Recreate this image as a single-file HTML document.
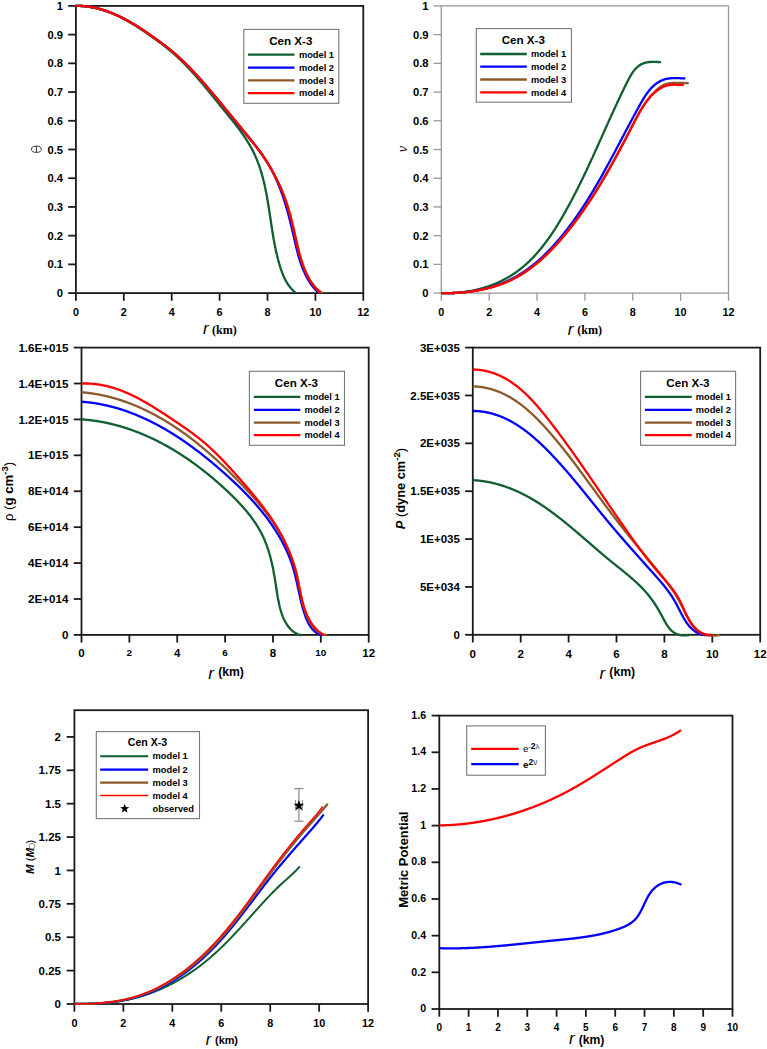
<!DOCTYPE html>
<html><head><meta charset="utf-8"><style>
html,body{margin:0;padding:0;background:#fff;overflow:hidden;font-family:"Liberation Sans", sans-serif;}
svg{display:block;}
</style></head><body>
<svg width="767" height="1049" viewBox="0 0 767 1049">
<rect x="0" y="0" width="767" height="1049" fill="#fff"/>
<rect x="75.90" y="5.90" width="287.40" height="287.20" fill="none" stroke="#1a1a1a" stroke-width="1.8"/>
<line x1="68.20" y1="293.10" x2="75.90" y2="293.10" stroke="#1a1a1a" stroke-width="1.8"/>
<text x="63.00" y="297.11" font-family="'Liberation Sans', sans-serif" font-size="11.2" font-weight="bold" font-style="normal" text-anchor="end" fill="#000" >0</text>
<line x1="68.20" y1="264.38" x2="75.90" y2="264.38" stroke="#1a1a1a" stroke-width="1.8"/>
<text x="63.00" y="268.39" font-family="'Liberation Sans', sans-serif" font-size="11.2" font-weight="bold" font-style="normal" text-anchor="end" fill="#000" >0.1</text>
<line x1="68.20" y1="235.66" x2="75.90" y2="235.66" stroke="#1a1a1a" stroke-width="1.8"/>
<text x="63.00" y="239.67" font-family="'Liberation Sans', sans-serif" font-size="11.2" font-weight="bold" font-style="normal" text-anchor="end" fill="#000" >0.2</text>
<line x1="68.20" y1="206.94" x2="75.90" y2="206.94" stroke="#1a1a1a" stroke-width="1.8"/>
<text x="63.00" y="210.95" font-family="'Liberation Sans', sans-serif" font-size="11.2" font-weight="bold" font-style="normal" text-anchor="end" fill="#000" >0.3</text>
<line x1="68.20" y1="178.22" x2="75.90" y2="178.22" stroke="#1a1a1a" stroke-width="1.8"/>
<text x="63.00" y="182.23" font-family="'Liberation Sans', sans-serif" font-size="11.2" font-weight="bold" font-style="normal" text-anchor="end" fill="#000" >0.4</text>
<line x1="68.20" y1="149.50" x2="75.90" y2="149.50" stroke="#1a1a1a" stroke-width="1.8"/>
<text x="63.00" y="153.51" font-family="'Liberation Sans', sans-serif" font-size="11.2" font-weight="bold" font-style="normal" text-anchor="end" fill="#000" >0.5</text>
<line x1="68.20" y1="120.78" x2="75.90" y2="120.78" stroke="#1a1a1a" stroke-width="1.8"/>
<text x="63.00" y="124.79" font-family="'Liberation Sans', sans-serif" font-size="11.2" font-weight="bold" font-style="normal" text-anchor="end" fill="#000" >0.6</text>
<line x1="68.20" y1="92.06" x2="75.90" y2="92.06" stroke="#1a1a1a" stroke-width="1.8"/>
<text x="63.00" y="96.07" font-family="'Liberation Sans', sans-serif" font-size="11.2" font-weight="bold" font-style="normal" text-anchor="end" fill="#000" >0.7</text>
<line x1="68.20" y1="63.34" x2="75.90" y2="63.34" stroke="#1a1a1a" stroke-width="1.8"/>
<text x="63.00" y="67.35" font-family="'Liberation Sans', sans-serif" font-size="11.2" font-weight="bold" font-style="normal" text-anchor="end" fill="#000" >0.8</text>
<line x1="68.20" y1="34.62" x2="75.90" y2="34.62" stroke="#1a1a1a" stroke-width="1.8"/>
<text x="63.00" y="38.63" font-family="'Liberation Sans', sans-serif" font-size="11.2" font-weight="bold" font-style="normal" text-anchor="end" fill="#000" >0.9</text>
<line x1="68.20" y1="5.90" x2="75.90" y2="5.90" stroke="#1a1a1a" stroke-width="1.8"/>
<text x="63.00" y="9.91" font-family="'Liberation Sans', sans-serif" font-size="11.2" font-weight="bold" font-style="normal" text-anchor="end" fill="#000" >1</text>
<line x1="75.90" y1="293.10" x2="75.90" y2="300.80" stroke="#1a1a1a" stroke-width="1.8"/>
<text x="75.90" y="315.60" font-family="'Liberation Sans', sans-serif" font-size="10.8" font-weight="bold" font-style="normal" text-anchor="middle" fill="#000" >0</text>
<line x1="123.80" y1="293.10" x2="123.80" y2="300.80" stroke="#1a1a1a" stroke-width="1.8"/>
<text x="123.80" y="315.60" font-family="'Liberation Sans', sans-serif" font-size="10.8" font-weight="bold" font-style="normal" text-anchor="middle" fill="#000" >2</text>
<line x1="171.70" y1="293.10" x2="171.70" y2="300.80" stroke="#1a1a1a" stroke-width="1.8"/>
<text x="171.70" y="315.60" font-family="'Liberation Sans', sans-serif" font-size="10.8" font-weight="bold" font-style="normal" text-anchor="middle" fill="#000" >4</text>
<line x1="219.60" y1="293.10" x2="219.60" y2="300.80" stroke="#1a1a1a" stroke-width="1.8"/>
<text x="219.60" y="315.60" font-family="'Liberation Sans', sans-serif" font-size="10.8" font-weight="bold" font-style="normal" text-anchor="middle" fill="#000" >6</text>
<line x1="267.50" y1="293.10" x2="267.50" y2="300.80" stroke="#1a1a1a" stroke-width="1.8"/>
<text x="267.50" y="315.60" font-family="'Liberation Sans', sans-serif" font-size="10.8" font-weight="bold" font-style="normal" text-anchor="middle" fill="#000" >8</text>
<line x1="315.40" y1="293.10" x2="315.40" y2="300.80" stroke="#1a1a1a" stroke-width="1.8"/>
<text x="315.40" y="315.60" font-family="'Liberation Sans', sans-serif" font-size="10.8" font-weight="bold" font-style="normal" text-anchor="middle" fill="#000" >10</text>
<line x1="363.30" y1="293.10" x2="363.30" y2="300.80" stroke="#1a1a1a" stroke-width="1.8"/>
<text x="363.30" y="315.60" font-family="'Liberation Sans', sans-serif" font-size="10.8" font-weight="bold" font-style="normal" text-anchor="middle" fill="#000" >12</text>
<ellipse cx="36.4" cy="149.25" rx="4.9" ry="3.15" fill="none" stroke="#333" stroke-width="1.0"/><line x1="36.4" y1="146.1" x2="36.4" y2="152.4" stroke="#333" stroke-width="1.0"/>
<text x="205.80" y="334.40" font-family="'Liberation Sans', sans-serif" font-size="17" font-weight="normal" font-style="italic" text-anchor="middle" fill="#000" >r</text>
<text x="224.40" y="333.70" font-family="'Liberation Serif', serif" font-size="12.1" font-weight="bold" font-style="normal" text-anchor="middle" fill="#000" >(km)</text>
<rect x="441.30" y="5.90" width="287.20" height="287.20" fill="none" stroke="#999" stroke-width="1.3"/>
<line x1="433.60" y1="293.10" x2="441.30" y2="293.10" stroke="#999" stroke-width="1.3"/>
<text x="428.50" y="297.11" font-family="'Liberation Sans', sans-serif" font-size="11.2" font-weight="bold" font-style="normal" text-anchor="end" fill="#000" >0</text>
<line x1="433.60" y1="264.38" x2="441.30" y2="264.38" stroke="#999" stroke-width="1.3"/>
<text x="428.50" y="268.39" font-family="'Liberation Sans', sans-serif" font-size="11.2" font-weight="bold" font-style="normal" text-anchor="end" fill="#000" >0.1</text>
<line x1="433.60" y1="235.66" x2="441.30" y2="235.66" stroke="#999" stroke-width="1.3"/>
<text x="428.50" y="239.67" font-family="'Liberation Sans', sans-serif" font-size="11.2" font-weight="bold" font-style="normal" text-anchor="end" fill="#000" >0.2</text>
<line x1="433.60" y1="206.94" x2="441.30" y2="206.94" stroke="#999" stroke-width="1.3"/>
<text x="428.50" y="210.95" font-family="'Liberation Sans', sans-serif" font-size="11.2" font-weight="bold" font-style="normal" text-anchor="end" fill="#000" >0.3</text>
<line x1="433.60" y1="178.22" x2="441.30" y2="178.22" stroke="#999" stroke-width="1.3"/>
<text x="428.50" y="182.23" font-family="'Liberation Sans', sans-serif" font-size="11.2" font-weight="bold" font-style="normal" text-anchor="end" fill="#000" >0.4</text>
<line x1="433.60" y1="149.50" x2="441.30" y2="149.50" stroke="#999" stroke-width="1.3"/>
<text x="428.50" y="153.51" font-family="'Liberation Sans', sans-serif" font-size="11.2" font-weight="bold" font-style="normal" text-anchor="end" fill="#000" >0.5</text>
<line x1="433.60" y1="120.78" x2="441.30" y2="120.78" stroke="#999" stroke-width="1.3"/>
<text x="428.50" y="124.79" font-family="'Liberation Sans', sans-serif" font-size="11.2" font-weight="bold" font-style="normal" text-anchor="end" fill="#000" >0.6</text>
<line x1="433.60" y1="92.06" x2="441.30" y2="92.06" stroke="#999" stroke-width="1.3"/>
<text x="428.50" y="96.07" font-family="'Liberation Sans', sans-serif" font-size="11.2" font-weight="bold" font-style="normal" text-anchor="end" fill="#000" >0.7</text>
<line x1="433.60" y1="63.34" x2="441.30" y2="63.34" stroke="#999" stroke-width="1.3"/>
<text x="428.50" y="67.35" font-family="'Liberation Sans', sans-serif" font-size="11.2" font-weight="bold" font-style="normal" text-anchor="end" fill="#000" >0.8</text>
<line x1="433.60" y1="34.62" x2="441.30" y2="34.62" stroke="#999" stroke-width="1.3"/>
<text x="428.50" y="38.63" font-family="'Liberation Sans', sans-serif" font-size="11.2" font-weight="bold" font-style="normal" text-anchor="end" fill="#000" >0.9</text>
<line x1="433.60" y1="5.90" x2="441.30" y2="5.90" stroke="#999" stroke-width="1.3"/>
<text x="428.50" y="9.91" font-family="'Liberation Sans', sans-serif" font-size="11.2" font-weight="bold" font-style="normal" text-anchor="end" fill="#000" >1</text>
<line x1="441.30" y1="293.10" x2="441.30" y2="300.80" stroke="#999" stroke-width="1.3"/>
<text x="441.30" y="315.60" font-family="'Liberation Sans', sans-serif" font-size="10.8" font-weight="bold" font-style="normal" text-anchor="middle" fill="#000" >0</text>
<line x1="489.17" y1="293.10" x2="489.17" y2="300.80" stroke="#999" stroke-width="1.3"/>
<text x="489.17" y="315.60" font-family="'Liberation Sans', sans-serif" font-size="10.8" font-weight="bold" font-style="normal" text-anchor="middle" fill="#000" >2</text>
<line x1="537.03" y1="293.10" x2="537.03" y2="300.80" stroke="#999" stroke-width="1.3"/>
<text x="537.03" y="315.60" font-family="'Liberation Sans', sans-serif" font-size="10.8" font-weight="bold" font-style="normal" text-anchor="middle" fill="#000" >4</text>
<line x1="584.90" y1="293.10" x2="584.90" y2="300.80" stroke="#999" stroke-width="1.3"/>
<text x="584.90" y="315.60" font-family="'Liberation Sans', sans-serif" font-size="10.8" font-weight="bold" font-style="normal" text-anchor="middle" fill="#000" >6</text>
<line x1="632.77" y1="293.10" x2="632.77" y2="300.80" stroke="#999" stroke-width="1.3"/>
<text x="632.77" y="315.60" font-family="'Liberation Sans', sans-serif" font-size="10.8" font-weight="bold" font-style="normal" text-anchor="middle" fill="#000" >8</text>
<line x1="680.63" y1="293.10" x2="680.63" y2="300.80" stroke="#999" stroke-width="1.3"/>
<text x="680.63" y="315.60" font-family="'Liberation Sans', sans-serif" font-size="10.8" font-weight="bold" font-style="normal" text-anchor="middle" fill="#000" >10</text>
<line x1="728.50" y1="293.10" x2="728.50" y2="300.80" stroke="#999" stroke-width="1.3"/>
<text x="728.50" y="315.60" font-family="'Liberation Sans', sans-serif" font-size="10.8" font-weight="bold" font-style="normal" text-anchor="middle" fill="#000" >12</text>
<text transform="translate(406.6,148.9) rotate(-90)" font-family="'Liberation Sans', sans-serif" font-size="12" font-style="italic" fill="#111" text-anchor="middle">&#957;</text>
<text x="570.60" y="335.20" font-family="'Liberation Sans', sans-serif" font-size="17" font-weight="normal" font-style="italic" text-anchor="middle" fill="#000" >r</text>
<text x="589.60" y="334.00" font-family="'Liberation Serif', serif" font-size="12.1" font-weight="bold" font-style="normal" text-anchor="middle" fill="#000" >(km)</text>
<rect x="81.50" y="347.60" width="287.20" height="287.30" fill="none" stroke="#1a1a1a" stroke-width="1.8"/>
<line x1="73.80" y1="634.90" x2="81.50" y2="634.90" stroke="#1a1a1a" stroke-width="1.8"/>
<text x="68.40" y="639.05" font-family="'Liberation Sans', sans-serif" font-size="11.6" font-weight="bold" font-style="normal" text-anchor="end" fill="#000" >0</text>
<line x1="73.80" y1="598.99" x2="81.50" y2="598.99" stroke="#1a1a1a" stroke-width="1.8"/>
<text x="68.40" y="603.14" font-family="'Liberation Sans', sans-serif" font-size="11.6" font-weight="bold" font-style="normal" text-anchor="end" fill="#000" >2E+014</text>
<line x1="73.80" y1="563.08" x2="81.50" y2="563.08" stroke="#1a1a1a" stroke-width="1.8"/>
<text x="68.40" y="567.23" font-family="'Liberation Sans', sans-serif" font-size="11.6" font-weight="bold" font-style="normal" text-anchor="end" fill="#000" >4E+014</text>
<line x1="73.80" y1="527.16" x2="81.50" y2="527.16" stroke="#1a1a1a" stroke-width="1.8"/>
<text x="68.40" y="531.32" font-family="'Liberation Sans', sans-serif" font-size="11.6" font-weight="bold" font-style="normal" text-anchor="end" fill="#000" >6E+014</text>
<line x1="73.80" y1="491.25" x2="81.50" y2="491.25" stroke="#1a1a1a" stroke-width="1.8"/>
<text x="68.40" y="495.40" font-family="'Liberation Sans', sans-serif" font-size="11.6" font-weight="bold" font-style="normal" text-anchor="end" fill="#000" >8E+014</text>
<line x1="73.80" y1="455.34" x2="81.50" y2="455.34" stroke="#1a1a1a" stroke-width="1.8"/>
<text x="68.40" y="459.49" font-family="'Liberation Sans', sans-serif" font-size="11.6" font-weight="bold" font-style="normal" text-anchor="end" fill="#000" >1E+015</text>
<line x1="73.80" y1="419.43" x2="81.50" y2="419.43" stroke="#1a1a1a" stroke-width="1.8"/>
<text x="68.40" y="423.58" font-family="'Liberation Sans', sans-serif" font-size="11.6" font-weight="bold" font-style="normal" text-anchor="end" fill="#000" >1.2E+015</text>
<line x1="73.80" y1="383.51" x2="81.50" y2="383.51" stroke="#1a1a1a" stroke-width="1.8"/>
<text x="68.40" y="387.67" font-family="'Liberation Sans', sans-serif" font-size="11.6" font-weight="bold" font-style="normal" text-anchor="end" fill="#000" >1.4E+015</text>
<line x1="73.80" y1="347.60" x2="81.50" y2="347.60" stroke="#1a1a1a" stroke-width="1.8"/>
<text x="68.40" y="351.75" font-family="'Liberation Sans', sans-serif" font-size="11.6" font-weight="bold" font-style="normal" text-anchor="end" fill="#000" >1.6E+015</text>
<line x1="81.50" y1="634.90" x2="81.50" y2="642.60" stroke="#1a1a1a" stroke-width="1.8"/>
<text x="81.50" y="657.30" font-family="'Liberation Sans', sans-serif" font-size="11.5" font-weight="bold" font-style="normal" text-anchor="middle" fill="#000" >0</text>
<line x1="129.37" y1="634.90" x2="129.37" y2="642.60" stroke="#1a1a1a" stroke-width="1.8"/>
<text x="129.37" y="655.70" font-family="'Liberation Sans', sans-serif" font-size="9.9" font-weight="bold" font-style="normal" text-anchor="middle" fill="#000" >2</text>
<line x1="177.23" y1="634.90" x2="177.23" y2="642.60" stroke="#1a1a1a" stroke-width="1.8"/>
<text x="177.23" y="657.30" font-family="'Liberation Sans', sans-serif" font-size="11.5" font-weight="bold" font-style="normal" text-anchor="middle" fill="#000" >4</text>
<line x1="225.10" y1="634.90" x2="225.10" y2="642.60" stroke="#1a1a1a" stroke-width="1.8"/>
<text x="225.10" y="655.70" font-family="'Liberation Sans', sans-serif" font-size="9.9" font-weight="bold" font-style="normal" text-anchor="middle" fill="#000" >6</text>
<line x1="272.97" y1="634.90" x2="272.97" y2="642.60" stroke="#1a1a1a" stroke-width="1.8"/>
<text x="272.97" y="657.30" font-family="'Liberation Sans', sans-serif" font-size="11.5" font-weight="bold" font-style="normal" text-anchor="middle" fill="#000" >8</text>
<line x1="320.83" y1="634.90" x2="320.83" y2="642.60" stroke="#1a1a1a" stroke-width="1.8"/>
<text x="320.83" y="655.70" font-family="'Liberation Sans', sans-serif" font-size="9.9" font-weight="bold" font-style="normal" text-anchor="middle" fill="#000" >10</text>
<line x1="368.70" y1="634.90" x2="368.70" y2="642.60" stroke="#1a1a1a" stroke-width="1.8"/>
<text x="368.70" y="657.30" font-family="'Liberation Sans', sans-serif" font-size="11.5" font-weight="bold" font-style="normal" text-anchor="middle" fill="#000" >12</text>
<g transform="translate(13,491.5) rotate(-90)"><text font-family="'Liberation Sans', sans-serif" font-size="13.2" text-anchor="middle" fill="#000"><tspan font-weight="normal">&#961;</tspan><tspan font-weight="normal"> (</tspan><tspan font-weight="bold">g cm</tspan><tspan font-weight="bold" font-size="9.5" dy="-5.5">-3</tspan><tspan font-weight="normal" dy="5.5">)</tspan></text></g>
<text x="211.00" y="678.80" font-family="'Liberation Sans', sans-serif" font-size="17" font-weight="normal" font-style="italic" text-anchor="middle" fill="#000" >r</text>
<text x="231.00" y="676.40" font-family="'Liberation Sans', sans-serif" font-size="12.2" font-weight="bold" font-style="normal" text-anchor="middle" fill="#000" >(km)</text>
<rect x="472.80" y="347.60" width="287.40" height="287.20" fill="none" stroke="#1a1a1a" stroke-width="1.8"/>
<line x1="465.10" y1="634.80" x2="472.80" y2="634.80" stroke="#1a1a1a" stroke-width="1.8"/>
<text x="459.90" y="638.92" font-family="'Liberation Sans', sans-serif" font-size="11.5" font-weight="bold" font-style="normal" text-anchor="end" fill="#000" >0</text>
<line x1="465.10" y1="586.93" x2="472.80" y2="586.93" stroke="#1a1a1a" stroke-width="1.8"/>
<text x="459.90" y="591.05" font-family="'Liberation Sans', sans-serif" font-size="11.5" font-weight="bold" font-style="normal" text-anchor="end" fill="#000" >5E+034</text>
<line x1="465.10" y1="539.07" x2="472.80" y2="539.07" stroke="#1a1a1a" stroke-width="1.8"/>
<text x="459.90" y="543.18" font-family="'Liberation Sans', sans-serif" font-size="11.5" font-weight="bold" font-style="normal" text-anchor="end" fill="#000" >1E+035</text>
<line x1="465.10" y1="491.20" x2="472.80" y2="491.20" stroke="#1a1a1a" stroke-width="1.8"/>
<text x="459.90" y="495.32" font-family="'Liberation Sans', sans-serif" font-size="11.5" font-weight="bold" font-style="normal" text-anchor="end" fill="#000" >1.5E+035</text>
<line x1="465.10" y1="443.33" x2="472.80" y2="443.33" stroke="#1a1a1a" stroke-width="1.8"/>
<text x="459.90" y="447.45" font-family="'Liberation Sans', sans-serif" font-size="11.5" font-weight="bold" font-style="normal" text-anchor="end" fill="#000" >2E+035</text>
<line x1="465.10" y1="395.47" x2="472.80" y2="395.47" stroke="#1a1a1a" stroke-width="1.8"/>
<text x="459.90" y="399.58" font-family="'Liberation Sans', sans-serif" font-size="11.5" font-weight="bold" font-style="normal" text-anchor="end" fill="#000" >2.5E+035</text>
<line x1="465.10" y1="347.60" x2="472.80" y2="347.60" stroke="#1a1a1a" stroke-width="1.8"/>
<text x="459.90" y="351.72" font-family="'Liberation Sans', sans-serif" font-size="11.5" font-weight="bold" font-style="normal" text-anchor="end" fill="#000" >3E+035</text>
<line x1="472.80" y1="634.80" x2="472.80" y2="642.50" stroke="#1a1a1a" stroke-width="1.8"/>
<text x="472.80" y="657.60" font-family="'Liberation Sans', sans-serif" font-size="11.5" font-weight="bold" font-style="normal" text-anchor="middle" fill="#000" >0</text>
<line x1="520.70" y1="634.80" x2="520.70" y2="642.50" stroke="#1a1a1a" stroke-width="1.8"/>
<text x="520.70" y="657.60" font-family="'Liberation Sans', sans-serif" font-size="11.5" font-weight="bold" font-style="normal" text-anchor="middle" fill="#000" >2</text>
<line x1="568.60" y1="634.80" x2="568.60" y2="642.50" stroke="#1a1a1a" stroke-width="1.8"/>
<text x="568.60" y="657.60" font-family="'Liberation Sans', sans-serif" font-size="11.5" font-weight="bold" font-style="normal" text-anchor="middle" fill="#000" >4</text>
<line x1="616.50" y1="634.80" x2="616.50" y2="642.50" stroke="#1a1a1a" stroke-width="1.8"/>
<text x="616.50" y="657.60" font-family="'Liberation Sans', sans-serif" font-size="11.5" font-weight="bold" font-style="normal" text-anchor="middle" fill="#000" >6</text>
<line x1="664.40" y1="634.80" x2="664.40" y2="642.50" stroke="#1a1a1a" stroke-width="1.8"/>
<text x="664.40" y="657.60" font-family="'Liberation Sans', sans-serif" font-size="11.5" font-weight="bold" font-style="normal" text-anchor="middle" fill="#000" >8</text>
<line x1="712.30" y1="634.80" x2="712.30" y2="642.50" stroke="#1a1a1a" stroke-width="1.8"/>
<text x="712.30" y="657.60" font-family="'Liberation Sans', sans-serif" font-size="11.5" font-weight="bold" font-style="normal" text-anchor="middle" fill="#000" >10</text>
<line x1="760.20" y1="634.80" x2="760.20" y2="642.50" stroke="#1a1a1a" stroke-width="1.8"/>
<text x="760.20" y="657.60" font-family="'Liberation Sans', sans-serif" font-size="11.5" font-weight="bold" font-style="normal" text-anchor="middle" fill="#000" >12</text>
<g transform="translate(405,488.5) rotate(-90)"><text font-family="'Liberation Sans', sans-serif" font-size="12.8" text-anchor="middle" fill="#000"><tspan font-weight="bold" font-style="italic">P</tspan><tspan font-weight="normal"> (</tspan><tspan font-weight="bold">dyne cm</tspan><tspan font-weight="bold" font-size="9.8" dy="-5.5">-2</tspan><tspan font-weight="normal" dy="5.5">)</tspan></text></g>
<text x="602.30" y="678.50" font-family="'Liberation Sans', sans-serif" font-size="17" font-weight="normal" font-style="italic" text-anchor="middle" fill="#000" >r</text>
<text x="622.20" y="676.20" font-family="'Liberation Sans', sans-serif" font-size="12.2" font-weight="bold" font-style="normal" text-anchor="middle" fill="#000" >(km)</text>
<rect x="74.40" y="710.20" width="293.70" height="293.80" fill="none" stroke="#1a1a1a" stroke-width="1.8"/>
<line x1="66.70" y1="1004.00" x2="74.40" y2="1004.00" stroke="#1a1a1a" stroke-width="1.8"/>
<text x="61.00" y="1008.12" font-family="'Liberation Sans', sans-serif" font-size="11.5" font-weight="bold" font-style="normal" text-anchor="end" fill="#000" >0</text>
<line x1="66.70" y1="970.61" x2="74.40" y2="970.61" stroke="#1a1a1a" stroke-width="1.8"/>
<text x="61.00" y="974.73" font-family="'Liberation Sans', sans-serif" font-size="11.5" font-weight="bold" font-style="normal" text-anchor="end" fill="#000" >0.25</text>
<line x1="66.70" y1="937.23" x2="74.40" y2="937.23" stroke="#1a1a1a" stroke-width="1.8"/>
<text x="61.00" y="941.34" font-family="'Liberation Sans', sans-serif" font-size="11.5" font-weight="bold" font-style="normal" text-anchor="end" fill="#000" >0.5</text>
<line x1="66.70" y1="903.84" x2="74.40" y2="903.84" stroke="#1a1a1a" stroke-width="1.8"/>
<text x="61.00" y="907.96" font-family="'Liberation Sans', sans-serif" font-size="11.5" font-weight="bold" font-style="normal" text-anchor="end" fill="#000" >0.75</text>
<line x1="66.70" y1="870.45" x2="74.40" y2="870.45" stroke="#1a1a1a" stroke-width="1.8"/>
<text x="61.00" y="874.57" font-family="'Liberation Sans', sans-serif" font-size="11.5" font-weight="bold" font-style="normal" text-anchor="end" fill="#000" >1</text>
<line x1="66.70" y1="837.07" x2="74.40" y2="837.07" stroke="#1a1a1a" stroke-width="1.8"/>
<text x="61.00" y="841.19" font-family="'Liberation Sans', sans-serif" font-size="11.5" font-weight="bold" font-style="normal" text-anchor="end" fill="#000" >1.25</text>
<line x1="66.70" y1="803.68" x2="74.40" y2="803.68" stroke="#1a1a1a" stroke-width="1.8"/>
<text x="61.00" y="807.80" font-family="'Liberation Sans', sans-serif" font-size="11.5" font-weight="bold" font-style="normal" text-anchor="end" fill="#000" >1.5</text>
<line x1="66.70" y1="770.30" x2="74.40" y2="770.30" stroke="#1a1a1a" stroke-width="1.8"/>
<text x="61.00" y="774.41" font-family="'Liberation Sans', sans-serif" font-size="11.5" font-weight="bold" font-style="normal" text-anchor="end" fill="#000" >1.75</text>
<line x1="66.70" y1="736.91" x2="74.40" y2="736.91" stroke="#1a1a1a" stroke-width="1.8"/>
<text x="61.00" y="741.03" font-family="'Liberation Sans', sans-serif" font-size="11.5" font-weight="bold" font-style="normal" text-anchor="end" fill="#000" >2</text>
<line x1="74.40" y1="1004.00" x2="74.40" y2="1011.70" stroke="#1a1a1a" stroke-width="1.8"/>
<text x="74.40" y="1026.90" font-family="'Liberation Sans', sans-serif" font-size="10.8" font-weight="bold" font-style="normal" text-anchor="middle" fill="#000" >0</text>
<line x1="123.35" y1="1004.00" x2="123.35" y2="1011.70" stroke="#1a1a1a" stroke-width="1.8"/>
<text x="123.35" y="1026.90" font-family="'Liberation Sans', sans-serif" font-size="10.8" font-weight="bold" font-style="normal" text-anchor="middle" fill="#000" >2</text>
<line x1="172.30" y1="1004.00" x2="172.30" y2="1011.70" stroke="#1a1a1a" stroke-width="1.8"/>
<text x="172.30" y="1026.90" font-family="'Liberation Sans', sans-serif" font-size="10.8" font-weight="bold" font-style="normal" text-anchor="middle" fill="#000" >4</text>
<line x1="221.25" y1="1004.00" x2="221.25" y2="1011.70" stroke="#1a1a1a" stroke-width="1.8"/>
<text x="221.25" y="1026.90" font-family="'Liberation Sans', sans-serif" font-size="10.8" font-weight="bold" font-style="normal" text-anchor="middle" fill="#000" >6</text>
<line x1="270.20" y1="1004.00" x2="270.20" y2="1011.70" stroke="#1a1a1a" stroke-width="1.8"/>
<text x="270.20" y="1026.90" font-family="'Liberation Sans', sans-serif" font-size="10.8" font-weight="bold" font-style="normal" text-anchor="middle" fill="#000" >8</text>
<line x1="319.15" y1="1004.00" x2="319.15" y2="1011.70" stroke="#1a1a1a" stroke-width="1.8"/>
<text x="319.15" y="1026.90" font-family="'Liberation Sans', sans-serif" font-size="10.8" font-weight="bold" font-style="normal" text-anchor="middle" fill="#000" >10</text>
<line x1="368.10" y1="1004.00" x2="368.10" y2="1011.70" stroke="#1a1a1a" stroke-width="1.8"/>
<text x="368.10" y="1026.90" font-family="'Liberation Sans', sans-serif" font-size="10.8" font-weight="bold" font-style="normal" text-anchor="middle" fill="#000" >12</text>
<g transform="translate(33.5,856.8) rotate(-90)"><text font-family="'Liberation Sans', sans-serif" font-size="11.5" text-anchor="middle" fill="#000"><tspan font-weight="bold" font-style="italic">M</tspan><tspan font-weight="normal"> (</tspan><tspan font-weight="bold" font-style="italic">M</tspan><tspan font-size="8">&#160;&#160;</tspan><tspan font-weight="normal">)</tspan></text><circle cx="10.6" cy="-1.5" r="2.9" fill="none" stroke="#777" stroke-width="0.8"/></g>
<text x="208.30" y="1044.60" font-family="'Liberation Sans', sans-serif" font-size="16" font-weight="normal" font-style="italic" text-anchor="middle" fill="#000" >r</text>
<text x="226.50" y="1043.90" font-family="'Liberation Sans', sans-serif" font-size="10.9" font-weight="bold" font-style="normal" text-anchor="middle" fill="#000" >(km)</text>
<rect x="439.30" y="715.60" width="293.20" height="293.40" fill="none" stroke="#1a1a1a" stroke-width="1.8"/>
<line x1="431.60" y1="1009.00" x2="439.30" y2="1009.00" stroke="#1a1a1a" stroke-width="1.8"/>
<text x="426.10" y="1012.19" font-family="'Liberation Sans', sans-serif" font-size="10.6" font-weight="bold" font-style="normal" text-anchor="end" fill="#000" >0</text>
<line x1="431.60" y1="972.33" x2="439.30" y2="972.33" stroke="#1a1a1a" stroke-width="1.8"/>
<text x="426.10" y="975.52" font-family="'Liberation Sans', sans-serif" font-size="10.6" font-weight="bold" font-style="normal" text-anchor="end" fill="#000" >0.2</text>
<line x1="431.60" y1="935.65" x2="439.30" y2="935.65" stroke="#1a1a1a" stroke-width="1.8"/>
<text x="426.10" y="938.84" font-family="'Liberation Sans', sans-serif" font-size="10.6" font-weight="bold" font-style="normal" text-anchor="end" fill="#000" >0.4</text>
<line x1="431.60" y1="898.98" x2="439.30" y2="898.98" stroke="#1a1a1a" stroke-width="1.8"/>
<text x="426.10" y="902.17" font-family="'Liberation Sans', sans-serif" font-size="10.6" font-weight="bold" font-style="normal" text-anchor="end" fill="#000" >0.6</text>
<line x1="431.60" y1="862.30" x2="439.30" y2="862.30" stroke="#1a1a1a" stroke-width="1.8"/>
<text x="426.10" y="865.49" font-family="'Liberation Sans', sans-serif" font-size="10.6" font-weight="bold" font-style="normal" text-anchor="end" fill="#000" >0.8</text>
<line x1="431.60" y1="825.62" x2="439.30" y2="825.62" stroke="#1a1a1a" stroke-width="1.8"/>
<text x="426.10" y="828.82" font-family="'Liberation Sans', sans-serif" font-size="10.6" font-weight="bold" font-style="normal" text-anchor="end" fill="#000" >1</text>
<line x1="431.60" y1="788.95" x2="439.30" y2="788.95" stroke="#1a1a1a" stroke-width="1.8"/>
<text x="426.10" y="792.14" font-family="'Liberation Sans', sans-serif" font-size="10.6" font-weight="bold" font-style="normal" text-anchor="end" fill="#000" >1.2</text>
<line x1="431.60" y1="752.28" x2="439.30" y2="752.28" stroke="#1a1a1a" stroke-width="1.8"/>
<text x="426.10" y="755.47" font-family="'Liberation Sans', sans-serif" font-size="10.6" font-weight="bold" font-style="normal" text-anchor="end" fill="#000" >1.4</text>
<line x1="431.60" y1="715.60" x2="439.30" y2="715.60" stroke="#1a1a1a" stroke-width="1.8"/>
<text x="426.10" y="718.79" font-family="'Liberation Sans', sans-serif" font-size="10.6" font-weight="bold" font-style="normal" text-anchor="end" fill="#000" >1.6</text>
<line x1="439.30" y1="1009.00" x2="439.30" y2="1016.70" stroke="#1a1a1a" stroke-width="1.8"/>
<text x="439.30" y="1030.60" font-family="'Liberation Sans', sans-serif" font-size="10.0" font-weight="bold" font-style="normal" text-anchor="middle" fill="#000" >0</text>
<line x1="468.62" y1="1009.00" x2="468.62" y2="1016.70" stroke="#1a1a1a" stroke-width="1.8"/>
<text x="468.62" y="1030.60" font-family="'Liberation Sans', sans-serif" font-size="10.0" font-weight="bold" font-style="normal" text-anchor="middle" fill="#000" >1</text>
<line x1="497.94" y1="1009.00" x2="497.94" y2="1016.70" stroke="#1a1a1a" stroke-width="1.8"/>
<text x="497.94" y="1030.60" font-family="'Liberation Sans', sans-serif" font-size="10.0" font-weight="bold" font-style="normal" text-anchor="middle" fill="#000" >2</text>
<line x1="527.26" y1="1009.00" x2="527.26" y2="1016.70" stroke="#1a1a1a" stroke-width="1.8"/>
<text x="527.26" y="1030.60" font-family="'Liberation Sans', sans-serif" font-size="10.0" font-weight="bold" font-style="normal" text-anchor="middle" fill="#000" >3</text>
<line x1="556.58" y1="1009.00" x2="556.58" y2="1016.70" stroke="#1a1a1a" stroke-width="1.8"/>
<text x="556.58" y="1030.60" font-family="'Liberation Sans', sans-serif" font-size="10.0" font-weight="bold" font-style="normal" text-anchor="middle" fill="#000" >4</text>
<line x1="585.90" y1="1009.00" x2="585.90" y2="1016.70" stroke="#1a1a1a" stroke-width="1.8"/>
<text x="585.90" y="1030.60" font-family="'Liberation Sans', sans-serif" font-size="10.0" font-weight="bold" font-style="normal" text-anchor="middle" fill="#000" >5</text>
<line x1="615.22" y1="1009.00" x2="615.22" y2="1016.70" stroke="#1a1a1a" stroke-width="1.8"/>
<text x="615.22" y="1030.60" font-family="'Liberation Sans', sans-serif" font-size="10.0" font-weight="bold" font-style="normal" text-anchor="middle" fill="#000" >6</text>
<line x1="644.54" y1="1009.00" x2="644.54" y2="1016.70" stroke="#1a1a1a" stroke-width="1.8"/>
<text x="644.54" y="1030.60" font-family="'Liberation Sans', sans-serif" font-size="10.0" font-weight="bold" font-style="normal" text-anchor="middle" fill="#000" >7</text>
<line x1="673.86" y1="1009.00" x2="673.86" y2="1016.70" stroke="#1a1a1a" stroke-width="1.8"/>
<text x="673.86" y="1030.60" font-family="'Liberation Sans', sans-serif" font-size="10.0" font-weight="bold" font-style="normal" text-anchor="middle" fill="#000" >8</text>
<line x1="703.18" y1="1009.00" x2="703.18" y2="1016.70" stroke="#1a1a1a" stroke-width="1.8"/>
<text x="703.18" y="1030.60" font-family="'Liberation Sans', sans-serif" font-size="10.0" font-weight="bold" font-style="normal" text-anchor="middle" fill="#000" >9</text>
<line x1="732.50" y1="1009.00" x2="732.50" y2="1016.70" stroke="#1a1a1a" stroke-width="1.8"/>
<text x="732.50" y="1030.60" font-family="'Liberation Sans', sans-serif" font-size="10.0" font-weight="bold" font-style="normal" text-anchor="middle" fill="#000" >10</text>
<text transform="translate(407.5,859.7) rotate(-90)" font-family="'Liberation Sans', sans-serif" font-size="12.95" font-weight="bold" text-anchor="middle">Metric Potential</text>
<text x="571.90" y="1044.40" font-family="'Liberation Sans', sans-serif" font-size="17" font-weight="normal" font-style="italic" text-anchor="middle" fill="#000" >r</text>
<text x="591.50" y="1043.60" font-family="'Liberation Sans', sans-serif" font-size="12.2" font-weight="bold" font-style="normal" text-anchor="middle" fill="#000" >(km)</text>
<path d="M75.5,5.9 L76.0,5.9 L76.5,5.9 L77.0,5.9 L77.5,5.9 L78.0,5.9 L78.5,5.9 L79.0,5.9 L79.5,5.9 L80.0,5.9 L80.5,6.0 L81.0,6.0 L81.6,6.0 L82.1,6.1 L82.6,6.1 L83.1,6.1 L83.6,6.2 L84.1,6.2 L84.6,6.3 L85.1,6.3 L85.6,6.4 L86.1,6.4 L86.6,6.5 L87.1,6.6 L87.6,6.6 L88.1,6.7 L88.5,6.8 L89.0,6.8 L89.5,6.9 L90.0,7.0 L90.5,7.1 L91.0,7.2 L91.5,7.3 L92.0,7.3 L92.5,7.4 L93.0,7.5 L93.5,7.6 L94.0,7.7 L94.4,7.8 L94.9,7.9 L95.4,8.1 L95.9,8.2 L96.4,8.3 L96.9,8.4 L97.4,8.5 L97.8,8.6 L98.3,8.8 L98.8,8.9 L99.3,9.0 L99.8,9.2 L100.3,9.3 L100.7,9.4 L101.2,9.6 L101.7,9.7 L102.2,9.9 L102.6,10.0 L103.1,10.2 L103.6,10.3 L104.1,10.5 L104.6,10.6 L105.0,10.8 L105.5,10.9 L106.0,11.1 L106.4,11.3 L106.9,11.4 L107.4,11.6 L107.9,11.8 L108.3,12.0 L108.8,12.1 L109.3,12.3 L109.7,12.5 L110.2,12.7 L110.7,12.8 L111.1,13.0 L111.6,13.2 L112.0,13.4 L112.5,13.6 L113.0,13.8 L113.4,14.0 L113.9,14.2 L114.4,14.4 L114.8,14.6 L115.3,14.8 L115.7,15.0 L116.2,15.2 L116.6,15.4 L117.1,15.6 L117.6,15.8 L118.0,16.0 L118.5,16.3 L118.9,16.5 L119.4,16.7 L119.8,16.9 L120.3,17.1 L120.7,17.4 L121.2,17.6 L121.6,17.8 L122.1,18.0 L122.5,18.3 L122.9,18.5 L123.4,18.7 L123.8,19.0 L124.3,19.2 L124.7,19.4 L125.2,19.7 L125.6,19.9 L126.0,20.1 L126.5,20.4 L126.9,20.6 L127.4,20.9 L127.8,21.1 L128.2,21.4 L128.7,21.6 L129.1,21.9 L129.5,22.1 L130.0,22.4 L130.4,22.6 L130.8,22.9 L131.3,23.1 L131.7,23.4 L132.1,23.6 L132.5,23.9 L133.0,24.2 L133.4,24.4 L133.8,24.7 L134.3,24.9 L134.7,25.2 L135.1,25.5 L135.5,25.7 L136.0,26.0 L136.4,26.3 L136.8,26.5 L137.2,26.8 L137.6,27.1 L138.1,27.3 L138.5,27.6 L138.9,27.9 L139.3,28.2 L139.7,28.4 L140.2,28.7 L140.6,29.0 L141.0,29.3 L141.4,29.5 L141.8,29.8 L142.2,30.1 L142.7,30.4 L143.1,30.7 L143.5,30.9 L143.9,31.2 L144.3,31.5 L144.7,31.8 L145.1,32.1 L145.6,32.3 L146.0,32.6 L146.4,32.9 L146.8,33.2 L147.2,33.5 L147.6,33.8 L148.0,34.1 L148.4,34.3 L148.8,34.6 L149.2,34.9 L149.7,35.2 L150.1,35.5 L150.5,35.8 L150.9,36.1 L151.3,36.4 L151.7,36.7 L152.1,37.0 L152.5,37.2 L152.9,37.5 L153.3,37.8 L153.7,38.1 L154.1,38.4 L154.6,38.7 L155.0,39.0 L155.4,39.3 L155.8,39.6 L156.2,39.9 L156.6,40.2 L157.0,40.5 L157.4,40.8 L157.8,41.1 L158.2,41.4 L158.6,41.6 L159.0,41.9 L159.4,42.2 L159.8,42.5 L160.2,42.8 L160.6,43.1 L161.0,43.4 L161.4,43.7 L161.8,44.0 L162.2,44.3 L162.6,44.6 L163.0,44.9 L163.4,45.2 L163.8,45.6 L164.2,45.9 L164.6,46.2 L165.0,46.5 L165.4,46.8 L165.8,47.1 L166.2,47.4 L166.6,47.7 L166.9,48.0 L167.3,48.3 L167.7,48.6 L168.1,48.9 L168.5,49.3 L168.9,49.6 L169.3,49.9 L169.6,50.2 L170.0,50.5 L170.4,50.8 L170.8,51.2 L171.2,51.5 L171.6,51.8 L171.9,52.1 L172.3,52.4 L172.7,52.8 L173.1,53.1 L173.4,53.4 L173.8,53.7 L174.2,54.1 L174.5,54.4 L174.9,54.7 L175.3,55.1 L175.7,55.4 L176.0,55.7 L176.4,56.1 L176.8,56.4 L177.1,56.7 L177.5,57.1 L177.8,57.4 L178.2,57.7 L178.6,58.1 L178.9,58.4 L179.3,58.8 L179.6,59.1 L180.0,59.4 L180.4,59.8 L180.7,60.1 L181.1,60.5 L181.4,60.8 L181.8,61.2 L182.1,61.5 L182.5,61.9 L182.8,62.2 L183.2,62.6 L183.5,62.9 L183.9,63.3 L184.2,63.6 L184.6,64.0 L184.9,64.3 L185.3,64.7 L185.6,65.0 L186.0,65.4 L186.3,65.7 L186.7,66.1 L187.0,66.4 L187.3,66.8 L187.7,67.2 L188.0,67.5 L188.4,67.9 L188.7,68.2 L189.0,68.6 L189.4,69.0 L189.7,69.3 L190.1,69.7 L190.4,70.0 L190.7,70.4 L191.1,70.8 L191.4,71.1 L191.7,71.5 L192.1,71.9 L192.4,72.2 L192.7,72.6 L193.1,73.0 L193.4,73.3 L193.7,73.7 L194.1,74.1 L194.4,74.5 L194.7,74.8 L195.1,75.2 L195.4,75.6 L195.7,75.9 L196.0,76.3 L196.4,76.7 L196.7,77.1 L197.0,77.4 L197.4,77.8 L197.7,78.2 L198.0,78.6 L198.3,78.9 L198.7,79.3 L199.0,79.7 L199.3,80.1 L199.6,80.4 L200.0,80.8 L200.3,81.2 L200.6,81.6 L200.9,82.0 L201.3,82.3 L201.6,82.7 L201.9,83.1 L202.2,83.5 L202.5,83.9 L202.9,84.2 L203.2,84.6 L203.5,85.0 L203.8,85.4 L204.1,85.8 L204.5,86.2 L204.8,86.5 L205.1,86.9 L205.4,87.3 L205.7,87.7 L206.1,88.1 L206.4,88.5 L206.7,88.9 L207.0,89.2 L207.3,89.6 L207.7,90.0 L208.0,90.4 L208.3,90.8 L208.6,91.2 L208.9,91.6 L209.2,92.0 L209.6,92.3 L209.9,92.7 L210.2,93.1 L210.5,93.5 L210.8,93.9 L211.1,94.3 L211.5,94.7 L211.8,95.1 L212.1,95.5 L212.4,95.9 L212.7,96.2 L213.0,96.6 L213.4,97.0 L213.7,97.4 L214.0,97.8 L214.3,98.2 L214.6,98.6 L214.9,99.0 L215.3,99.4 L215.6,99.8 L215.9,100.2 L216.2,100.6 L216.5,100.9 L216.9,101.3 L217.2,101.7 L217.5,102.1 L217.8,102.5 L218.1,102.9 L218.4,103.3 L218.8,103.7 L219.1,104.1 L219.4,104.5 L219.7,104.9 L220.0,105.3 L220.3,105.7 L220.7,106.1 L221.0,106.4 L221.3,106.8 L221.6,107.2 L221.9,107.6 L222.3,108.0 L222.6,108.4 L222.9,108.8 L223.2,109.2 L223.5,109.6 L223.9,110.0 L224.2,110.4 L224.5,110.8 L224.8,111.2 L225.1,111.6 L225.5,111.9 L225.8,112.3 L226.1,112.7 L226.4,113.1 L226.7,113.5 L227.1,113.9 L227.4,114.3 L227.7,114.7 L228.0,115.1 L228.3,115.5 L228.7,115.9 L229.0,116.3 L229.3,116.7 L229.6,117.1 L229.9,117.5 L230.3,117.9 L230.6,118.3 L230.9,118.6 L231.2,119.0 L231.5,119.4 L231.9,119.8 L232.2,120.2 L232.5,120.6 L232.8,121.0 L233.1,121.4 L233.4,121.8 L233.7,122.2 L234.1,122.6 L234.4,123.0 L234.7,123.4 L235.0,123.8 L235.3,124.2 L235.6,124.6 L235.9,125.0 L236.2,125.4 L236.5,125.8 L236.8,126.2 L237.1,126.6 L237.5,127.0 L237.8,127.4 L238.1,127.8 L238.4,128.2 L238.7,128.6 L239.0,129.0 L239.3,129.4 L239.6,129.8 L239.9,130.3 L240.2,130.7 L240.5,131.1 L240.8,131.5 L241.1,131.9 L241.3,132.3 L241.6,132.7 L241.9,133.1 L242.2,133.5 L242.5,133.9 L242.8,134.3 L243.1,134.7 L243.4,135.2 L243.7,135.6 L243.9,136.0 L244.2,136.4 L244.5,136.8 L244.8,137.2 L245.1,137.6 L245.3,138.1 L245.6,138.5 L245.9,138.9 L246.1,139.3 L246.4,139.7 L246.7,140.1 L247.0,140.6 L247.2,141.0 L247.5,141.4 L247.7,141.8 L248.0,142.3 L248.3,142.7 L248.5,143.1 L248.8,143.5 L249.0,144.0 L249.3,144.4 L249.5,144.8 L249.8,145.2 L250.0,145.7 L250.3,146.1 L250.5,146.5 L250.8,147.0 L251.0,147.4 L251.3,147.8 L251.5,148.2 L251.7,148.7 L252.0,149.1 L252.2,149.6 L252.4,150.0 L252.6,150.4 L252.9,150.9 L253.1,151.3 L253.3,151.7 L253.5,152.2 L253.8,152.6 L254.0,153.1 L254.2,153.5 L254.4,154.0 L254.6,154.4 L254.8,154.9 L255.0,155.3 L255.2,155.8 L255.4,156.2 L255.6,156.7 L255.8,157.1 L256.0,157.6 L256.2,158.0 L256.4,158.5 L256.6,158.9 L256.8,159.4 L257.0,159.8 L257.1,160.3 L257.3,160.7 L257.5,161.2 L257.7,161.7 L257.9,162.1 L258.0,162.6 L258.2,163.0 L258.4,163.5 L258.6,164.0 L258.7,164.4 L258.9,164.9 L259.1,165.4 L259.2,165.8 L259.4,166.3 L259.5,166.8 L259.7,167.2 L259.9,167.7 L260.0,168.2 L260.2,168.6 L260.3,169.1 L260.5,169.6 L260.6,170.1 L260.8,170.5 L260.9,171.0 L261.1,171.5 L261.2,171.9 L261.3,172.4 L261.5,172.9 L261.6,173.4 L261.8,173.9 L261.9,174.3 L262.0,174.8 L262.2,175.3 L262.3,175.8 L262.4,176.2 L262.6,176.7 L262.7,177.2 L262.8,177.7 L262.9,178.2 L263.1,178.7 L263.2,179.1 L263.3,179.6 L263.4,180.1 L263.6,180.6 L263.7,181.1 L263.8,181.6 L263.9,182.0 L264.0,182.5 L264.1,183.0 L264.3,183.5 L264.4,184.0 L264.5,184.5 L264.6,185.0 L264.7,185.5 L264.8,185.9 L264.9,186.4 L265.0,186.9 L265.1,187.4 L265.2,187.9 L265.3,188.4 L265.4,188.9 L265.5,189.4 L265.6,189.9 L265.7,190.4 L265.8,190.9 L265.9,191.4 L266.0,191.8 L266.1,192.3 L266.2,192.8 L266.3,193.3 L266.4,193.8 L266.5,194.3 L266.6,194.8 L266.7,195.3 L266.8,195.8 L266.9,196.3 L267.0,196.8 L267.1,197.3 L267.1,197.8 L267.2,198.3 L267.3,198.8 L267.4,199.3 L267.5,199.8 L267.6,200.3 L267.7,200.8 L267.7,201.3 L267.8,201.8 L267.9,202.3 L268.0,202.8 L268.1,203.3 L268.2,203.8 L268.2,204.3 L268.3,204.8 L268.4,205.3 L268.5,205.8 L268.6,206.3 L268.6,206.8 L268.7,207.3 L268.8,207.8 L268.9,208.3 L269.0,208.8 L269.0,209.3 L269.1,209.8 L269.2,210.3 L269.3,210.8 L269.3,211.3 L269.4,211.8 L269.5,212.3 L269.6,212.8 L269.6,213.3 L269.7,213.8 L269.8,214.3 L269.9,214.8 L269.9,215.3 L270.0,215.8 L270.1,216.3 L270.2,216.8 L270.2,217.3 L270.3,217.8 L270.4,218.3 L270.5,218.8 L270.5,219.3 L270.6,219.8 L270.7,220.3 L270.8,220.8 L270.8,221.3 L270.9,221.8 L271.0,222.3 L271.1,222.8 L271.1,223.3 L271.2,223.8 L271.3,224.3 L271.4,224.8 L271.4,225.3 L271.5,225.8 L271.6,226.3 L271.7,226.8 L271.7,227.3 L271.8,227.8 L271.9,228.3 L272.0,228.8 L272.0,229.2 L272.1,229.7 L272.2,230.2 L272.3,230.7 L272.4,231.2 L272.4,231.7 L272.5,232.2 L272.6,232.7 L272.7,233.2 L272.8,233.7 L272.8,234.2 L272.9,234.7 L273.0,235.2 L273.1,235.7 L273.2,236.2 L273.3,236.7 L273.3,237.2 L273.4,237.7 L273.5,238.2 L273.6,238.7 L273.7,239.2 L273.8,239.6 L273.9,240.1 L274.0,240.6 L274.0,241.1 L274.1,241.6 L274.2,242.1 L274.3,242.6 L274.4,243.1 L274.5,243.6 L274.6,244.1 L274.7,244.6 L274.8,245.0 L274.9,245.5 L275.0,246.0 L275.1,246.5 L275.2,247.0 L275.3,247.5 L275.4,248.0 L275.5,248.5 L275.6,249.0 L275.7,249.4 L275.8,249.9 L275.9,250.4 L276.0,250.9 L276.1,251.4 L276.2,251.9 L276.3,252.4 L276.4,252.9 L276.5,253.3 L276.7,253.8 L276.8,254.3 L276.9,254.8 L277.0,255.3 L277.1,255.8 L277.2,256.2 L277.4,256.7 L277.5,257.2 L277.6,257.7 L277.7,258.2 L277.9,258.7 L278.0,259.1 L278.1,259.6 L278.2,260.1 L278.4,260.6 L278.5,261.1 L278.6,261.5 L278.8,262.0 L278.9,262.5 L279.0,263.0 L279.2,263.5 L279.3,263.9 L279.5,264.4 L279.6,264.9 L279.7,265.4 L279.9,265.8 L280.0,266.3 L280.2,266.8 L280.3,267.3 L280.5,267.7 L280.6,268.2 L280.8,268.7 L281.0,269.2 L281.1,269.6 L281.3,270.1 L281.4,270.6 L281.6,271.1 L281.8,271.5 L281.9,272.0 L282.1,272.5 L282.3,272.9 L282.5,273.4 L282.7,273.9 L282.8,274.3 L283.0,274.8 L283.2,275.2 L283.4,275.7 L283.6,276.2 L283.8,276.6 L284.0,277.1 L284.2,277.5 L284.4,278.0 L284.6,278.4 L284.8,278.9 L285.1,279.3 L285.3,279.7 L285.5,280.2 L285.8,280.6 L286.0,281.0 L286.2,281.5 L286.5,281.9 L286.7,282.3 L287.0,282.8 L287.2,283.2 L287.5,283.6 L287.8,284.0 L288.0,284.4 L288.3,284.8 L288.6,285.2 L288.9,285.6 L289.2,286.0 L289.5,286.4 L289.8,286.8 L290.1,287.2 L290.4,287.6 L290.7,288.0 L291.0,288.4 L291.4,288.7 L291.7,289.1 L292.0,289.5 L292.4,289.8 L292.8,290.2 L293.1,290.6 L293.5,290.9 L293.9,291.3 L294.2,291.6 L294.6,291.9 L295.0,292.3 L295.4,292.6" fill="none" stroke="#0f5f30" stroke-width="2.3" stroke-linecap="butt" stroke-linejoin="round"/>
<path d="M75.5,5.9 L76.0,5.9 L76.5,5.9 L77.0,5.9 L77.5,5.9 L78.0,5.9 L78.5,5.9 L79.0,5.9 L79.5,5.9 L80.0,5.9 L80.5,5.9 L81.0,5.9 L81.5,6.0 L82.1,6.0 L82.6,6.0 L83.1,6.1 L83.6,6.1 L84.1,6.1 L84.6,6.2 L85.1,6.2 L85.6,6.3 L86.1,6.3 L86.6,6.4 L87.1,6.5 L87.5,6.5 L88.0,6.6 L88.5,6.7 L89.0,6.7 L89.5,6.8 L90.0,6.9 L90.5,7.0 L91.0,7.0 L91.5,7.1 L92.0,7.2 L92.5,7.3 L93.0,7.4 L93.5,7.5 L94.0,7.6 L94.4,7.7 L94.9,7.8 L95.4,7.9 L95.9,8.0 L96.4,8.1 L96.9,8.2 L97.4,8.4 L97.9,8.5 L98.3,8.6 L98.8,8.7 L99.3,8.8 L99.8,9.0 L100.3,9.1 L100.7,9.2 L101.2,9.4 L101.7,9.5 L102.2,9.7 L102.7,9.8 L103.1,10.0 L103.6,10.1 L104.1,10.3 L104.6,10.4 L105.0,10.6 L105.5,10.7 L106.0,10.9 L106.5,11.0 L106.9,11.2 L107.4,11.4 L107.9,11.5 L108.4,11.7 L108.8,11.9 L109.3,12.1 L109.8,12.2 L110.2,12.4 L110.7,12.6 L111.2,12.8 L111.6,13.0 L112.1,13.1 L112.6,13.3 L113.0,13.5 L113.5,13.7 L113.9,13.9 L114.4,14.1 L114.9,14.3 L115.3,14.5 L115.8,14.7 L116.2,14.9 L116.7,15.1 L117.2,15.3 L117.6,15.5 L118.1,15.7 L118.5,16.0 L119.0,16.2 L119.4,16.4 L119.9,16.6 L120.3,16.8 L120.8,17.0 L121.2,17.3 L121.7,17.5 L122.1,17.7 L122.6,17.9 L123.0,18.2 L123.5,18.4 L123.9,18.6 L124.4,18.9 L124.8,19.1 L125.3,19.3 L125.7,19.6 L126.1,19.8 L126.6,20.0 L127.0,20.3 L127.5,20.5 L127.9,20.8 L128.3,21.0 L128.8,21.2 L129.2,21.5 L129.7,21.7 L130.1,22.0 L130.5,22.2 L131.0,22.5 L131.4,22.7 L131.8,23.0 L132.3,23.3 L132.7,23.5 L133.1,23.8 L133.5,24.0 L134.0,24.3 L134.4,24.5 L134.8,24.8 L135.3,25.1 L135.7,25.3 L136.1,25.6 L136.5,25.9 L137.0,26.1 L137.4,26.4 L137.8,26.7 L138.2,26.9 L138.7,27.2 L139.1,27.5 L139.5,27.7 L139.9,28.0 L140.3,28.3 L140.8,28.6 L141.2,28.8 L141.6,29.1 L142.0,29.4 L142.4,29.7 L142.8,29.9 L143.3,30.2 L143.7,30.5 L144.1,30.8 L144.5,31.0 L144.9,31.3 L145.3,31.6 L145.7,31.9 L146.2,32.2 L146.6,32.5 L147.0,32.7 L147.4,33.0 L147.8,33.3 L148.2,33.6 L148.6,33.9 L149.0,34.2 L149.4,34.4 L149.9,34.7 L150.3,35.0 L150.7,35.3 L151.1,35.6 L151.5,35.9 L151.9,36.2 L152.3,36.4 L152.7,36.7 L153.1,37.0 L153.5,37.3 L153.9,37.6 L154.3,37.9 L154.7,38.2 L155.2,38.5 L155.6,38.8 L156.0,39.0 L156.4,39.3 L156.8,39.6 L157.2,39.9 L157.6,40.2 L158.0,40.5 L158.4,40.8 L158.8,41.1 L159.2,41.4 L159.6,41.7 L160.0,42.0 L160.4,42.3 L160.8,42.6 L161.2,42.9 L161.6,43.1 L162.0,43.4 L162.4,43.7 L162.8,44.0 L163.2,44.3 L163.6,44.6 L164.0,44.9 L164.4,45.2 L164.8,45.5 L165.2,45.8 L165.6,46.1 L165.9,46.4 L166.3,46.7 L166.7,47.1 L167.1,47.4 L167.5,47.7 L167.9,48.0 L168.3,48.3 L168.7,48.6 L169.1,48.9 L169.4,49.2 L169.8,49.5 L170.2,49.8 L170.6,50.1 L171.0,50.5 L171.4,50.8 L171.8,51.1 L172.1,51.4 L172.5,51.7 L172.9,52.1 L173.3,52.4 L173.6,52.7 L174.0,53.0 L174.4,53.3 L174.8,53.7 L175.2,54.0 L175.5,54.3 L175.9,54.6 L176.3,55.0 L176.6,55.3 L177.0,55.6 L177.4,56.0 L177.8,56.3 L178.1,56.6 L178.5,56.9 L178.9,57.3 L179.2,57.6 L179.6,58.0 L180.0,58.3 L180.3,58.6 L180.7,59.0 L181.1,59.3 L181.4,59.6 L181.8,60.0 L182.2,60.3 L182.5,60.7 L182.9,61.0 L183.2,61.3 L183.6,61.7 L184.0,62.0 L184.3,62.4 L184.7,62.7 L185.0,63.1 L185.4,63.4 L185.7,63.8 L186.1,64.1 L186.5,64.5 L186.8,64.8 L187.2,65.2 L187.5,65.5 L187.9,65.9 L188.2,66.2 L188.6,66.6 L188.9,66.9 L189.3,67.3 L189.6,67.6 L190.0,68.0 L190.3,68.3 L190.7,68.7 L191.0,69.1 L191.4,69.4 L191.7,69.8 L192.1,70.1 L192.4,70.5 L192.7,70.9 L193.1,71.2 L193.4,71.6 L193.8,71.9 L194.1,72.3 L194.5,72.7 L194.8,73.0 L195.1,73.4 L195.5,73.8 L195.8,74.1 L196.2,74.5 L196.5,74.9 L196.8,75.2 L197.2,75.6 L197.5,76.0 L197.9,76.3 L198.2,76.7 L198.5,77.1 L198.9,77.4 L199.2,77.8 L199.5,78.2 L199.9,78.6 L200.2,78.9 L200.5,79.3 L200.9,79.7 L201.2,80.0 L201.5,80.4 L201.9,80.8 L202.2,81.2 L202.5,81.5 L202.9,81.9 L203.2,82.3 L203.5,82.7 L203.9,83.0 L204.2,83.4 L204.5,83.8 L204.9,84.2 L205.2,84.6 L205.5,84.9 L205.8,85.3 L206.2,85.7 L206.5,86.1 L206.8,86.5 L207.2,86.8 L207.5,87.2 L207.8,87.6 L208.1,88.0 L208.5,88.4 L208.8,88.7 L209.1,89.1 L209.4,89.5 L209.8,89.9 L210.1,90.3 L210.4,90.7 L210.7,91.0 L211.1,91.4 L211.4,91.8 L211.7,92.2 L212.0,92.6 L212.3,93.0 L212.7,93.3 L213.0,93.7 L213.3,94.1 L213.6,94.5 L214.0,94.9 L214.3,95.3 L214.6,95.7 L214.9,96.0 L215.2,96.4 L215.6,96.8 L215.9,97.2 L216.2,97.6 L216.5,98.0 L216.8,98.4 L217.1,98.8 L217.5,99.1 L217.8,99.5 L218.1,99.9 L218.4,100.3 L218.7,100.7 L219.1,101.1 L219.4,101.5 L219.7,101.9 L220.0,102.3 L220.3,102.6 L220.6,103.0 L221.0,103.4 L221.3,103.8 L221.6,104.2 L221.9,104.6 L222.2,105.0 L222.5,105.4 L222.9,105.8 L223.2,106.1 L223.5,106.5 L223.8,106.9 L224.1,107.3 L224.4,107.7 L224.7,108.1 L225.1,108.5 L225.4,108.9 L225.7,109.3 L226.0,109.6 L226.3,110.0 L226.6,110.4 L226.9,110.8 L227.3,111.2 L227.6,111.6 L227.9,112.0 L228.2,112.4 L228.5,112.8 L228.8,113.2 L229.1,113.5 L229.5,113.9 L229.8,114.3 L230.1,114.7 L230.4,115.1 L230.7,115.5 L231.0,115.9 L231.3,116.3 L231.7,116.7 L232.0,117.0 L232.3,117.4 L232.6,117.8 L232.9,118.2 L233.2,118.6 L233.5,119.0 L233.9,119.4 L234.2,119.8 L234.5,120.2 L234.8,120.6 L235.1,120.9 L235.4,121.3 L235.7,121.7 L236.1,122.1 L236.4,122.5 L236.7,122.9 L237.0,123.3 L237.3,123.7 L237.6,124.1 L238.0,124.4 L238.3,124.8 L238.6,125.2 L238.9,125.6 L239.2,126.0 L239.5,126.4 L239.9,126.8 L240.2,127.2 L240.5,127.6 L240.8,127.9 L241.1,128.3 L241.4,128.7 L241.8,129.1 L242.1,129.5 L242.4,129.9 L242.7,130.3 L243.0,130.7 L243.3,131.0 L243.7,131.4 L244.0,131.8 L244.3,132.2 L244.6,132.6 L244.9,133.0 L245.3,133.4 L245.6,133.8 L245.9,134.1 L246.2,134.5 L246.5,134.9 L246.9,135.3 L247.2,135.7 L247.5,136.1 L247.8,136.5 L248.1,136.9 L248.5,137.2 L248.8,137.6 L249.1,138.0 L249.4,138.4 L249.8,138.8 L250.1,139.2 L250.4,139.6 L250.7,139.9 L251.1,140.3 L251.4,140.7 L251.7,141.1 L252.0,141.5 L252.3,141.9 L252.7,142.3 L253.0,142.6 L253.3,143.0 L253.6,143.4 L254.0,143.8 L254.3,144.2 L254.6,144.6 L254.9,145.0 L255.2,145.4 L255.5,145.7 L255.9,146.1 L256.2,146.5 L256.5,146.9 L256.8,147.3 L257.1,147.7 L257.4,148.1 L257.7,148.5 L258.0,148.9 L258.4,149.3 L258.7,149.7 L259.0,150.1 L259.3,150.5 L259.6,150.9 L259.9,151.3 L260.2,151.7 L260.5,152.1 L260.8,152.5 L261.1,152.9 L261.3,153.3 L261.6,153.7 L261.9,154.1 L262.2,154.5 L262.5,154.9 L262.8,155.3 L263.1,155.8 L263.4,156.2 L263.6,156.6 L263.9,157.0 L264.2,157.4 L264.5,157.8 L264.7,158.2 L265.0,158.7 L265.3,159.1 L265.5,159.5 L265.8,159.9 L266.1,160.3 L266.3,160.8 L266.6,161.2 L266.9,161.6 L267.1,162.0 L267.4,162.5 L267.6,162.9 L267.9,163.3 L268.2,163.8 L268.4,164.2 L268.7,164.6 L268.9,165.0 L269.2,165.5 L269.4,165.9 L269.6,166.3 L269.9,166.8 L270.1,167.2 L270.4,167.7 L270.6,168.1 L270.8,168.5 L271.1,169.0 L271.3,169.4 L271.6,169.8 L271.8,170.3 L272.0,170.7 L272.2,171.2 L272.5,171.6 L272.7,172.1 L272.9,172.5 L273.2,172.9 L273.4,173.4 L273.6,173.8 L273.8,174.3 L274.0,174.7 L274.3,175.2 L274.5,175.6 L274.7,176.1 L274.9,176.5 L275.1,177.0 L275.3,177.4 L275.5,177.9 L275.7,178.3 L275.9,178.8 L276.2,179.2 L276.4,179.7 L276.6,180.2 L276.8,180.6 L277.0,181.1 L277.2,181.5 L277.4,182.0 L277.6,182.4 L277.8,182.9 L277.9,183.4 L278.1,183.8 L278.3,184.3 L278.5,184.7 L278.7,185.2 L278.9,185.7 L279.1,186.1 L279.3,186.6 L279.5,187.1 L279.6,187.5 L279.8,188.0 L280.0,188.5 L280.2,188.9 L280.4,189.4 L280.5,189.9 L280.7,190.3 L280.9,190.8 L281.1,191.3 L281.2,191.7 L281.4,192.2 L281.6,192.7 L281.8,193.1 L281.9,193.6 L282.1,194.1 L282.3,194.5 L282.4,195.0 L282.6,195.5 L282.8,196.0 L282.9,196.4 L283.1,196.9 L283.2,197.4 L283.4,197.8 L283.6,198.3 L283.7,198.8 L283.9,199.3 L284.0,199.7 L284.2,200.2 L284.3,200.7 L284.5,201.2 L284.6,201.6 L284.8,202.1 L284.9,202.6 L285.1,203.1 L285.2,203.6 L285.4,204.0 L285.5,204.5 L285.7,205.0 L285.8,205.5 L286.0,205.9 L286.1,206.4 L286.2,206.9 L286.4,207.4 L286.5,207.9 L286.7,208.3 L286.8,208.8 L286.9,209.3 L287.1,209.8 L287.2,210.3 L287.4,210.7 L287.5,211.2 L287.6,211.7 L287.8,212.2 L287.9,212.7 L288.0,213.2 L288.1,213.6 L288.3,214.1 L288.4,214.6 L288.5,215.1 L288.7,215.6 L288.8,216.1 L288.9,216.5 L289.0,217.0 L289.2,217.5 L289.3,218.0 L289.4,218.5 L289.5,219.0 L289.7,219.4 L289.8,219.9 L289.9,220.4 L290.0,220.9 L290.2,221.4 L290.3,221.9 L290.4,222.4 L290.5,222.9 L290.6,223.3 L290.8,223.8 L290.9,224.3 L291.0,224.8 L291.1,225.3 L291.2,225.8 L291.4,226.3 L291.5,226.8 L291.6,227.3 L291.7,227.7 L291.8,228.2 L291.9,228.7 L292.1,229.2 L292.2,229.7 L292.3,230.2 L292.4,230.7 L292.5,231.2 L292.6,231.7 L292.7,232.2 L292.9,232.6 L293.0,233.1 L293.1,233.6 L293.2,234.1 L293.3,234.6 L293.4,235.1 L293.5,235.6 L293.7,236.1 L293.8,236.6 L293.9,237.1 L294.0,237.6 L294.1,238.1 L294.2,238.6 L294.3,239.0 L294.4,239.5 L294.6,240.0 L294.7,240.5 L294.8,241.0 L294.9,241.5 L295.0,242.0 L295.1,242.5 L295.2,243.0 L295.4,243.5 L295.5,244.0 L295.6,244.5 L295.7,245.0 L295.8,245.5 L295.9,245.9 L296.1,246.4 L296.2,246.9 L296.3,247.4 L296.4,247.9 L296.5,248.4 L296.7,248.9 L296.8,249.4 L296.9,249.9 L297.0,250.4 L297.2,250.8 L297.3,251.3 L297.4,251.8 L297.5,252.3 L297.7,252.8 L297.8,253.3 L297.9,253.8 L298.1,254.3 L298.2,254.7 L298.3,255.2 L298.5,255.7 L298.6,256.2 L298.7,256.7 L298.9,257.1 L299.0,257.6 L299.2,258.1 L299.3,258.6 L299.4,259.1 L299.6,259.5 L299.7,260.0 L299.9,260.5 L300.0,261.0 L300.2,261.4 L300.4,261.9 L300.5,262.4 L300.7,262.9 L300.8,263.3 L301.0,263.8 L301.2,264.3 L301.3,264.7 L301.5,265.2 L301.7,265.7 L301.8,266.1 L302.0,266.6 L302.2,267.1 L302.4,267.5 L302.5,268.0 L302.7,268.5 L302.9,268.9 L303.1,269.4 L303.3,269.8 L303.5,270.3 L303.7,270.7 L303.9,271.2 L304.1,271.6 L304.3,272.1 L304.5,272.5 L304.7,273.0 L304.9,273.4 L305.1,273.9 L305.3,274.3 L305.5,274.8 L305.7,275.2 L306.0,275.6 L306.2,276.1 L306.4,276.5 L306.6,277.0 L306.9,277.4 L307.1,277.8 L307.3,278.3 L307.6,278.7 L307.8,279.1 L308.1,279.5 L308.3,280.0 L308.6,280.4 L308.8,280.8 L309.1,281.2 L309.4,281.6 L309.6,282.0 L309.9,282.5 L310.2,282.9 L310.4,283.3 L310.7,283.7 L311.0,284.1 L311.3,284.5 L311.6,284.9 L311.9,285.3 L312.2,285.7 L312.5,286.1 L312.8,286.5 L313.1,286.9 L313.4,287.2 L313.8,287.6 L314.1,288.0 L314.4,288.4 L314.7,288.8 L315.1,289.1 L315.4,289.5 L315.8,289.9 L316.1,290.2 L316.5,290.6 L316.8,291.0 L317.2,291.3 L317.6,291.7 L317.9,292.0 L318.3,292.4 L318.7,292.7" fill="none" stroke="#0000ff" stroke-width="2.3" stroke-linecap="butt" stroke-linejoin="round"/>
<path d="M75.5,5.9 L76.0,5.8 L76.5,5.8 L77.0,5.8 L77.5,5.9 L78.0,5.9 L78.5,5.9 L79.0,5.9 L79.5,5.9 L80.0,5.9 L80.5,5.9 L81.0,6.0 L81.5,6.0 L82.0,6.0 L82.5,6.1 L83.0,6.1 L83.5,6.1 L84.0,6.2 L84.5,6.2 L85.0,6.3 L85.5,6.3 L86.0,6.4 L86.5,6.4 L87.0,6.5 L87.5,6.6 L88.0,6.6 L88.5,6.7 L89.0,6.8 L89.5,6.8 L90.0,6.9 L90.5,7.0 L91.0,7.1 L91.5,7.2 L92.0,7.3 L92.4,7.3 L92.9,7.4 L93.4,7.5 L93.9,7.6 L94.4,7.7 L94.9,7.8 L95.4,7.9 L95.9,8.0 L96.4,8.2 L96.9,8.3 L97.3,8.4 L97.8,8.5 L98.3,8.6 L98.8,8.7 L99.3,8.9 L99.8,9.0 L100.3,9.1 L100.7,9.3 L101.2,9.4 L101.7,9.5 L102.2,9.7 L102.7,9.8 L103.1,10.0 L103.6,10.1 L104.1,10.2 L104.6,10.4 L105.1,10.5 L105.5,10.7 L106.0,10.9 L106.5,11.0 L107.0,11.2 L107.4,11.3 L107.9,11.5 L108.4,11.7 L108.9,11.9 L109.3,12.0 L109.8,12.2 L110.3,12.4 L110.7,12.6 L111.2,12.7 L111.7,12.9 L112.1,13.1 L112.6,13.3 L113.1,13.5 L113.5,13.7 L114.0,13.9 L114.5,14.1 L114.9,14.2 L115.4,14.4 L115.8,14.6 L116.3,14.8 L116.8,15.1 L117.2,15.3 L117.7,15.5 L118.1,15.7 L118.6,15.9 L119.0,16.1 L119.5,16.3 L120.0,16.5 L120.4,16.7 L120.9,17.0 L121.3,17.2 L121.8,17.4 L122.2,17.6 L122.7,17.9 L123.1,18.1 L123.5,18.3 L124.0,18.6 L124.4,18.8 L124.9,19.0 L125.3,19.3 L125.8,19.5 L126.2,19.7 L126.6,20.0 L127.1,20.2 L127.5,20.5 L128.0,20.7 L128.4,21.0 L128.8,21.2 L129.3,21.5 L129.7,21.7 L130.1,22.0 L130.6,22.2 L131.0,22.5 L131.4,22.7 L131.8,23.0 L132.3,23.2 L132.7,23.5 L133.1,23.8 L133.5,24.0 L134.0,24.3 L134.4,24.6 L134.8,24.8 L135.2,25.1 L135.7,25.4 L136.1,25.6 L136.5,25.9 L136.9,26.2 L137.3,26.4 L137.8,26.7 L138.2,27.0 L138.6,27.2 L139.0,27.5 L139.4,27.8 L139.8,28.1 L140.3,28.4 L140.7,28.6 L141.1,28.9 L141.5,29.2 L141.9,29.5 L142.3,29.7 L142.7,30.0 L143.2,30.3 L143.6,30.6 L144.0,30.9 L144.4,31.2 L144.8,31.4 L145.2,31.7 L145.6,32.0 L146.0,32.3 L146.4,32.6 L146.9,32.9 L147.3,33.1 L147.7,33.4 L148.1,33.7 L148.5,34.0 L148.9,34.3 L149.3,34.6 L149.7,34.9 L150.1,35.2 L150.5,35.4 L151.0,35.7 L151.4,36.0 L151.8,36.3 L152.2,36.6 L152.6,36.9 L153.0,37.2 L153.4,37.4 L153.8,37.7 L154.2,38.0 L154.6,38.3 L155.0,38.6 L155.5,38.9 L155.9,39.2 L156.3,39.4 L156.7,39.7 L157.1,40.0 L157.5,40.3 L157.9,40.6 L158.3,40.9 L158.7,41.2 L159.1,41.5 L159.5,41.7 L160.0,42.0 L160.4,42.3 L160.8,42.6 L161.2,42.9 L161.6,43.2 L162.0,43.5 L162.4,43.8 L162.8,44.1 L163.2,44.4 L163.6,44.6 L164.0,44.9 L164.4,45.2 L164.8,45.5 L165.2,45.8 L165.6,46.1 L166.0,46.4 L166.4,46.7 L166.8,47.0 L167.2,47.3 L167.6,47.6 L168.0,47.9 L168.4,48.2 L168.8,48.5 L169.2,48.8 L169.6,49.1 L169.9,49.4 L170.3,49.8 L170.7,50.1 L171.1,50.4 L171.5,50.7 L171.9,51.0 L172.3,51.3 L172.6,51.6 L173.0,52.0 L173.4,52.3 L173.8,52.6 L174.2,52.9 L174.5,53.2 L174.9,53.6 L175.3,53.9 L175.7,54.2 L176.0,54.5 L176.4,54.9 L176.8,55.2 L177.2,55.5 L177.5,55.8 L177.9,56.2 L178.3,56.5 L178.6,56.8 L179.0,57.2 L179.4,57.5 L179.7,57.8 L180.1,58.2 L180.5,58.5 L180.8,58.8 L181.2,59.2 L181.6,59.5 L181.9,59.9 L182.3,60.2 L182.6,60.6 L183.0,60.9 L183.4,61.2 L183.7,61.6 L184.1,61.9 L184.4,62.3 L184.8,62.6 L185.1,63.0 L185.5,63.3 L185.8,63.7 L186.2,64.0 L186.5,64.4 L186.9,64.7 L187.2,65.1 L187.6,65.4 L187.9,65.8 L188.3,66.1 L188.6,66.5 L189.0,66.9 L189.3,67.2 L189.7,67.6 L190.0,67.9 L190.4,68.3 L190.7,68.7 L191.0,69.0 L191.4,69.4 L191.7,69.7 L192.1,70.1 L192.4,70.5 L192.7,70.8 L193.1,71.2 L193.4,71.6 L193.8,71.9 L194.1,72.3 L194.4,72.7 L194.8,73.0 L195.1,73.4 L195.4,73.8 L195.8,74.1 L196.1,74.5 L196.4,74.9 L196.8,75.3 L197.1,75.6 L197.4,76.0 L197.8,76.4 L198.1,76.7 L198.4,77.1 L198.8,77.5 L199.1,77.9 L199.4,78.2 L199.8,78.6 L200.1,79.0 L200.4,79.4 L200.8,79.7 L201.1,80.1 L201.4,80.5 L201.7,80.9 L202.1,81.3 L202.4,81.6 L202.7,82.0 L203.1,82.4 L203.4,82.8 L203.7,83.2 L204.0,83.5 L204.4,83.9 L204.7,84.3 L205.0,84.7 L205.3,85.1 L205.7,85.4 L206.0,85.8 L206.3,86.2 L206.6,86.6 L207.0,87.0 L207.3,87.4 L207.6,87.7 L207.9,88.1 L208.2,88.5 L208.6,88.9 L208.9,89.3 L209.2,89.7 L209.5,90.0 L209.9,90.4 L210.2,90.8 L210.5,91.2 L210.8,91.6 L211.1,92.0 L211.5,92.4 L211.8,92.7 L212.1,93.1 L212.4,93.5 L212.8,93.9 L213.1,94.3 L213.4,94.7 L213.7,95.1 L214.0,95.4 L214.4,95.8 L214.7,96.2 L215.0,96.6 L215.3,97.0 L215.7,97.4 L216.0,97.8 L216.3,98.2 L216.6,98.5 L216.9,98.9 L217.3,99.3 L217.6,99.7 L217.9,100.1 L218.2,100.5 L218.5,100.9 L218.9,101.2 L219.2,101.6 L219.5,102.0 L219.8,102.4 L220.2,102.8 L220.5,103.2 L220.8,103.6 L221.1,103.9 L221.4,104.3 L221.8,104.7 L222.1,105.1 L222.4,105.5 L222.7,105.9 L223.1,106.2 L223.4,106.6 L223.7,107.0 L224.0,107.4 L224.4,107.8 L224.7,108.2 L225.0,108.6 L225.3,108.9 L225.7,109.3 L226.0,109.7 L226.3,110.1 L226.6,110.5 L227.0,110.9 L227.3,111.2 L227.6,111.6 L227.9,112.0 L228.3,112.4 L228.6,112.8 L228.9,113.1 L229.2,113.5 L229.6,113.9 L229.9,114.3 L230.2,114.7 L230.5,115.1 L230.9,115.4 L231.2,115.8 L231.5,116.2 L231.8,116.6 L232.2,117.0 L232.5,117.4 L232.8,117.7 L233.1,118.1 L233.5,118.5 L233.8,118.9 L234.1,119.3 L234.4,119.6 L234.7,120.0 L235.1,120.4 L235.4,120.8 L235.7,121.2 L236.0,121.6 L236.4,121.9 L236.7,122.3 L237.0,122.7 L237.3,123.1 L237.7,123.5 L238.0,123.9 L238.3,124.2 L238.6,124.6 L238.9,125.0 L239.3,125.4 L239.6,125.8 L239.9,126.2 L240.2,126.6 L240.6,126.9 L240.9,127.3 L241.2,127.7 L241.5,128.1 L241.8,128.5 L242.2,128.9 L242.5,129.3 L242.8,129.6 L243.1,130.0 L243.4,130.4 L243.7,130.8 L244.1,131.2 L244.4,131.6 L244.7,132.0 L245.0,132.3 L245.3,132.7 L245.6,133.1 L246.0,133.5 L246.3,133.9 L246.6,134.3 L246.9,134.7 L247.2,135.1 L247.5,135.5 L247.8,135.9 L248.2,136.2 L248.5,136.6 L248.8,137.0 L249.1,137.4 L249.4,137.8 L249.7,138.2 L250.0,138.6 L250.3,139.0 L250.6,139.4 L250.9,139.8 L251.3,140.2 L251.6,140.6 L251.9,141.0 L252.2,141.4 L252.5,141.8 L252.8,142.1 L253.1,142.5 L253.4,142.9 L253.7,143.3 L254.0,143.7 L254.3,144.1 L254.6,144.5 L254.9,144.9 L255.2,145.3 L255.5,145.7 L255.8,146.1 L256.1,146.5 L256.4,146.9 L256.7,147.3 L257.0,147.7 L257.3,148.1 L257.6,148.5 L257.9,149.0 L258.2,149.4 L258.5,149.8 L258.8,150.2 L259.1,150.6 L259.3,151.0 L259.6,151.4 L259.9,151.8 L260.2,152.2 L260.5,152.6 L260.8,153.0 L261.1,153.4 L261.4,153.8 L261.7,154.3 L261.9,154.7 L262.2,155.1 L262.5,155.5 L262.8,155.9 L263.1,156.3 L263.3,156.7 L263.6,157.1 L263.9,157.6 L264.2,158.0 L264.5,158.4 L264.7,158.8 L265.0,159.2 L265.3,159.7 L265.6,160.1 L265.8,160.5 L266.1,160.9 L266.4,161.3 L266.7,161.8 L266.9,162.2 L267.2,162.6 L267.5,163.0 L267.7,163.4 L268.0,163.9 L268.3,164.3 L268.5,164.7 L268.8,165.1 L269.0,165.6 L269.3,166.0 L269.6,166.4 L269.8,166.9 L270.1,167.3 L270.3,167.7 L270.6,168.1 L270.9,168.6 L271.1,169.0 L271.4,169.4 L271.6,169.9 L271.9,170.3 L272.1,170.7 L272.4,171.2 L272.6,171.6 L272.9,172.0 L273.1,172.5 L273.3,172.9 L273.6,173.3 L273.8,173.8 L274.1,174.2 L274.3,174.7 L274.6,175.1 L274.8,175.5 L275.0,176.0 L275.3,176.4 L275.5,176.9 L275.7,177.3 L276.0,177.7 L276.2,178.2 L276.4,178.6 L276.7,179.1 L276.9,179.5 L277.1,180.0 L277.3,180.4 L277.6,180.8 L277.8,181.3 L278.0,181.7 L278.2,182.2 L278.4,182.6 L278.7,183.1 L278.9,183.5 L279.1,184.0 L279.3,184.4 L279.5,184.9 L279.7,185.3 L279.9,185.8 L280.2,186.2 L280.4,186.7 L280.6,187.1 L280.8,187.6 L281.0,188.1 L281.2,188.5 L281.4,189.0 L281.6,189.4 L281.8,189.9 L282.0,190.3 L282.2,190.8 L282.4,191.3 L282.6,191.7 L282.8,192.2 L282.9,192.6 L283.1,193.1 L283.3,193.6 L283.5,194.0 L283.7,194.5 L283.9,194.9 L284.1,195.4 L284.2,195.9 L284.4,196.3 L284.6,196.8 L284.8,197.3 L284.9,197.7 L285.1,198.2 L285.3,198.7 L285.5,199.1 L285.6,199.6 L285.8,200.1 L286.0,200.5 L286.1,201.0 L286.3,201.5 L286.4,202.0 L286.6,202.4 L286.8,202.9 L286.9,203.4 L287.1,203.8 L287.2,204.3 L287.4,204.8 L287.5,205.3 L287.7,205.7 L287.8,206.2 L288.0,206.7 L288.1,207.2 L288.3,207.7 L288.4,208.1 L288.6,208.6 L288.7,209.1 L288.9,209.6 L289.0,210.0 L289.1,210.5 L289.3,211.0 L289.4,211.5 L289.5,212.0 L289.7,212.4 L289.8,212.9 L290.0,213.4 L290.1,213.9 L290.2,214.4 L290.4,214.9 L290.5,215.3 L290.6,215.8 L290.7,216.3 L290.9,216.8 L291.0,217.3 L291.1,217.8 L291.2,218.3 L291.4,218.7 L291.5,219.2 L291.6,219.7 L291.7,220.2 L291.9,220.7 L292.0,221.2 L292.1,221.7 L292.2,222.2 L292.3,222.6 L292.5,223.1 L292.6,223.6 L292.7,224.1 L292.8,224.6 L292.9,225.1 L293.1,225.6 L293.2,226.1 L293.3,226.6 L293.4,227.0 L293.5,227.5 L293.6,228.0 L293.7,228.5 L293.9,229.0 L294.0,229.5 L294.1,230.0 L294.2,230.5 L294.3,231.0 L294.4,231.5 L294.5,232.0 L294.7,232.5 L294.8,233.0 L294.9,233.4 L295.0,233.9 L295.1,234.4 L295.2,234.9 L295.3,235.4 L295.4,235.9 L295.5,236.4 L295.7,236.9 L295.8,237.4 L295.9,237.9 L296.0,238.4 L296.1,238.9 L296.2,239.4 L296.3,239.9 L296.4,240.4 L296.5,240.9 L296.7,241.3 L296.8,241.8 L296.9,242.3 L297.0,242.8 L297.1,243.3 L297.2,243.8 L297.3,244.3 L297.5,244.8 L297.6,245.3 L297.7,245.8 L297.8,246.3 L297.9,246.8 L298.0,247.3 L298.2,247.8 L298.3,248.2 L298.4,248.7 L298.5,249.2 L298.6,249.7 L298.8,250.2 L298.9,250.7 L299.0,251.2 L299.1,251.7 L299.3,252.2 L299.4,252.6 L299.5,253.1 L299.7,253.6 L299.8,254.1 L299.9,254.6 L300.1,255.1 L300.2,255.6 L300.3,256.0 L300.5,256.5 L300.6,257.0 L300.7,257.5 L300.9,258.0 L301.0,258.5 L301.2,258.9 L301.3,259.4 L301.5,259.9 L301.6,260.4 L301.8,260.8 L301.9,261.3 L302.1,261.8 L302.2,262.3 L302.4,262.7 L302.5,263.2 L302.7,263.7 L302.9,264.2 L303.0,264.6 L303.2,265.1 L303.4,265.6 L303.5,266.0 L303.7,266.5 L303.9,267.0 L304.0,267.4 L304.2,267.9 L304.4,268.4 L304.6,268.8 L304.8,269.3 L305.0,269.7 L305.1,270.2 L305.3,270.6 L305.5,271.1 L305.7,271.6 L305.9,272.0 L306.1,272.5 L306.3,272.9 L306.5,273.4 L306.7,273.8 L307.0,274.3 L307.2,274.7 L307.4,275.1 L307.6,275.6 L307.8,276.0 L308.0,276.5 L308.3,276.9 L308.5,277.3 L308.7,277.8 L309.0,278.2 L309.2,278.7 L309.4,279.1 L309.7,279.5 L309.9,279.9 L310.2,280.4 L310.5,280.8 L310.7,281.2 L311.0,281.6 L311.2,282.0 L311.5,282.4 L311.8,282.8 L312.1,283.2 L312.4,283.6 L312.6,284.0 L312.9,284.4 L313.2,284.8 L313.5,285.2 L313.9,285.6 L314.2,286.0 L314.5,286.4 L314.8,286.7 L315.1,287.1 L315.5,287.5 L315.8,287.8 L316.2,288.2 L316.5,288.5 L316.9,288.9 L317.3,289.2 L317.6,289.5 L318.0,289.9 L318.4,290.2 L318.8,290.5 L319.2,290.8 L319.6,291.1 L320.0,291.4 L320.4,291.7 L320.8,292.0 L321.3,292.3 L321.7,292.6 L322.2,292.8 L322.6,293.1" fill="none" stroke="#8c5a2a" stroke-width="2.3" stroke-linecap="butt" stroke-linejoin="round"/>
<path d="M75.5,5.9 L76.0,5.9 L76.5,5.8 L77.0,5.8 L77.5,5.8 L78.0,5.8 L78.5,5.8 L79.0,5.9 L79.5,5.9 L80.1,5.9 L80.6,5.9 L81.1,5.9 L81.6,5.9 L82.1,6.0 L82.6,6.0 L83.1,6.0 L83.6,6.1 L84.1,6.1 L84.6,6.2 L85.1,6.2 L85.6,6.3 L86.1,6.3 L86.6,6.4 L87.1,6.4 L87.6,6.5 L88.1,6.6 L88.6,6.6 L89.1,6.7 L89.6,6.8 L90.1,6.9 L90.6,6.9 L91.0,7.0 L91.5,7.1 L92.0,7.2 L92.5,7.3 L93.0,7.4 L93.5,7.5 L94.0,7.6 L94.5,7.7 L95.0,7.8 L95.4,7.9 L95.9,8.0 L96.4,8.1 L96.9,8.2 L97.4,8.4 L97.9,8.5 L98.3,8.6 L98.8,8.7 L99.3,8.9 L99.8,9.0 L100.3,9.1 L100.8,9.3 L101.2,9.4 L101.7,9.5 L102.2,9.7 L102.7,9.8 L103.1,10.0 L103.6,10.1 L104.1,10.3 L104.6,10.4 L105.0,10.6 L105.5,10.7 L106.0,10.9 L106.4,11.1 L106.9,11.2 L107.4,11.4 L107.9,11.6 L108.3,11.7 L108.8,11.9 L109.3,12.1 L109.7,12.3 L110.2,12.4 L110.7,12.6 L111.1,12.8 L111.6,13.0 L112.0,13.2 L112.5,13.4 L113.0,13.6 L113.4,13.8 L113.9,14.0 L114.3,14.2 L114.8,14.4 L115.3,14.6 L115.7,14.8 L116.2,15.0 L116.6,15.2 L117.1,15.4 L117.5,15.6 L118.0,15.8 L118.5,16.0 L118.9,16.2 L119.4,16.4 L119.8,16.6 L120.3,16.9 L120.7,17.1 L121.2,17.3 L121.6,17.5 L122.1,17.8 L122.5,18.0 L123.0,18.2 L123.4,18.4 L123.8,18.7 L124.3,18.9 L124.7,19.1 L125.2,19.4 L125.6,19.6 L126.1,19.8 L126.5,20.1 L126.9,20.3 L127.4,20.5 L127.8,20.8 L128.3,21.0 L128.7,21.3 L129.1,21.5 L129.6,21.8 L130.0,22.0 L130.5,22.3 L130.9,22.5 L131.3,22.8 L131.8,23.0 L132.2,23.3 L132.6,23.5 L133.1,23.8 L133.5,24.0 L133.9,24.3 L134.3,24.5 L134.8,24.8 L135.2,25.0 L135.6,25.3 L136.1,25.6 L136.5,25.8 L136.9,26.1 L137.3,26.3 L137.8,26.6 L138.2,26.9 L138.6,27.1 L139.0,27.4 L139.5,27.7 L139.9,27.9 L140.3,28.2 L140.7,28.5 L141.2,28.8 L141.6,29.0 L142.0,29.3 L142.4,29.6 L142.8,29.8 L143.3,30.1 L143.7,30.4 L144.1,30.7 L144.5,30.9 L144.9,31.2 L145.3,31.5 L145.8,31.8 L146.2,32.1 L146.6,32.3 L147.0,32.6 L147.4,32.9 L147.8,33.2 L148.2,33.5 L148.7,33.7 L149.1,34.0 L149.5,34.3 L149.9,34.6 L150.3,34.9 L150.7,35.2 L151.1,35.4 L151.5,35.7 L151.9,36.0 L152.4,36.3 L152.8,36.6 L153.2,36.9 L153.6,37.2 L154.0,37.5 L154.4,37.8 L154.8,38.0 L155.2,38.3 L155.6,38.6 L156.0,38.9 L156.4,39.2 L156.8,39.5 L157.2,39.8 L157.6,40.1 L158.0,40.4 L158.4,40.7 L158.8,41.0 L159.2,41.3 L159.6,41.6 L160.0,41.9 L160.4,42.1 L160.8,42.4 L161.2,42.7 L161.6,43.0 L162.0,43.3 L162.4,43.6 L162.8,43.9 L163.2,44.2 L163.6,44.5 L164.0,44.9 L164.4,45.2 L164.8,45.5 L165.2,45.8 L165.6,46.1 L166.0,46.4 L166.3,46.7 L166.7,47.0 L167.1,47.3 L167.5,47.6 L167.9,47.9 L168.3,48.2 L168.7,48.5 L169.1,48.9 L169.4,49.2 L169.8,49.5 L170.2,49.8 L170.6,50.1 L171.0,50.4 L171.3,50.8 L171.7,51.1 L172.1,51.4 L172.5,51.7 L172.9,52.0 L173.2,52.4 L173.6,52.7 L174.0,53.0 L174.4,53.3 L174.7,53.7 L175.1,54.0 L175.5,54.3 L175.8,54.6 L176.2,55.0 L176.6,55.3 L177.0,55.6 L177.3,56.0 L177.7,56.3 L178.1,56.6 L178.4,57.0 L178.8,57.3 L179.2,57.6 L179.5,58.0 L179.9,58.3 L180.3,58.7 L180.6,59.0 L181.0,59.3 L181.3,59.7 L181.7,60.0 L182.1,60.4 L182.4,60.7 L182.8,61.0 L183.1,61.4 L183.5,61.7 L183.9,62.1 L184.2,62.4 L184.6,62.8 L184.9,63.1 L185.3,63.5 L185.6,63.8 L186.0,64.2 L186.3,64.5 L186.7,64.9 L187.1,65.2 L187.4,65.6 L187.8,65.9 L188.1,66.3 L188.5,66.6 L188.8,67.0 L189.2,67.3 L189.5,67.7 L189.8,68.0 L190.2,68.4 L190.5,68.7 L190.9,69.1 L191.2,69.5 L191.6,69.8 L191.9,70.2 L192.3,70.5 L192.6,70.9 L193.0,71.3 L193.3,71.6 L193.6,72.0 L194.0,72.3 L194.3,72.7 L194.7,73.1 L195.0,73.4 L195.4,73.8 L195.7,74.2 L196.0,74.5 L196.4,74.9 L196.7,75.3 L197.0,75.6 L197.4,76.0 L197.7,76.4 L198.1,76.7 L198.4,77.1 L198.7,77.5 L199.1,77.8 L199.4,78.2 L199.7,78.6 L200.1,78.9 L200.4,79.3 L200.7,79.7 L201.1,80.1 L201.4,80.4 L201.7,80.8 L202.1,81.2 L202.4,81.6 L202.7,81.9 L203.1,82.3 L203.4,82.7 L203.7,83.1 L204.1,83.4 L204.4,83.8 L204.7,84.2 L205.1,84.6 L205.4,84.9 L205.7,85.3 L206.0,85.7 L206.4,86.1 L206.7,86.4 L207.0,86.8 L207.3,87.2 L207.7,87.6 L208.0,88.0 L208.3,88.3 L208.7,88.7 L209.0,89.1 L209.3,89.5 L209.6,89.9 L210.0,90.2 L210.3,90.6 L210.6,91.0 L210.9,91.4 L211.3,91.8 L211.6,92.2 L211.9,92.5 L212.2,92.9 L212.6,93.3 L212.9,93.7 L213.2,94.1 L213.5,94.4 L213.8,94.8 L214.2,95.2 L214.5,95.6 L214.8,96.0 L215.1,96.4 L215.5,96.8 L215.8,97.1 L216.1,97.5 L216.4,97.9 L216.7,98.3 L217.1,98.7 L217.4,99.1 L217.7,99.4 L218.0,99.8 L218.3,100.2 L218.7,100.6 L219.0,101.0 L219.3,101.4 L219.6,101.8 L219.9,102.1 L220.3,102.5 L220.6,102.9 L220.9,103.3 L221.2,103.7 L221.5,104.1 L221.9,104.5 L222.2,104.9 L222.5,105.2 L222.8,105.6 L223.1,106.0 L223.5,106.4 L223.8,106.8 L224.1,107.2 L224.4,107.6 L224.7,107.9 L225.0,108.3 L225.4,108.7 L225.7,109.1 L226.0,109.5 L226.3,109.9 L226.6,110.3 L227.0,110.7 L227.3,111.0 L227.6,111.4 L227.9,111.8 L228.2,112.2 L228.5,112.6 L228.9,113.0 L229.2,113.4 L229.5,113.8 L229.8,114.1 L230.1,114.5 L230.5,114.9 L230.8,115.3 L231.1,115.7 L231.4,116.1 L231.7,116.5 L232.0,116.9 L232.4,117.3 L232.7,117.6 L233.0,118.0 L233.3,118.4 L233.6,118.8 L233.9,119.2 L234.3,119.6 L234.6,120.0 L234.9,120.4 L235.2,120.7 L235.5,121.1 L235.8,121.5 L236.2,121.9 L236.5,122.3 L236.8,122.7 L237.1,123.1 L237.4,123.5 L237.7,123.9 L238.1,124.2 L238.4,124.6 L238.7,125.0 L239.0,125.4 L239.3,125.8 L239.6,126.2 L240.0,126.6 L240.3,127.0 L240.6,127.4 L240.9,127.7 L241.2,128.1 L241.5,128.5 L241.9,128.9 L242.2,129.3 L242.5,129.7 L242.8,130.1 L243.1,130.5 L243.4,130.9 L243.7,131.2 L244.1,131.6 L244.4,132.0 L244.7,132.4 L245.0,132.8 L245.3,133.2 L245.6,133.6 L246.0,134.0 L246.3,134.4 L246.6,134.8 L246.9,135.1 L247.2,135.5 L247.5,135.9 L247.9,136.3 L248.2,136.7 L248.5,137.1 L248.8,137.5 L249.1,137.9 L249.4,138.3 L249.7,138.7 L250.1,139.0 L250.4,139.4 L250.7,139.8 L251.0,140.2 L251.3,140.6 L251.6,141.0 L251.9,141.4 L252.3,141.8 L252.6,142.2 L252.9,142.6 L253.2,143.0 L253.5,143.3 L253.8,143.7 L254.1,144.1 L254.4,144.5 L254.8,144.9 L255.1,145.3 L255.4,145.7 L255.7,146.1 L256.0,146.5 L256.3,146.9 L256.6,147.3 L256.9,147.7 L257.2,148.1 L257.5,148.5 L257.8,148.9 L258.1,149.3 L258.4,149.7 L258.7,150.1 L259.0,150.5 L259.3,150.9 L259.6,151.3 L259.9,151.7 L260.2,152.1 L260.5,152.5 L260.8,152.9 L261.1,153.3 L261.4,153.7 L261.7,154.1 L262.0,154.5 L262.2,154.9 L262.5,155.4 L262.8,155.8 L263.1,156.2 L263.4,156.6 L263.7,157.0 L263.9,157.4 L264.2,157.8 L264.5,158.2 L264.8,158.7 L265.1,159.1 L265.3,159.5 L265.6,159.9 L265.9,160.3 L266.1,160.8 L266.4,161.2 L266.7,161.6 L267.0,162.0 L267.2,162.4 L267.5,162.9 L267.8,163.3 L268.0,163.7 L268.3,164.1 L268.5,164.6 L268.8,165.0 L269.1,165.4 L269.3,165.8 L269.6,166.3 L269.8,166.7 L270.1,167.1 L270.3,167.6 L270.6,168.0 L270.8,168.4 L271.1,168.8 L271.3,169.3 L271.6,169.7 L271.8,170.1 L272.1,170.6 L272.3,171.0 L272.6,171.5 L272.8,171.9 L273.0,172.3 L273.3,172.8 L273.5,173.2 L273.7,173.6 L274.0,174.1 L274.2,174.5 L274.4,175.0 L274.7,175.4 L274.9,175.8 L275.1,176.3 L275.4,176.7 L275.6,177.2 L275.8,177.6 L276.0,178.1 L276.3,178.5 L276.5,179.0 L276.7,179.4 L276.9,179.8 L277.1,180.3 L277.4,180.7 L277.6,181.2 L277.8,181.6 L278.0,182.1 L278.2,182.5 L278.4,183.0 L278.6,183.4 L278.8,183.9 L279.1,184.4 L279.3,184.8 L279.5,185.3 L279.7,185.7 L279.9,186.2 L280.1,186.6 L280.3,187.1 L280.5,187.5 L280.7,188.0 L280.9,188.5 L281.0,188.9 L281.2,189.4 L281.4,189.8 L281.6,190.3 L281.8,190.8 L282.0,191.2 L282.2,191.7 L282.4,192.1 L282.6,192.6 L282.7,193.1 L282.9,193.5 L283.1,194.0 L283.3,194.5 L283.5,194.9 L283.6,195.4 L283.8,195.9 L284.0,196.3 L284.2,196.8 L284.3,197.3 L284.5,197.7 L284.7,198.2 L284.8,198.7 L285.0,199.1 L285.2,199.6 L285.3,200.1 L285.5,200.6 L285.6,201.0 L285.8,201.5 L286.0,202.0 L286.1,202.4 L286.3,202.9 L286.4,203.4 L286.6,203.9 L286.7,204.3 L286.9,204.8 L287.0,205.3 L287.2,205.8 L287.3,206.2 L287.5,206.7 L287.6,207.2 L287.8,207.7 L287.9,208.2 L288.1,208.6 L288.2,209.1 L288.3,209.6 L288.5,210.1 L288.6,210.6 L288.8,211.0 L288.9,211.5 L289.0,212.0 L289.2,212.5 L289.3,213.0 L289.4,213.4 L289.6,213.9 L289.7,214.4 L289.8,214.9 L290.0,215.4 L290.1,215.9 L290.2,216.4 L290.3,216.8 L290.5,217.3 L290.6,217.8 L290.7,218.3 L290.9,218.8 L291.0,219.3 L291.1,219.8 L291.2,220.2 L291.4,220.7 L291.5,221.2 L291.6,221.7 L291.7,222.2 L291.8,222.7 L292.0,223.2 L292.1,223.7 L292.2,224.1 L292.3,224.6 L292.4,225.1 L292.5,225.6 L292.7,226.1 L292.8,226.6 L292.9,227.1 L293.0,227.6 L293.1,228.1 L293.2,228.6 L293.4,229.1 L293.5,229.5 L293.6,230.0 L293.7,230.5 L293.8,231.0 L293.9,231.5 L294.0,232.0 L294.2,232.5 L294.3,233.0 L294.4,233.5 L294.5,234.0 L294.6,234.5 L294.7,235.0 L294.8,235.5 L294.9,235.9 L295.0,236.4 L295.2,236.9 L295.3,237.4 L295.4,237.9 L295.5,238.4 L295.6,238.9 L295.7,239.4 L295.8,239.9 L295.9,240.4 L296.0,240.9 L296.2,241.4 L296.3,241.9 L296.4,242.4 L296.5,242.9 L296.6,243.4 L296.7,243.9 L296.8,244.3 L297.0,244.8 L297.1,245.3 L297.2,245.8 L297.3,246.3 L297.4,246.8 L297.5,247.3 L297.6,247.8 L297.8,248.3 L297.9,248.8 L298.0,249.3 L298.1,249.8 L298.3,250.2 L298.4,250.7 L298.5,251.2 L298.6,251.7 L298.8,252.2 L298.9,252.7 L299.0,253.2 L299.1,253.7 L299.3,254.1 L299.4,254.6 L299.5,255.1 L299.7,255.6 L299.8,256.1 L299.9,256.6 L300.1,257.0 L300.2,257.5 L300.4,258.0 L300.5,258.5 L300.6,259.0 L300.8,259.4 L300.9,259.9 L301.1,260.4 L301.2,260.9 L301.4,261.3 L301.5,261.8 L301.7,262.3 L301.9,262.8 L302.0,263.2 L302.2,263.7 L302.3,264.2 L302.5,264.6 L302.7,265.1 L302.8,265.6 L303.0,266.0 L303.2,266.5 L303.4,266.9 L303.5,267.4 L303.7,267.9 L303.9,268.3 L304.1,268.8 L304.3,269.2 L304.5,269.7 L304.7,270.2 L304.8,270.6 L305.0,271.1 L305.2,271.5 L305.4,272.0 L305.7,272.4 L305.9,272.8 L306.1,273.3 L306.3,273.7 L306.5,274.2 L306.7,274.6 L306.9,275.1 L307.2,275.5 L307.4,275.9 L307.6,276.4 L307.8,276.8 L308.1,277.2 L308.3,277.7 L308.6,278.1 L308.8,278.5 L309.0,278.9 L309.3,279.4 L309.6,279.8 L309.8,280.2 L310.1,280.6 L310.3,281.0 L310.6,281.4 L310.9,281.9 L311.1,282.3 L311.4,282.7 L311.7,283.1 L312.0,283.5 L312.3,283.9 L312.6,284.3 L312.9,284.7 L313.2,285.1 L313.5,285.5 L313.8,285.9 L314.1,286.3 L314.4,286.7 L314.7,287.0 L315.0,287.4 L315.3,287.8 L315.7,288.2 L316.0,288.6 L316.3,288.9 L316.7,289.3 L317.0,289.7 L317.4,290.1 L317.7,290.4 L318.1,290.8 L318.4,291.2 L318.8,291.5 L319.2,291.9 L319.6,292.2 L319.9,292.6 L320.3,292.9" fill="none" stroke="#ff0000" stroke-width="2.3" stroke-linecap="butt" stroke-linejoin="round"/>
<path d="M441.4,293.0 L441.8,293.1 L442.3,293.1 L442.8,293.1 L443.3,293.1 L443.8,293.1 L444.3,293.1 L444.8,293.1 L445.3,293.2 L445.8,293.2 L446.3,293.2 L446.8,293.2 L447.3,293.2 L447.8,293.2 L448.3,293.2 L448.8,293.2 L449.3,293.2 L449.8,293.1 L450.3,293.1 L450.8,293.1 L451.3,293.1 L451.8,293.1 L452.3,293.1 L452.8,293.0 L453.3,293.0 L453.8,293.0 L454.2,293.0 L454.7,292.9 L455.2,292.9 L455.7,292.9 L456.2,292.8 L456.7,292.8 L457.2,292.8 L457.7,292.7 L458.2,292.7 L458.7,292.6 L459.2,292.6 L459.7,292.5 L460.2,292.5 L460.7,292.4 L461.2,292.4 L461.7,292.3 L462.2,292.3 L462.7,292.2 L463.2,292.1 L463.7,292.1 L464.2,292.0 L464.7,291.9 L465.2,291.9 L465.7,291.8 L466.2,291.7 L466.7,291.7 L467.2,291.6 L467.7,291.5 L468.2,291.4 L468.7,291.3 L469.2,291.2 L469.7,291.2 L470.2,291.1 L470.7,291.0 L471.2,290.9 L471.7,290.8 L472.2,290.7 L472.7,290.6 L473.2,290.5 L473.7,290.4 L474.2,290.3 L474.6,290.2 L475.1,290.1 L475.6,289.9 L476.1,289.8 L476.6,289.7 L477.1,289.6 L477.6,289.5 L478.1,289.4 L478.6,289.2 L479.1,289.1 L479.5,289.0 L480.0,288.8 L480.5,288.7 L481.0,288.6 L481.5,288.4 L482.0,288.3 L482.5,288.2 L483.0,288.0 L483.4,287.9 L483.9,287.7 L484.4,287.6 L484.9,287.4 L485.4,287.3 L485.8,287.1 L486.3,287.0 L486.8,286.8 L487.3,286.7 L487.8,286.5 L488.2,286.3 L488.7,286.2 L489.2,286.0 L489.7,285.8 L490.1,285.7 L490.6,285.5 L491.1,285.3 L491.5,285.1 L492.0,285.0 L492.5,284.8 L493.0,284.6 L493.4,284.4 L493.9,284.2 L494.4,284.0 L494.8,283.9 L495.3,283.7 L495.7,283.5 L496.2,283.3 L496.7,283.1 L497.1,282.9 L497.6,282.7 L498.0,282.5 L498.5,282.3 L499.0,282.1 L499.4,281.8 L499.9,281.6 L500.3,281.4 L500.8,281.2 L501.2,281.0 L501.7,280.8 L502.1,280.5 L502.6,280.3 L503.0,280.1 L503.5,279.9 L503.9,279.6 L504.3,279.4 L504.8,279.2 L505.2,278.9 L505.7,278.7 L506.1,278.5 L506.5,278.2 L507.0,278.0 L507.4,277.7 L507.8,277.5 L508.3,277.2 L508.7,277.0 L509.1,276.7 L509.5,276.5 L510.0,276.2 L510.4,276.0 L510.8,275.7 L511.2,275.4 L511.7,275.2 L512.1,274.9 L512.5,274.6 L512.9,274.4 L513.3,274.1 L513.7,273.8 L514.1,273.6 L514.6,273.3 L515.0,273.0 L515.4,272.7 L515.8,272.4 L516.2,272.1 L516.6,271.9 L517.0,271.6 L517.4,271.3 L517.8,271.0 L518.2,270.7 L518.6,270.4 L519.0,270.1 L519.4,269.8 L519.8,269.5 L520.1,269.2 L520.5,268.9 L520.9,268.6 L521.3,268.3 L521.7,268.0 L522.1,267.6 L522.5,267.3 L522.8,267.0 L523.2,266.7 L523.6,266.4 L524.0,266.1 L524.3,265.7 L524.7,265.4 L525.1,265.1 L525.5,264.8 L525.8,264.4 L526.2,264.1 L526.6,263.8 L526.9,263.4 L527.3,263.1 L527.7,262.8 L528.0,262.4 L528.4,262.1 L528.7,261.8 L529.1,261.4 L529.5,261.1 L529.8,260.7 L530.2,260.4 L530.5,260.0 L530.9,259.7 L531.2,259.3 L531.6,259.0 L531.9,258.6 L532.3,258.3 L532.6,257.9 L533.0,257.6 L533.3,257.2 L533.6,256.8 L534.0,256.5 L534.3,256.1 L534.7,255.7 L535.0,255.4 L535.3,255.0 L535.7,254.6 L536.0,254.3 L536.3,253.9 L536.7,253.5 L537.0,253.2 L537.3,252.8 L537.7,252.4 L538.0,252.0 L538.3,251.6 L538.6,251.3 L539.0,250.9 L539.3,250.5 L539.6,250.1 L539.9,249.7 L540.3,249.4 L540.6,249.0 L540.9,248.6 L541.2,248.2 L541.5,247.8 L541.8,247.4 L542.2,247.0 L542.5,246.6 L542.8,246.2 L543.1,245.8 L543.4,245.4 L543.7,245.0 L544.0,244.6 L544.3,244.2 L544.6,243.8 L544.9,243.4 L545.2,243.0 L545.5,242.6 L545.9,242.2 L546.2,241.8 L546.5,241.4 L546.8,241.0 L547.1,240.6 L547.3,240.2 L547.6,239.8 L547.9,239.4 L548.2,239.0 L548.5,238.6 L548.8,238.2 L549.1,237.7 L549.4,237.3 L549.7,236.9 L550.0,236.5 L550.3,236.1 L550.6,235.7 L550.8,235.2 L551.1,234.8 L551.4,234.4 L551.7,234.0 L552.0,233.6 L552.3,233.1 L552.6,232.7 L552.8,232.3 L553.1,231.9 L553.4,231.5 L553.7,231.0 L553.9,230.6 L554.2,230.2 L554.5,229.8 L554.8,229.3 L555.1,228.9 L555.3,228.5 L555.6,228.0 L555.9,227.6 L556.1,227.2 L556.4,226.8 L556.7,226.3 L557.0,225.9 L557.2,225.5 L557.5,225.0 L557.8,224.6 L558.0,224.2 L558.3,223.7 L558.6,223.3 L558.8,222.9 L559.1,222.4 L559.3,222.0 L559.6,221.6 L559.9,221.1 L560.1,220.7 L560.4,220.2 L560.6,219.8 L560.9,219.4 L561.2,218.9 L561.4,218.5 L561.7,218.1 L561.9,217.6 L562.2,217.2 L562.4,216.7 L562.7,216.3 L563.0,215.9 L563.2,215.4 L563.5,215.0 L563.7,214.5 L564.0,214.1 L564.2,213.7 L564.5,213.2 L564.7,212.8 L565.0,212.3 L565.2,211.9 L565.5,211.5 L565.7,211.0 L566.0,210.6 L566.2,210.1 L566.4,209.7 L566.7,209.2 L566.9,208.8 L567.2,208.4 L567.4,207.9 L567.7,207.5 L567.9,207.0 L568.2,206.6 L568.4,206.1 L568.6,205.7 L568.9,205.3 L569.1,204.8 L569.4,204.4 L569.6,203.9 L569.8,203.5 L570.1,203.0 L570.3,202.6 L570.6,202.2 L570.8,201.7 L571.0,201.3 L571.3,200.8 L571.5,200.4 L571.7,199.9 L572.0,199.5 L572.2,199.0 L572.4,198.6 L572.7,198.2 L572.9,197.7 L573.1,197.3 L573.4,196.8 L573.6,196.4 L573.8,195.9 L574.1,195.5 L574.3,195.0 L574.5,194.6 L574.7,194.2 L575.0,193.7 L575.2,193.3 L575.4,192.8 L575.7,192.4 L575.9,191.9 L576.1,191.5 L576.3,191.0 L576.6,190.6 L576.8,190.1 L577.0,189.7 L577.2,189.3 L577.5,188.8 L577.7,188.4 L577.9,187.9 L578.1,187.5 L578.4,187.0 L578.6,186.6 L578.8,186.1 L579.0,185.7 L579.3,185.2 L579.5,184.8 L579.7,184.3 L579.9,183.9 L580.1,183.4 L580.4,183.0 L580.6,182.6 L580.8,182.1 L581.0,181.7 L581.2,181.2 L581.4,180.8 L581.7,180.3 L581.9,179.9 L582.1,179.4 L582.3,179.0 L582.5,178.5 L582.8,178.1 L583.0,177.6 L583.2,177.2 L583.4,176.7 L583.6,176.3 L583.8,175.8 L584.0,175.4 L584.3,174.9 L584.5,174.5 L584.7,174.0 L584.9,173.6 L585.1,173.1 L585.3,172.7 L585.5,172.2 L585.8,171.8 L586.0,171.3 L586.2,170.9 L586.4,170.4 L586.6,170.0 L586.8,169.5 L587.0,169.1 L587.2,168.6 L587.5,168.2 L587.7,167.7 L587.9,167.3 L588.1,166.8 L588.3,166.4 L588.5,165.9 L588.7,165.5 L588.9,165.0 L589.1,164.6 L589.3,164.1 L589.6,163.7 L589.8,163.2 L590.0,162.8 L590.2,162.3 L590.4,161.9 L590.6,161.4 L590.8,161.0 L591.0,160.5 L591.2,160.1 L591.4,159.6 L591.6,159.2 L591.8,158.7 L592.0,158.3 L592.3,157.8 L592.5,157.4 L592.7,156.9 L592.9,156.5 L593.1,156.0 L593.3,155.6 L593.5,155.1 L593.7,154.7 L593.9,154.2 L594.1,153.8 L594.3,153.3 L594.5,152.9 L594.7,152.4 L594.9,152.0 L595.1,151.5 L595.3,151.1 L595.5,150.6 L595.7,150.1 L596.0,149.7 L596.2,149.2 L596.4,148.8 L596.6,148.3 L596.8,147.9 L597.0,147.4 L597.2,147.0 L597.4,146.5 L597.6,146.1 L597.8,145.6 L598.0,145.2 L598.2,144.7 L598.4,144.3 L598.6,143.8 L598.8,143.3 L599.0,142.9 L599.2,142.4 L599.4,142.0 L599.6,141.5 L599.8,141.1 L600.0,140.6 L600.2,140.2 L600.4,139.7 L600.6,139.3 L600.9,138.8 L601.1,138.4 L601.3,137.9 L601.5,137.4 L601.7,137.0 L601.9,136.5 L602.1,136.1 L602.3,135.6 L602.5,135.2 L602.7,134.7 L602.9,134.3 L603.1,133.8 L603.3,133.4 L603.5,132.9 L603.7,132.4 L603.9,132.0 L604.1,131.5 L604.3,131.1 L604.5,130.6 L604.7,130.2 L604.9,129.7 L605.1,129.3 L605.3,128.8 L605.5,128.3 L605.7,127.9 L606.0,127.4 L606.2,127.0 L606.4,126.5 L606.6,126.1 L606.8,125.6 L607.0,125.2 L607.2,124.7 L607.4,124.2 L607.6,123.8 L607.8,123.3 L608.0,122.9 L608.2,122.4 L608.4,122.0 L608.6,121.5 L608.8,121.0 L609.0,120.6 L609.2,120.1 L609.4,119.7 L609.7,119.2 L609.9,118.8 L610.1,118.3 L610.3,117.8 L610.5,117.4 L610.7,116.9 L610.9,116.5 L611.1,116.0 L611.3,115.6 L611.5,115.1 L611.7,114.6 L611.9,114.2 L612.1,113.7 L612.4,113.3 L612.6,112.8 L612.8,112.4 L613.0,111.9 L613.2,111.4 L613.4,111.0 L613.6,110.5 L613.8,110.1 L614.0,109.6 L614.2,109.2 L614.5,108.7 L614.7,108.2 L614.9,107.8 L615.1,107.3 L615.3,106.9 L615.5,106.4 L615.7,105.9 L615.9,105.5 L616.1,105.0 L616.4,104.6 L616.6,104.1 L616.8,103.7 L617.0,103.2 L617.2,102.7 L617.4,102.3 L617.6,101.8 L617.9,101.4 L618.1,100.9 L618.3,100.4 L618.5,100.0 L618.7,99.5 L618.9,99.1 L619.1,98.6 L619.4,98.2 L619.6,97.7 L619.8,97.2 L620.0,96.8 L620.2,96.3 L620.5,95.9 L620.7,95.4 L620.9,94.9 L621.1,94.5 L621.3,94.0 L621.5,93.6 L621.8,93.1 L622.0,92.6 L622.2,92.2 L622.4,91.7 L622.7,91.3 L622.9,90.8 L623.1,90.3 L623.3,89.9 L623.5,89.4 L623.8,89.0 L624.0,88.5 L624.2,88.0 L624.4,87.6 L624.7,87.1 L624.9,86.7 L625.1,86.2 L625.3,85.7 L625.6,85.3 L625.8,84.8 L626.0,84.4 L626.2,83.9 L626.5,83.4 L626.7,83.0 L626.9,82.5 L627.2,82.1 L627.4,81.6 L627.6,81.1 L627.9,80.7 L628.1,80.2 L628.3,79.8 L628.6,79.3 L628.8,78.9 L629.0,78.4 L629.3,78.0 L629.5,77.5 L629.8,77.1 L630.0,76.6 L630.3,76.2 L630.5,75.8 L630.8,75.3 L631.0,74.9 L631.3,74.5 L631.6,74.1 L631.8,73.7 L632.1,73.3 L632.4,72.8 L632.6,72.4 L632.9,72.0 L633.2,71.7 L633.5,71.3 L633.8,70.9 L634.1,70.5 L634.4,70.1 L634.7,69.8 L635.0,69.4 L635.3,69.1 L635.6,68.7 L636.0,68.4 L636.3,68.0 L636.6,67.7 L637.0,67.4 L637.3,67.1 L637.7,66.8 L638.0,66.5 L638.4,66.2 L638.8,65.9 L639.1,65.6 L639.5,65.4 L639.9,65.1 L640.3,64.9 L640.7,64.6 L641.1,64.4 L641.5,64.2 L641.9,64.0 L642.4,63.8 L642.8,63.6 L643.2,63.4 L643.7,63.2 L644.1,63.1 L644.6,62.9 L645.1,62.8 L645.6,62.7 L646.1,62.5 L646.6,62.4 L647.1,62.3 L647.6,62.3 L648.1,62.2 L648.6,62.1 L649.1,62.1 L649.6,62.0 L650.2,62.0 L650.7,61.9 L651.2,61.9 L651.8,61.9 L652.3,61.9 L652.8,61.9 L653.4,61.9 L653.9,61.9 L654.5,61.9 L655.0,61.9 L655.5,61.9 L656.1,61.9 L656.6,61.9 L657.1,62.0 L657.6,62.0 L658.1,62.0 L658.6,62.1 L659.1,62.1 L659.6,62.1 L660.1,62.2 L660.6,62.2 L661.1,62.2" fill="none" stroke="#0f5f30" stroke-width="2.3" stroke-linecap="butt" stroke-linejoin="round"/>
<path d="M441.3,293.1 L441.8,293.1 L442.3,293.1 L442.8,293.1 L443.3,293.1 L443.8,293.2 L444.3,293.2 L444.8,293.2 L445.3,293.2 L445.8,293.2 L446.3,293.2 L446.8,293.2 L447.3,293.2 L447.8,293.2 L448.3,293.1 L448.8,293.1 L449.3,293.1 L449.8,293.1 L450.3,293.1 L450.8,293.1 L451.3,293.1 L451.8,293.1 L452.3,293.1 L452.8,293.0 L453.3,293.0 L453.8,293.0 L454.3,293.0 L454.8,292.9 L455.3,292.9 L455.8,292.9 L456.3,292.9 L456.8,292.8 L457.3,292.8 L457.8,292.8 L458.3,292.7 L458.8,292.7 L459.3,292.7 L459.8,292.6 L460.3,292.6 L460.8,292.5 L461.3,292.5 L461.8,292.5 L462.3,292.4 L462.8,292.4 L463.3,292.3 L463.8,292.3 L464.3,292.2 L464.8,292.2 L465.3,292.1 L465.8,292.0 L466.3,292.0 L466.8,291.9 L467.3,291.9 L467.8,291.8 L468.3,291.7 L468.8,291.7 L469.3,291.6 L469.8,291.5 L470.3,291.5 L470.8,291.4 L471.3,291.3 L471.8,291.2 L472.3,291.2 L472.8,291.1 L473.3,291.0 L473.8,290.9 L474.3,290.8 L474.8,290.8 L475.3,290.7 L475.8,290.6 L476.3,290.5 L476.8,290.4 L477.2,290.3 L477.7,290.2 L478.2,290.1 L478.7,290.0 L479.2,289.9 L479.7,289.8 L480.2,289.7 L480.7,289.6 L481.2,289.5 L481.7,289.4 L482.2,289.3 L482.7,289.2 L483.2,289.1 L483.6,289.0 L484.1,288.8 L484.6,288.7 L485.1,288.6 L485.6,288.5 L486.1,288.4 L486.6,288.2 L487.1,288.1 L487.5,288.0 L488.0,287.8 L488.5,287.7 L489.0,287.6 L489.5,287.4 L490.0,287.3 L490.4,287.2 L490.9,287.0 L491.4,286.9 L491.9,286.7 L492.4,286.6 L492.8,286.5 L493.3,286.3 L493.8,286.2 L494.3,286.0 L494.8,285.8 L495.2,285.7 L495.7,285.5 L496.2,285.4 L496.7,285.2 L497.1,285.0 L497.6,284.9 L498.1,284.7 L498.5,284.5 L499.0,284.4 L499.5,284.2 L499.9,284.0 L500.4,283.8 L500.9,283.7 L501.3,283.5 L501.8,283.3 L502.3,283.1 L502.7,282.9 L503.2,282.7 L503.7,282.6 L504.1,282.4 L504.6,282.2 L505.0,282.0 L505.5,281.8 L506.0,281.6 L506.4,281.4 L506.9,281.2 L507.3,281.0 L507.8,280.8 L508.2,280.6 L508.7,280.3 L509.1,280.1 L509.6,279.9 L510.0,279.7 L510.5,279.5 L510.9,279.3 L511.4,279.0 L511.8,278.8 L512.2,278.6 L512.7,278.4 L513.1,278.1 L513.6,277.9 L514.0,277.7 L514.4,277.4 L514.9,277.2 L515.3,277.0 L515.8,276.7 L516.2,276.5 L516.6,276.2 L517.1,276.0 L517.5,275.7 L517.9,275.5 L518.3,275.2 L518.8,275.0 L519.2,274.7 L519.6,274.4 L520.0,274.2 L520.5,273.9 L520.9,273.7 L521.3,273.4 L521.7,273.1 L522.1,272.9 L522.6,272.6 L523.0,272.3 L523.4,272.0 L523.8,271.8 L524.2,271.5 L524.6,271.2 L525.0,270.9 L525.5,270.6 L525.9,270.4 L526.3,270.1 L526.7,269.8 L527.1,269.5 L527.5,269.2 L527.9,268.9 L528.3,268.6 L528.7,268.3 L529.1,268.0 L529.5,267.7 L529.9,267.4 L530.3,267.1 L530.7,266.8 L531.1,266.5 L531.5,266.2 L531.9,265.9 L532.3,265.6 L532.7,265.3 L533.1,265.0 L533.5,264.7 L533.9,264.3 L534.2,264.0 L534.6,263.7 L535.0,263.4 L535.4,263.1 L535.8,262.8 L536.2,262.4 L536.6,262.1 L536.9,261.8 L537.3,261.5 L537.7,261.1 L538.1,260.8 L538.5,260.5 L538.8,260.1 L539.2,259.8 L539.6,259.5 L540.0,259.1 L540.3,258.8 L540.7,258.5 L541.1,258.1 L541.5,257.8 L541.8,257.4 L542.2,257.1 L542.6,256.7 L542.9,256.4 L543.3,256.1 L543.7,255.7 L544.0,255.4 L544.4,255.0 L544.8,254.7 L545.1,254.3 L545.5,253.9 L545.8,253.6 L546.2,253.2 L546.6,252.9 L546.9,252.5 L547.3,252.2 L547.6,251.8 L548.0,251.4 L548.3,251.1 L548.7,250.7 L549.0,250.4 L549.4,250.0 L549.8,249.6 L550.1,249.3 L550.4,248.9 L550.8,248.5 L551.1,248.2 L551.5,247.8 L551.8,247.4 L552.2,247.1 L552.5,246.7 L552.9,246.3 L553.2,245.9 L553.6,245.6 L553.9,245.2 L554.2,244.8 L554.6,244.4 L554.9,244.1 L555.2,243.7 L555.6,243.3 L555.9,242.9 L556.3,242.5 L556.6,242.2 L556.9,241.8 L557.3,241.4 L557.6,241.0 L557.9,240.6 L558.2,240.2 L558.6,239.9 L558.9,239.5 L559.2,239.1 L559.6,238.7 L559.9,238.3 L560.2,237.9 L560.5,237.5 L560.9,237.2 L561.2,236.8 L561.5,236.4 L561.8,236.0 L562.1,235.6 L562.5,235.2 L562.8,234.8 L563.1,234.4 L563.4,234.0 L563.7,233.6 L564.0,233.2 L564.4,232.8 L564.7,232.4 L565.0,232.1 L565.3,231.7 L565.6,231.3 L565.9,230.9 L566.2,230.5 L566.5,230.1 L566.8,229.7 L567.2,229.3 L567.5,228.9 L567.8,228.5 L568.1,228.1 L568.4,227.7 L568.7,227.3 L569.0,226.9 L569.3,226.5 L569.6,226.1 L569.9,225.7 L570.2,225.3 L570.5,224.9 L570.8,224.5 L571.1,224.1 L571.4,223.7 L571.7,223.3 L572.0,222.9 L572.3,222.5 L572.6,222.1 L572.9,221.7 L573.2,221.3 L573.5,220.8 L573.7,220.4 L574.0,220.0 L574.3,219.6 L574.6,219.2 L574.9,218.8 L575.2,218.4 L575.5,218.0 L575.8,217.6 L576.1,217.2 L576.4,216.8 L576.6,216.4 L576.9,216.0 L577.2,215.6 L577.5,215.1 L577.8,214.7 L578.1,214.3 L578.3,213.9 L578.6,213.5 L578.9,213.1 L579.2,212.7 L579.5,212.3 L579.7,211.9 L580.0,211.4 L580.3,211.0 L580.6,210.6 L580.9,210.2 L581.1,209.8 L581.4,209.4 L581.7,209.0 L582.0,208.5 L582.2,208.1 L582.5,207.7 L582.8,207.3 L583.1,206.9 L583.3,206.5 L583.6,206.1 L583.9,205.6 L584.1,205.2 L584.4,204.8 L584.7,204.4 L584.9,204.0 L585.2,203.5 L585.5,203.1 L585.8,202.7 L586.0,202.3 L586.3,201.9 L586.6,201.5 L586.8,201.0 L587.1,200.6 L587.3,200.2 L587.6,199.8 L587.9,199.4 L588.1,198.9 L588.4,198.5 L588.7,198.1 L588.9,197.7 L589.2,197.2 L589.4,196.8 L589.7,196.4 L590.0,196.0 L590.2,195.6 L590.5,195.1 L590.7,194.7 L591.0,194.3 L591.3,193.9 L591.5,193.4 L591.8,193.0 L592.0,192.6 L592.3,192.2 L592.5,191.7 L592.8,191.3 L593.1,190.9 L593.3,190.5 L593.6,190.0 L593.8,189.6 L594.1,189.2 L594.3,188.7 L594.6,188.3 L594.8,187.9 L595.1,187.5 L595.3,187.0 L595.6,186.6 L595.8,186.2 L596.1,185.7 L596.3,185.3 L596.6,184.9 L596.8,184.5 L597.1,184.0 L597.3,183.6 L597.6,183.2 L597.8,182.7 L598.1,182.3 L598.3,181.9 L598.6,181.4 L598.8,181.0 L599.1,180.6 L599.3,180.2 L599.6,179.7 L599.8,179.3 L600.1,178.9 L600.3,178.4 L600.5,178.0 L600.8,177.6 L601.0,177.1 L601.3,176.7 L601.5,176.3 L601.8,175.8 L602.0,175.4 L602.3,175.0 L602.5,174.5 L602.7,174.1 L603.0,173.7 L603.2,173.2 L603.5,172.8 L603.7,172.3 L603.9,171.9 L604.2,171.5 L604.4,171.0 L604.7,170.6 L604.9,170.2 L605.2,169.7 L605.4,169.3 L605.6,168.9 L605.9,168.4 L606.1,168.0 L606.3,167.5 L606.6,167.1 L606.8,166.7 L607.1,166.2 L607.3,165.8 L607.5,165.4 L607.8,164.9 L608.0,164.5 L608.3,164.0 L608.5,163.6 L608.7,163.2 L609.0,162.7 L609.2,162.3 L609.4,161.8 L609.7,161.4 L609.9,161.0 L610.2,160.5 L610.4,160.1 L610.6,159.6 L610.9,159.2 L611.1,158.8 L611.3,158.3 L611.6,157.9 L611.8,157.4 L612.0,157.0 L612.3,156.6 L612.5,156.1 L612.8,155.7 L613.0,155.2 L613.2,154.8 L613.5,154.4 L613.7,153.9 L613.9,153.5 L614.2,153.0 L614.4,152.6 L614.6,152.1 L614.9,151.7 L615.1,151.3 L615.3,150.8 L615.6,150.4 L615.8,149.9 L616.0,149.5 L616.3,149.0 L616.5,148.6 L616.7,148.2 L617.0,147.7 L617.2,147.3 L617.4,146.8 L617.7,146.4 L617.9,145.9 L618.1,145.5 L618.4,145.0 L618.6,144.6 L618.9,144.2 L619.1,143.7 L619.3,143.3 L619.6,142.8 L619.8,142.4 L620.0,141.9 L620.3,141.5 L620.5,141.0 L620.7,140.6 L621.0,140.2 L621.2,139.7 L621.4,139.3 L621.7,138.8 L621.9,138.4 L622.1,137.9 L622.4,137.5 L622.6,137.0 L622.8,136.6 L623.1,136.1 L623.3,135.7 L623.5,135.3 L623.8,134.8 L624.0,134.4 L624.3,133.9 L624.5,133.5 L624.7,133.0 L625.0,132.6 L625.2,132.1 L625.4,131.7 L625.7,131.2 L625.9,130.8 L626.1,130.3 L626.4,129.9 L626.6,129.4 L626.9,129.0 L627.1,128.6 L627.3,128.1 L627.6,127.7 L627.8,127.2 L628.0,126.8 L628.3,126.3 L628.5,125.9 L628.8,125.4 L629.0,125.0 L629.2,124.5 L629.5,124.1 L629.7,123.6 L629.9,123.2 L630.2,122.7 L630.4,122.3 L630.7,121.8 L630.9,121.4 L631.1,120.9 L631.4,120.5 L631.6,120.1 L631.9,119.6 L632.1,119.2 L632.3,118.7 L632.6,118.3 L632.8,117.8 L633.1,117.4 L633.3,116.9 L633.5,116.5 L633.8,116.0 L634.0,115.6 L634.3,115.1 L634.5,114.7 L634.8,114.2 L635.0,113.8 L635.3,113.3 L635.5,112.9 L635.7,112.4 L636.0,112.0 L636.2,111.5 L636.5,111.1 L636.7,110.6 L637.0,110.2 L637.2,109.7 L637.5,109.3 L637.7,108.9 L637.9,108.4 L638.2,108.0 L638.4,107.5 L638.7,107.1 L638.9,106.6 L639.2,106.2 L639.4,105.7 L639.7,105.3 L639.9,104.8 L640.2,104.4 L640.4,103.9 L640.7,103.5 L640.9,103.0 L641.2,102.6 L641.4,102.1 L641.7,101.7 L642.0,101.3 L642.2,100.8 L642.5,100.4 L642.7,99.9 L643.0,99.5 L643.3,99.1 L643.5,98.6 L643.8,98.2 L644.1,97.8 L644.3,97.3 L644.6,96.9 L644.9,96.5 L645.1,96.1 L645.4,95.6 L645.7,95.2 L646.0,94.8 L646.3,94.4 L646.5,94.0 L646.8,93.6 L647.1,93.2 L647.4,92.8 L647.7,92.4 L648.0,92.0 L648.3,91.6 L648.6,91.2 L648.9,90.8 L649.2,90.4 L649.5,90.1 L649.9,89.7 L650.2,89.3 L650.5,88.9 L650.8,88.6 L651.2,88.2 L651.5,87.9 L651.8,87.5 L652.2,87.2 L652.5,86.8 L652.9,86.5 L653.2,86.2 L653.6,85.8 L653.9,85.5 L654.3,85.2 L654.7,84.9 L655.0,84.6 L655.4,84.3 L655.8,84.0 L656.2,83.7 L656.6,83.4 L657.0,83.1 L657.4,82.9 L657.8,82.6 L658.2,82.3 L658.6,82.1 L659.0,81.8 L659.4,81.6 L659.8,81.4 L660.3,81.1 L660.7,80.9 L661.2,80.7 L661.6,80.5 L662.1,80.3 L662.5,80.1 L663.0,79.9 L663.4,79.8 L663.9,79.6 L664.4,79.4 L664.8,79.3 L665.3,79.2 L665.8,79.0 L666.3,78.9 L666.8,78.8 L667.3,78.7 L667.8,78.6 L668.3,78.6 L668.8,78.5 L669.3,78.4 L669.8,78.4 L670.3,78.3 L670.8,78.3 L671.3,78.2 L671.8,78.2 L672.3,78.2 L672.8,78.2 L673.3,78.1 L673.8,78.1 L674.3,78.1 L674.9,78.1 L675.4,78.1 L675.9,78.1 L676.4,78.1 L676.9,78.1 L677.4,78.2 L677.9,78.2 L678.4,78.2 L679.0,78.2 L679.5,78.2 L680.0,78.2 L680.5,78.3 L681.0,78.3 L681.5,78.3 L682.0,78.3 L682.5,78.3 L683.0,78.3 L683.5,78.3 L683.9,78.3 L684.4,78.4 L684.9,78.4 L685.4,78.4" fill="none" stroke="#0000ff" stroke-width="2.3" stroke-linecap="butt" stroke-linejoin="round"/>
<path d="M441.3,293.1 L441.8,293.1 L442.3,293.1 L442.8,293.1 L443.3,293.1 L443.8,293.1 L444.3,293.2 L444.8,293.2 L445.3,293.2 L445.8,293.2 L446.3,293.2 L446.8,293.2 L447.3,293.2 L447.8,293.1 L448.3,293.1 L448.8,293.1 L449.3,293.1 L449.8,293.1 L450.3,293.1 L450.8,293.1 L451.3,293.1 L451.8,293.1 L452.3,293.1 L452.8,293.0 L453.3,293.0 L453.8,293.0 L454.3,293.0 L454.8,293.0 L455.3,292.9 L455.8,292.9 L456.3,292.9 L456.8,292.9 L457.3,292.8 L457.8,292.8 L458.3,292.8 L458.8,292.7 L459.3,292.7 L459.8,292.7 L460.3,292.6 L460.8,292.6 L461.3,292.5 L461.8,292.5 L462.3,292.5 L462.8,292.4 L463.3,292.4 L463.8,292.3 L464.3,292.3 L464.8,292.2 L465.3,292.2 L465.8,292.1 L466.3,292.1 L466.8,292.0 L467.3,291.9 L467.8,291.9 L468.3,291.8 L468.8,291.8 L469.3,291.7 L469.8,291.6 L470.3,291.6 L470.8,291.5 L471.3,291.4 L471.8,291.4 L472.3,291.3 L472.8,291.2 L473.3,291.1 L473.8,291.1 L474.3,291.0 L474.8,290.9 L475.3,290.8 L475.8,290.7 L476.3,290.7 L476.8,290.6 L477.3,290.5 L477.7,290.4 L478.2,290.3 L478.7,290.2 L479.2,290.1 L479.7,290.0 L480.2,289.9 L480.7,289.8 L481.2,289.7 L481.7,289.6 L482.2,289.5 L482.7,289.4 L483.2,289.3 L483.7,289.2 L484.2,289.1 L484.7,289.0 L485.1,288.9 L485.6,288.7 L486.1,288.6 L486.6,288.5 L487.1,288.4 L487.6,288.3 L488.1,288.1 L488.6,288.0 L489.1,287.9 L489.5,287.7 L490.0,287.6 L490.5,287.5 L491.0,287.4 L491.5,287.2 L492.0,287.1 L492.4,286.9 L492.9,286.8 L493.4,286.7 L493.9,286.5 L494.4,286.4 L494.8,286.2 L495.3,286.1 L495.8,285.9 L496.3,285.8 L496.7,285.6 L497.2,285.4 L497.7,285.3 L498.2,285.1 L498.6,285.0 L499.1,284.8 L499.6,284.6 L500.1,284.5 L500.5,284.3 L501.0,284.1 L501.5,283.9 L501.9,283.8 L502.4,283.6 L502.9,283.4 L503.3,283.2 L503.8,283.0 L504.3,282.9 L504.7,282.7 L505.2,282.5 L505.6,282.3 L506.1,282.1 L506.6,281.9 L507.0,281.7 L507.5,281.5 L507.9,281.3 L508.4,281.1 L508.8,280.9 L509.3,280.7 L509.7,280.5 L510.2,280.3 L510.7,280.1 L511.1,279.9 L511.5,279.6 L512.0,279.4 L512.4,279.2 L512.9,279.0 L513.3,278.8 L513.8,278.5 L514.2,278.3 L514.7,278.1 L515.1,277.8 L515.5,277.6 L516.0,277.4 L516.4,277.1 L516.8,276.9 L517.3,276.6 L517.7,276.4 L518.1,276.2 L518.6,275.9 L519.0,275.7 L519.4,275.4 L519.9,275.2 L520.3,274.9 L520.7,274.6 L521.1,274.4 L521.6,274.1 L522.0,273.9 L522.4,273.6 L522.8,273.3 L523.2,273.1 L523.7,272.8 L524.1,272.5 L524.5,272.3 L524.9,272.0 L525.3,271.7 L525.7,271.4 L526.1,271.2 L526.6,270.9 L527.0,270.6 L527.4,270.3 L527.8,270.0 L528.2,269.7 L528.6,269.5 L529.0,269.2 L529.4,268.9 L529.8,268.6 L530.2,268.3 L530.6,268.0 L531.0,267.7 L531.4,267.4 L531.8,267.1 L532.2,266.8 L532.6,266.5 L533.0,266.2 L533.4,265.9 L533.8,265.6 L534.2,265.3 L534.6,265.0 L535.0,264.6 L535.4,264.3 L535.8,264.0 L536.1,263.7 L536.5,263.4 L536.9,263.1 L537.3,262.7 L537.7,262.4 L538.1,262.1 L538.4,261.8 L538.8,261.5 L539.2,261.1 L539.6,260.8 L540.0,260.5 L540.3,260.1 L540.7,259.8 L541.1,259.5 L541.5,259.1 L541.9,258.8 L542.2,258.5 L542.6,258.1 L543.0,257.8 L543.3,257.5 L543.7,257.1 L544.1,256.8 L544.5,256.4 L544.8,256.1 L545.2,255.7 L545.6,255.4 L545.9,255.1 L546.3,254.7 L546.6,254.4 L547.0,254.0 L547.4,253.7 L547.7,253.3 L548.1,253.0 L548.4,252.6 L548.8,252.2 L549.2,251.9 L549.5,251.5 L549.9,251.2 L550.2,250.8 L550.6,250.5 L550.9,250.1 L551.3,249.7 L551.6,249.4 L552.0,249.0 L552.3,248.6 L552.7,248.3 L553.0,247.9 L553.4,247.5 L553.7,247.2 L554.1,246.8 L554.4,246.4 L554.8,246.1 L555.1,245.7 L555.5,245.3 L555.8,245.0 L556.1,244.6 L556.5,244.2 L556.8,243.8 L557.2,243.5 L557.5,243.1 L557.8,242.7 L558.2,242.3 L558.5,242.0 L558.8,241.6 L559.2,241.2 L559.5,240.8 L559.8,240.5 L560.2,240.1 L560.5,239.7 L560.8,239.3 L561.2,238.9 L561.5,238.6 L561.8,238.2 L562.2,237.8 L562.5,237.4 L562.8,237.0 L563.1,236.6 L563.5,236.3 L563.8,235.9 L564.1,235.5 L564.4,235.1 L564.8,234.7 L565.1,234.3 L565.4,233.9 L565.7,233.6 L566.0,233.2 L566.4,232.8 L566.7,232.4 L567.0,232.0 L567.3,231.6 L567.6,231.2 L567.9,230.8 L568.3,230.4 L568.6,230.1 L568.9,229.7 L569.2,229.3 L569.5,228.9 L569.8,228.5 L570.1,228.1 L570.4,227.7 L570.7,227.3 L571.1,226.9 L571.4,226.5 L571.7,226.1 L572.0,225.7 L572.3,225.3 L572.6,224.9 L572.9,224.5 L573.2,224.1 L573.5,223.8 L573.8,223.4 L574.1,223.0 L574.4,222.6 L574.7,222.2 L575.0,221.8 L575.3,221.4 L575.6,221.0 L575.9,220.6 L576.2,220.2 L576.5,219.8 L576.8,219.4 L577.1,219.0 L577.4,218.6 L577.7,218.2 L578.0,217.8 L578.3,217.4 L578.6,217.0 L578.9,216.6 L579.2,216.2 L579.4,215.8 L579.7,215.3 L580.0,214.9 L580.3,214.5 L580.6,214.1 L580.9,213.7 L581.2,213.3 L581.5,212.9 L581.8,212.5 L582.0,212.1 L582.3,211.7 L582.6,211.3 L582.9,210.9 L583.2,210.5 L583.5,210.1 L583.8,209.7 L584.0,209.3 L584.3,208.8 L584.6,208.4 L584.9,208.0 L585.2,207.6 L585.4,207.2 L585.7,206.8 L586.0,206.4 L586.3,206.0 L586.6,205.6 L586.8,205.2 L587.1,204.7 L587.4,204.3 L587.7,203.9 L587.9,203.5 L588.2,203.1 L588.5,202.7 L588.8,202.3 L589.0,201.9 L589.3,201.4 L589.6,201.0 L589.9,200.6 L590.1,200.2 L590.4,199.8 L590.7,199.4 L590.9,198.9 L591.2,198.5 L591.5,198.1 L591.8,197.7 L592.0,197.3 L592.3,196.9 L592.6,196.4 L592.8,196.0 L593.1,195.6 L593.4,195.2 L593.6,194.8 L593.9,194.3 L594.2,193.9 L594.4,193.5 L594.7,193.1 L595.0,192.7 L595.2,192.2 L595.5,191.8 L595.7,191.4 L596.0,191.0 L596.3,190.6 L596.5,190.1 L596.8,189.7 L597.1,189.3 L597.3,188.9 L597.6,188.5 L597.8,188.0 L598.1,187.6 L598.4,187.2 L598.6,186.8 L598.9,186.3 L599.1,185.9 L599.4,185.5 L599.6,185.1 L599.9,184.6 L600.2,184.2 L600.4,183.8 L600.7,183.4 L600.9,182.9 L601.2,182.5 L601.4,182.1 L601.7,181.6 L601.9,181.2 L602.2,180.8 L602.5,180.4 L602.7,179.9 L603.0,179.5 L603.2,179.1 L603.5,178.7 L603.7,178.2 L604.0,177.8 L604.2,177.4 L604.5,176.9 L604.7,176.5 L605.0,176.1 L605.2,175.6 L605.5,175.2 L605.7,174.8 L606.0,174.3 L606.2,173.9 L606.5,173.5 L606.7,173.1 L607.0,172.6 L607.2,172.2 L607.5,171.8 L607.7,171.3 L608.0,170.9 L608.2,170.5 L608.5,170.0 L608.7,169.6 L609.0,169.2 L609.2,168.7 L609.4,168.3 L609.7,167.9 L609.9,167.4 L610.2,167.0 L610.4,166.5 L610.7,166.1 L610.9,165.7 L611.2,165.2 L611.4,164.8 L611.6,164.4 L611.9,163.9 L612.1,163.5 L612.4,163.1 L612.6,162.6 L612.9,162.2 L613.1,161.7 L613.3,161.3 L613.6,160.9 L613.8,160.4 L614.1,160.0 L614.3,159.6 L614.6,159.1 L614.8,158.7 L615.0,158.2 L615.3,157.8 L615.5,157.4 L615.8,156.9 L616.0,156.5 L616.2,156.0 L616.5,155.6 L616.7,155.2 L617.0,154.7 L617.2,154.3 L617.4,153.8 L617.7,153.4 L617.9,152.9 L618.2,152.5 L618.4,152.1 L618.6,151.6 L618.9,151.2 L619.1,150.7 L619.3,150.3 L619.6,149.9 L619.8,149.4 L620.1,149.0 L620.3,148.5 L620.5,148.1 L620.8,147.6 L621.0,147.2 L621.3,146.7 L621.5,146.3 L621.7,145.9 L622.0,145.4 L622.2,145.0 L622.4,144.5 L622.7,144.1 L622.9,143.6 L623.1,143.2 L623.4,142.7 L623.6,142.3 L623.9,141.8 L624.1,141.4 L624.3,141.0 L624.6,140.5 L624.8,140.1 L625.0,139.6 L625.3,139.2 L625.5,138.7 L625.7,138.3 L626.0,137.8 L626.2,137.4 L626.5,136.9 L626.7,136.5 L626.9,136.0 L627.2,135.6 L627.4,135.1 L627.6,134.7 L627.9,134.2 L628.1,133.8 L628.3,133.3 L628.6,132.9 L628.8,132.4 L629.0,132.0 L629.3,131.5 L629.5,131.1 L629.8,130.6 L630.0,130.2 L630.2,129.8 L630.5,129.3 L630.7,128.8 L630.9,128.4 L631.2,127.9 L631.4,127.5 L631.6,127.0 L631.9,126.6 L632.1,126.1 L632.3,125.7 L632.6,125.2 L632.8,124.8 L633.1,124.3 L633.3,123.9 L633.5,123.4 L633.8,123.0 L634.0,122.5 L634.2,122.1 L634.5,121.6 L634.7,121.2 L634.9,120.7 L635.2,120.3 L635.4,119.8 L635.7,119.4 L635.9,118.9 L636.1,118.5 L636.4,118.0 L636.6,117.6 L636.9,117.1 L637.1,116.7 L637.4,116.2 L637.6,115.8 L637.8,115.3 L638.1,114.9 L638.3,114.5 L638.6,114.0 L638.8,113.6 L639.1,113.1 L639.3,112.7 L639.6,112.2 L639.8,111.8 L640.1,111.4 L640.3,110.9 L640.6,110.5 L640.8,110.1 L641.1,109.6 L641.4,109.2 L641.6,108.8 L641.9,108.3 L642.2,107.9 L642.4,107.5 L642.7,107.1 L643.0,106.6 L643.2,106.2 L643.5,105.8 L643.8,105.4 L644.0,104.9 L644.3,104.5 L644.6,104.1 L644.9,103.7 L645.1,103.3 L645.4,102.9 L645.7,102.5 L646.0,102.1 L646.3,101.6 L646.6,101.2 L646.9,100.8 L647.2,100.4 L647.5,100.0 L647.8,99.7 L648.1,99.3 L648.4,98.9 L648.7,98.5 L649.0,98.1 L649.3,97.7 L649.6,97.3 L649.9,96.9 L650.2,96.6 L650.5,96.2 L650.9,95.8 L651.2,95.4 L651.5,95.1 L651.8,94.7 L652.2,94.3 L652.5,94.0 L652.8,93.6 L653.2,93.3 L653.5,92.9 L653.9,92.6 L654.2,92.2 L654.6,91.9 L654.9,91.5 L655.3,91.2 L655.6,90.9 L656.0,90.5 L656.4,90.2 L656.7,89.9 L657.1,89.5 L657.5,89.2 L657.9,88.9 L658.2,88.6 L658.6,88.3 L659.0,88.0 L659.4,87.7 L659.8,87.4 L660.2,87.1 L660.6,86.8 L661.0,86.5 L661.4,86.2 L661.8,86.0 L662.2,85.7 L662.7,85.5 L663.1,85.2 L663.5,85.0 L664.0,84.8 L664.4,84.6 L664.9,84.5 L665.3,84.3 L665.8,84.1 L666.2,84.0 L666.7,83.9 L667.2,83.7 L667.6,83.6 L668.1,83.5 L668.6,83.4 L669.1,83.3 L669.6,83.3 L670.1,83.2 L670.6,83.1 L671.0,83.1 L671.5,83.0 L672.0,83.0 L672.5,82.9 L673.0,82.9 L673.6,82.9 L674.1,82.9 L674.6,82.9 L675.1,82.8 L675.6,82.8 L676.1,82.8 L676.6,82.8 L677.1,82.8 L677.6,82.9 L678.2,82.9 L678.7,82.9 L679.2,82.9 L679.7,82.9 L680.2,82.9 L680.7,82.9 L681.2,83.0 L681.7,83.0 L682.3,83.0 L682.8,83.0 L683.3,83.0 L683.8,83.0 L684.3,83.1 L684.8,83.1 L685.3,83.1 L685.8,83.1 L686.3,83.1 L686.8,83.1 L687.3,83.1 L687.7,83.1 L688.2,83.1 L688.7,83.0" fill="none" stroke="#8c5a2a" stroke-width="2.3" stroke-linecap="butt" stroke-linejoin="round"/>
<path d="M441.4,293.1 L441.8,293.1 L442.3,293.1 L442.8,293.1 L443.3,293.1 L443.8,293.2 L444.3,293.2 L444.8,293.2 L445.3,293.2 L445.8,293.2 L446.3,293.2 L446.8,293.1 L447.3,293.1 L447.8,293.1 L448.3,293.1 L448.8,293.1 L449.3,293.1 L449.8,293.1 L450.3,293.1 L450.8,293.1 L451.3,293.1 L451.7,293.0 L452.2,293.0 L452.7,293.0 L453.2,293.0 L453.7,293.0 L454.2,293.0 L454.7,292.9 L455.2,292.9 L455.7,292.9 L456.2,292.9 L456.7,292.8 L457.2,292.8 L457.7,292.8 L458.2,292.7 L458.7,292.7 L459.2,292.7 L459.7,292.6 L460.2,292.6 L460.7,292.6 L461.2,292.5 L461.8,292.5 L462.3,292.4 L462.8,292.4 L463.3,292.3 L463.8,292.3 L464.3,292.3 L464.8,292.2 L465.3,292.2 L465.8,292.1 L466.3,292.0 L466.8,292.0 L467.3,291.9 L467.8,291.9 L468.3,291.8 L468.8,291.8 L469.3,291.7 L469.8,291.6 L470.3,291.6 L470.8,291.5 L471.3,291.4 L471.8,291.4 L472.3,291.3 L472.8,291.2 L473.3,291.2 L473.8,291.1 L474.3,291.0 L474.8,290.9 L475.3,290.8 L475.8,290.8 L476.3,290.7 L476.8,290.6 L477.3,290.5 L477.8,290.4 L478.2,290.3 L478.7,290.2 L479.2,290.2 L479.7,290.1 L480.2,290.0 L480.7,289.9 L481.2,289.8 L481.7,289.7 L482.2,289.6 L482.7,289.5 L483.2,289.4 L483.7,289.3 L484.2,289.1 L484.7,289.0 L485.2,288.9 L485.7,288.8 L486.1,288.7 L486.6,288.6 L487.1,288.5 L487.6,288.3 L488.1,288.2 L488.6,288.1 L489.1,288.0 L489.6,287.8 L490.0,287.7 L490.5,287.6 L491.0,287.5 L491.5,287.3 L492.0,287.2 L492.5,287.0 L493.0,286.9 L493.4,286.8 L493.9,286.6 L494.4,286.5 L494.9,286.3 L495.4,286.2 L495.8,286.0 L496.3,285.9 L496.8,285.7 L497.3,285.6 L497.7,285.4 L498.2,285.3 L498.7,285.1 L499.2,284.9 L499.6,284.8 L500.1,284.6 L500.6,284.4 L501.0,284.3 L501.5,284.1 L502.0,283.9 L502.4,283.8 L502.9,283.6 L503.4,283.4 L503.8,283.2 L504.3,283.0 L504.8,282.9 L505.2,282.7 L505.7,282.5 L506.2,282.3 L506.6,282.1 L507.1,281.9 L507.5,281.7 L508.0,281.5 L508.4,281.3 L508.9,281.1 L509.4,280.9 L509.8,280.7 L510.3,280.5 L510.7,280.3 L511.2,280.1 L511.6,279.8 L512.1,279.6 L512.5,279.4 L512.9,279.2 L513.4,279.0 L513.8,278.7 L514.3,278.5 L514.7,278.3 L515.1,278.1 L515.6,277.8 L516.0,277.6 L516.5,277.4 L516.9,277.1 L517.3,276.9 L517.8,276.6 L518.2,276.4 L518.6,276.1 L519.1,275.9 L519.5,275.6 L519.9,275.4 L520.3,275.1 L520.8,274.9 L521.2,274.6 L521.6,274.4 L522.0,274.1 L522.5,273.8 L522.9,273.6 L523.3,273.3 L523.7,273.0 L524.1,272.8 L524.5,272.5 L525.0,272.2 L525.4,272.0 L525.8,271.7 L526.2,271.4 L526.6,271.1 L527.0,270.8 L527.4,270.6 L527.8,270.3 L528.2,270.0 L528.7,269.7 L529.1,269.4 L529.5,269.1 L529.9,268.8 L530.3,268.5 L530.7,268.2 L531.1,267.9 L531.5,267.6 L531.9,267.3 L532.3,267.0 L532.7,266.7 L533.1,266.4 L533.4,266.1 L533.8,265.8 L534.2,265.5 L534.6,265.2 L535.0,264.9 L535.4,264.6 L535.8,264.3 L536.2,263.9 L536.6,263.6 L537.0,263.3 L537.3,263.0 L537.7,262.7 L538.1,262.3 L538.5,262.0 L538.9,261.7 L539.2,261.4 L539.6,261.0 L540.0,260.7 L540.4,260.4 L540.8,260.0 L541.1,259.7 L541.5,259.4 L541.9,259.0 L542.3,258.7 L542.6,258.4 L543.0,258.0 L543.4,257.7 L543.7,257.4 L544.1,257.0 L544.5,256.7 L544.8,256.3 L545.2,256.0 L545.6,255.6 L545.9,255.3 L546.3,254.9 L546.7,254.6 L547.0,254.2 L547.4,253.9 L547.7,253.5 L548.1,253.2 L548.5,252.8 L548.8,252.5 L549.2,252.1 L549.5,251.8 L549.9,251.4 L550.2,251.0 L550.6,250.7 L551.0,250.3 L551.3,250.0 L551.7,249.6 L552.0,249.2 L552.4,248.9 L552.7,248.5 L553.1,248.1 L553.4,247.8 L553.7,247.4 L554.1,247.0 L554.4,246.7 L554.8,246.3 L555.1,245.9 L555.5,245.6 L555.8,245.2 L556.1,244.8 L556.5,244.4 L556.8,244.1 L557.2,243.7 L557.5,243.3 L557.8,242.9 L558.2,242.6 L558.5,242.2 L558.8,241.8 L559.2,241.4 L559.5,241.1 L559.8,240.7 L560.2,240.3 L560.5,239.9 L560.8,239.5 L561.2,239.2 L561.5,238.8 L561.8,238.4 L562.2,238.0 L562.5,237.6 L562.8,237.2 L563.1,236.9 L563.5,236.5 L563.8,236.1 L564.1,235.7 L564.4,235.3 L564.8,234.9 L565.1,234.5 L565.4,234.2 L565.7,233.8 L566.0,233.4 L566.4,233.0 L566.7,232.6 L567.0,232.2 L567.3,231.8 L567.6,231.4 L567.9,231.1 L568.3,230.7 L568.6,230.3 L568.9,229.9 L569.2,229.5 L569.5,229.1 L569.8,228.7 L570.1,228.3 L570.4,227.9 L570.7,227.5 L571.1,227.1 L571.4,226.7 L571.7,226.3 L572.0,226.0 L572.3,225.6 L572.6,225.2 L572.9,224.8 L573.2,224.4 L573.5,224.0 L573.8,223.6 L574.1,223.2 L574.4,222.8 L574.7,222.4 L575.0,222.0 L575.3,221.6 L575.6,221.2 L575.9,220.8 L576.2,220.4 L576.5,220.0 L576.8,219.6 L577.1,219.2 L577.4,218.8 L577.7,218.4 L578.0,218.0 L578.3,217.6 L578.6,217.2 L578.9,216.8 L579.2,216.4 L579.5,216.0 L579.7,215.6 L580.0,215.2 L580.3,214.8 L580.6,214.4 L580.9,214.0 L581.2,213.6 L581.5,213.2 L581.8,212.8 L582.1,212.4 L582.3,211.9 L582.6,211.5 L582.9,211.1 L583.2,210.7 L583.5,210.3 L583.8,209.9 L584.1,209.5 L584.3,209.1 L584.6,208.7 L584.9,208.3 L585.2,207.9 L585.5,207.5 L585.8,207.1 L586.0,206.6 L586.3,206.2 L586.6,205.8 L586.9,205.4 L587.1,205.0 L587.4,204.6 L587.7,204.2 L588.0,203.8 L588.3,203.4 L588.5,202.9 L588.8,202.5 L589.1,202.1 L589.4,201.7 L589.6,201.3 L589.9,200.9 L590.2,200.5 L590.4,200.0 L590.7,199.6 L591.0,199.2 L591.3,198.8 L591.5,198.4 L591.8,198.0 L592.1,197.6 L592.3,197.1 L592.6,196.7 L592.9,196.3 L593.1,195.9 L593.4,195.5 L593.7,195.0 L593.9,194.6 L594.2,194.2 L594.5,193.8 L594.7,193.4 L595.0,193.0 L595.3,192.5 L595.5,192.1 L595.8,191.7 L596.1,191.3 L596.3,190.9 L596.6,190.4 L596.9,190.0 L597.1,189.6 L597.4,189.2 L597.6,188.7 L597.9,188.3 L598.2,187.9 L598.4,187.5 L598.7,187.1 L598.9,186.6 L599.2,186.2 L599.5,185.8 L599.7,185.4 L600.0,184.9 L600.2,184.5 L600.5,184.1 L600.7,183.7 L601.0,183.2 L601.3,182.8 L601.5,182.4 L601.8,182.0 L602.0,181.5 L602.3,181.1 L602.5,180.7 L602.8,180.2 L603.0,179.8 L603.3,179.4 L603.5,179.0 L603.8,178.5 L604.1,178.1 L604.3,177.7 L604.6,177.2 L604.8,176.8 L605.1,176.4 L605.3,176.0 L605.6,175.5 L605.8,175.1 L606.1,174.7 L606.3,174.2 L606.6,173.8 L606.8,173.4 L607.1,172.9 L607.3,172.5 L607.6,172.1 L607.8,171.6 L608.0,171.2 L608.3,170.8 L608.5,170.3 L608.8,169.9 L609.0,169.5 L609.3,169.0 L609.5,168.6 L609.8,168.2 L610.0,167.7 L610.3,167.3 L610.5,166.9 L610.8,166.4 L611.0,166.0 L611.2,165.6 L611.5,165.1 L611.7,164.7 L612.0,164.2 L612.2,163.8 L612.5,163.4 L612.7,162.9 L612.9,162.5 L613.2,162.1 L613.4,161.6 L613.7,161.2 L613.9,160.7 L614.2,160.3 L614.4,159.9 L614.6,159.4 L614.9,159.0 L615.1,158.6 L615.4,158.1 L615.6,157.7 L615.8,157.2 L616.1,156.8 L616.3,156.3 L616.6,155.9 L616.8,155.5 L617.0,155.0 L617.3,154.6 L617.5,154.1 L617.8,153.7 L618.0,153.3 L618.2,152.8 L618.5,152.4 L618.7,151.9 L618.9,151.5 L619.2,151.0 L619.4,150.6 L619.7,150.2 L619.9,149.7 L620.1,149.3 L620.4,148.8 L620.6,148.4 L620.8,147.9 L621.1,147.5 L621.3,147.0 L621.5,146.6 L621.8,146.2 L622.0,145.7 L622.3,145.3 L622.5,144.8 L622.7,144.4 L623.0,143.9 L623.2,143.5 L623.4,143.0 L623.7,142.6 L623.9,142.1 L624.1,141.7 L624.4,141.2 L624.6,140.8 L624.8,140.3 L625.1,139.9 L625.3,139.4 L625.5,139.0 L625.8,138.5 L626.0,138.1 L626.2,137.6 L626.5,137.2 L626.7,136.7 L627.0,136.3 L627.2,135.8 L627.4,135.4 L627.7,134.9 L627.9,134.5 L628.1,134.0 L628.4,133.6 L628.6,133.1 L628.8,132.7 L629.1,132.2 L629.3,131.8 L629.5,131.3 L629.8,130.9 L630.0,130.4 L630.2,130.0 L630.5,129.5 L630.7,129.1 L630.9,128.6 L631.2,128.2 L631.4,127.7 L631.6,127.3 L631.9,126.8 L632.1,126.4 L632.3,125.9 L632.5,125.4 L632.8,125.0 L633.0,124.5 L633.2,124.1 L633.5,123.6 L633.7,123.2 L633.9,122.7 L634.2,122.3 L634.4,121.8 L634.7,121.4 L634.9,120.9 L635.1,120.5 L635.4,120.0 L635.6,119.5 L635.8,119.1 L636.1,118.6 L636.3,118.2 L636.5,117.7 L636.8,117.3 L637.0,116.8 L637.3,116.4 L637.5,115.9 L637.7,115.5 L638.0,115.1 L638.2,114.6 L638.5,114.2 L638.7,113.7 L639.0,113.3 L639.2,112.8 L639.5,112.4 L639.7,112.0 L640.0,111.5 L640.2,111.1 L640.5,110.6 L640.7,110.2 L641.0,109.8 L641.3,109.3 L641.5,108.9 L641.8,108.5 L642.1,108.1 L642.3,107.6 L642.6,107.2 L642.9,106.8 L643.1,106.4 L643.4,106.0 L643.7,105.5 L643.9,105.1 L644.2,104.7 L644.5,104.3 L644.8,103.9 L645.1,103.5 L645.4,103.1 L645.7,102.7 L645.9,102.3 L646.2,101.9 L646.5,101.5 L646.8,101.1 L647.1,100.7 L647.4,100.3 L647.7,99.9 L648.0,99.6 L648.4,99.2 L648.7,98.8 L649.0,98.4 L649.3,98.0 L649.6,97.7 L649.9,97.3 L650.3,96.9 L650.6,96.6 L650.9,96.2 L651.3,95.9 L651.6,95.5 L652.0,95.2 L652.3,94.8 L652.6,94.5 L653.0,94.1 L653.3,93.8 L653.7,93.5 L654.1,93.2 L654.4,92.8 L654.8,92.5 L655.2,92.2 L655.5,91.9 L655.9,91.6 L656.3,91.3 L656.7,91.0 L657.1,90.7 L657.5,90.4 L657.9,90.1 L658.3,89.8 L658.7,89.5 L659.1,89.2 L659.5,88.9 L659.9,88.7 L660.3,88.4 L660.7,88.1 L661.2,87.9 L661.6,87.6 L662.0,87.4 L662.5,87.2 L662.9,86.9 L663.4,86.7 L663.8,86.5 L664.3,86.3 L664.7,86.2 L665.2,86.0 L665.7,85.8 L666.1,85.7 L666.6,85.6 L667.1,85.4 L667.6,85.3 L668.1,85.2 L668.6,85.2 L669.1,85.1 L669.6,85.0 L670.1,84.9 L670.6,84.9 L671.1,84.8 L671.6,84.8 L672.1,84.8 L672.6,84.8 L673.1,84.7 L673.6,84.7 L674.1,84.7 L674.7,84.7 L675.2,84.7 L675.7,84.7 L676.2,84.7 L676.7,84.8 L677.2,84.8 L677.7,84.8 L678.2,84.8 L678.7,84.8 L679.3,84.8 L679.8,84.9 L680.3,84.9 L680.8,84.9 L681.3,84.9 L681.8,84.9 L682.2,84.9 L682.7,85.0 L683.2,85.0 L683.7,85.0" fill="none" stroke="#ff0000" stroke-width="2.3" stroke-linecap="butt" stroke-linejoin="round"/>
<path d="M81.5,419.3 L82.0,419.4 L82.5,419.4 L83.0,419.4 L83.5,419.5 L84.0,419.5 L84.5,419.6 L85.0,419.6 L85.5,419.7 L86.0,419.7 L86.5,419.8 L87.1,419.8 L87.6,419.9 L88.1,419.9 L88.6,420.0 L89.1,420.0 L89.6,420.1 L90.1,420.1 L90.6,420.2 L91.1,420.3 L91.6,420.3 L92.1,420.4 L92.6,420.5 L93.0,420.5 L93.5,420.6 L94.0,420.7 L94.5,420.7 L95.0,420.8 L95.5,420.9 L96.0,421.0 L96.5,421.0 L97.0,421.1 L97.5,421.2 L98.0,421.3 L98.5,421.3 L99.0,421.4 L99.5,421.5 L100.0,421.6 L100.5,421.7 L101.0,421.8 L101.5,421.9 L102.0,422.0 L102.4,422.0 L102.9,422.1 L103.4,422.2 L103.9,422.3 L104.4,422.4 L104.9,422.5 L105.4,422.6 L105.9,422.7 L106.4,422.8 L106.8,422.9 L107.3,423.0 L107.8,423.1 L108.3,423.3 L108.8,423.4 L109.3,423.5 L109.8,423.6 L110.3,423.7 L110.7,423.8 L111.2,423.9 L111.7,424.0 L112.2,424.2 L112.7,424.3 L113.2,424.4 L113.6,424.5 L114.1,424.6 L114.6,424.8 L115.1,424.9 L115.6,425.0 L116.0,425.1 L116.5,425.3 L117.0,425.4 L117.5,425.5 L118.0,425.7 L118.4,425.8 L118.9,425.9 L119.4,426.1 L119.9,426.2 L120.4,426.3 L120.8,426.5 L121.3,426.6 L121.8,426.8 L122.3,426.9 L122.7,427.0 L123.2,427.2 L123.7,427.3 L124.2,427.5 L124.6,427.6 L125.1,427.8 L125.6,427.9 L126.1,428.1 L126.5,428.2 L127.0,428.4 L127.5,428.5 L127.9,428.7 L128.4,428.9 L128.9,429.0 L129.4,429.2 L129.8,429.3 L130.3,429.5 L130.8,429.7 L131.2,429.8 L131.7,430.0 L132.2,430.2 L132.6,430.3 L133.1,430.5 L133.6,430.7 L134.0,430.8 L134.5,431.0 L135.0,431.2 L135.4,431.4 L135.9,431.5 L136.4,431.7 L136.8,431.9 L137.3,432.1 L137.8,432.3 L138.2,432.4 L138.7,432.6 L139.1,432.8 L139.6,433.0 L140.1,433.2 L140.5,433.4 L141.0,433.5 L141.5,433.7 L141.9,433.9 L142.4,434.1 L142.8,434.3 L143.3,434.5 L143.7,434.7 L144.2,434.9 L144.7,435.1 L145.1,435.3 L145.6,435.5 L146.0,435.7 L146.5,435.9 L146.9,436.1 L147.4,436.3 L147.9,436.5 L148.3,436.7 L148.8,436.9 L149.2,437.1 L149.7,437.3 L150.1,437.5 L150.6,437.7 L151.0,437.9 L151.5,438.1 L151.9,438.4 L152.4,438.6 L152.8,438.8 L153.3,439.0 L153.7,439.2 L154.2,439.4 L154.6,439.7 L155.1,439.9 L155.5,440.1 L156.0,440.3 L156.4,440.5 L156.9,440.8 L157.3,441.0 L157.7,441.2 L158.2,441.4 L158.6,441.7 L159.1,441.9 L159.5,442.1 L160.0,442.3 L160.4,442.6 L160.9,442.8 L161.3,443.0 L161.7,443.3 L162.2,443.5 L162.6,443.7 L163.1,444.0 L163.5,444.2 L163.9,444.5 L164.4,444.7 L164.8,444.9 L165.3,445.2 L165.7,445.4 L166.1,445.7 L166.6,445.9 L167.0,446.1 L167.4,446.4 L167.9,446.6 L168.3,446.9 L168.8,447.1 L169.2,447.4 L169.6,447.6 L170.1,447.9 L170.5,448.1 L170.9,448.4 L171.4,448.6 L171.8,448.9 L172.2,449.2 L172.7,449.4 L173.1,449.7 L173.5,449.9 L173.9,450.2 L174.4,450.4 L174.8,450.7 L175.2,451.0 L175.7,451.2 L176.1,451.5 L176.5,451.7 L176.9,452.0 L177.4,452.3 L177.8,452.5 L178.2,452.8 L178.6,453.1 L179.1,453.3 L179.5,453.6 L179.9,453.9 L180.3,454.2 L180.8,454.4 L181.2,454.7 L181.6,455.0 L182.0,455.2 L182.5,455.5 L182.9,455.8 L183.3,456.1 L183.7,456.4 L184.1,456.6 L184.5,456.9 L185.0,457.2 L185.4,457.5 L185.8,457.7 L186.2,458.0 L186.6,458.3 L187.1,458.6 L187.5,458.9 L187.9,459.2 L188.3,459.5 L188.7,459.7 L189.1,460.0 L189.5,460.3 L190.0,460.6 L190.4,460.9 L190.8,461.2 L191.2,461.5 L191.6,461.8 L192.0,462.1 L192.4,462.3 L192.8,462.6 L193.2,462.9 L193.7,463.2 L194.1,463.5 L194.5,463.8 L194.9,464.1 L195.3,464.4 L195.7,464.7 L196.1,465.0 L196.5,465.3 L196.9,465.6 L197.3,465.9 L197.7,466.2 L198.1,466.5 L198.5,466.8 L198.9,467.1 L199.3,467.4 L199.7,467.7 L200.1,468.1 L200.5,468.4 L200.9,468.7 L201.3,469.0 L201.7,469.3 L202.1,469.6 L202.5,469.9 L202.9,470.2 L203.3,470.5 L203.7,470.8 L204.1,471.1 L204.5,471.5 L204.9,471.8 L205.3,472.1 L205.7,472.4 L206.1,472.7 L206.5,473.0 L206.9,473.4 L207.3,473.7 L207.7,474.0 L208.1,474.3 L208.5,474.6 L208.9,475.0 L209.3,475.3 L209.7,475.6 L210.0,475.9 L210.4,476.2 L210.8,476.6 L211.2,476.9 L211.6,477.2 L212.0,477.5 L212.4,477.9 L212.8,478.2 L213.2,478.5 L213.5,478.8 L213.9,479.2 L214.3,479.5 L214.7,479.8 L215.1,480.2 L215.5,480.5 L215.8,480.8 L216.2,481.2 L216.6,481.5 L217.0,481.8 L217.4,482.1 L217.8,482.5 L218.1,482.8 L218.5,483.1 L218.9,483.5 L219.3,483.8 L219.7,484.2 L220.0,484.5 L220.4,484.8 L220.8,485.2 L221.2,485.5 L221.5,485.8 L221.9,486.2 L222.3,486.5 L222.7,486.9 L223.0,487.2 L223.4,487.5 L223.8,487.9 L224.2,488.2 L224.5,488.6 L224.9,488.9 L225.3,489.3 L225.6,489.6 L226.0,489.9 L226.4,490.3 L226.8,490.6 L227.1,491.0 L227.5,491.3 L227.9,491.7 L228.2,492.0 L228.6,492.4 L229.0,492.7 L229.3,493.1 L229.7,493.4 L230.1,493.8 L230.4,494.1 L230.8,494.5 L231.1,494.8 L231.5,495.2 L231.9,495.5 L232.2,495.9 L232.6,496.2 L232.9,496.6 L233.3,496.9 L233.7,497.3 L234.0,497.7 L234.4,498.0 L234.7,498.4 L235.1,498.7 L235.4,499.1 L235.8,499.4 L236.1,499.8 L236.5,500.2 L236.8,500.5 L237.2,500.9 L237.5,501.2 L237.9,501.6 L238.2,502.0 L238.6,502.3 L238.9,502.7 L239.3,503.1 L239.6,503.4 L240.0,503.8 L240.3,504.2 L240.6,504.5 L241.0,504.9 L241.3,505.3 L241.6,505.6 L242.0,506.0 L242.3,506.4 L242.7,506.8 L243.0,507.1 L243.3,507.5 L243.6,507.9 L244.0,508.2 L244.3,508.6 L244.6,509.0 L244.9,509.4 L245.3,509.8 L245.6,510.1 L245.9,510.5 L246.2,510.9 L246.6,511.3 L246.9,511.7 L247.2,512.0 L247.5,512.4 L247.8,512.8 L248.1,513.2 L248.4,513.6 L248.7,514.0 L249.1,514.3 L249.4,514.7 L249.7,515.1 L250.0,515.5 L250.3,515.9 L250.6,516.3 L250.9,516.7 L251.2,517.1 L251.5,517.5 L251.7,517.9 L252.0,518.3 L252.3,518.7 L252.6,519.1 L252.9,519.5 L253.2,519.9 L253.5,520.3 L253.8,520.7 L254.0,521.1 L254.3,521.5 L254.6,521.9 L254.9,522.3 L255.1,522.7 L255.4,523.1 L255.7,523.5 L256.0,523.9 L256.2,524.3 L256.5,524.7 L256.7,525.1 L257.0,525.5 L257.3,526.0 L257.5,526.4 L257.8,526.8 L258.0,527.2 L258.3,527.6 L258.5,528.0 L258.8,528.5 L259.0,528.9 L259.3,529.3 L259.5,529.7 L259.7,530.1 L260.0,530.6 L260.2,531.0 L260.5,531.4 L260.7,531.9 L260.9,532.3 L261.1,532.7 L261.4,533.1 L261.6,533.6 L261.8,534.0 L262.0,534.4 L262.2,534.9 L262.5,535.3 L262.7,535.8 L262.9,536.2 L263.1,536.6 L263.3,537.1 L263.5,537.5 L263.7,538.0 L263.9,538.4 L264.1,538.8 L264.3,539.3 L264.5,539.7 L264.7,540.2 L264.8,540.6 L265.0,541.1 L265.2,541.5 L265.4,542.0 L265.6,542.4 L265.8,542.9 L265.9,543.4 L266.1,543.8 L266.3,544.3 L266.5,544.7 L266.6,545.2 L266.8,545.6 L267.0,546.1 L267.1,546.6 L267.3,547.0 L267.4,547.5 L267.6,548.0 L267.8,548.4 L267.9,548.9 L268.1,549.4 L268.2,549.8 L268.4,550.3 L268.5,550.8 L268.7,551.2 L268.8,551.7 L269.0,552.2 L269.1,552.7 L269.2,553.1 L269.4,553.6 L269.5,554.1 L269.7,554.6 L269.8,555.1 L269.9,555.5 L270.1,556.0 L270.2,556.5 L270.3,557.0 L270.5,557.5 L270.6,558.0 L270.7,558.4 L270.8,558.9 L271.0,559.4 L271.1,559.9 L271.2,560.4 L271.3,560.9 L271.4,561.4 L271.5,561.9 L271.7,562.4 L271.8,562.8 L271.9,563.3 L272.0,563.8 L272.1,564.3 L272.2,564.8 L272.3,565.3 L272.4,565.8 L272.5,566.3 L272.7,566.8 L272.8,567.3 L272.9,567.8 L273.0,568.3 L273.1,568.8 L273.2,569.3 L273.3,569.8 L273.4,570.3 L273.5,570.9 L273.6,571.4 L273.7,571.9 L273.7,572.4 L273.8,572.9 L273.9,573.4 L274.0,573.9 L274.1,574.4 L274.2,574.9 L274.3,575.4 L274.4,576.0 L274.5,576.5 L274.6,577.0 L274.7,577.5 L274.7,578.0 L274.8,578.5 L274.9,579.0 L275.0,579.6 L275.1,580.1 L275.2,580.6 L275.2,581.1 L275.3,581.6 L275.4,582.2 L275.5,582.7 L275.6,583.2 L275.7,583.7 L275.7,584.3 L275.8,584.8 L275.9,585.3 L276.0,585.8 L276.1,586.4 L276.1,586.9 L276.2,587.4 L276.3,587.9 L276.4,588.5 L276.4,589.0 L276.5,589.5 L276.6,590.1 L276.7,590.6 L276.8,591.1 L276.9,591.6 L276.9,592.2 L277.0,592.7 L277.1,593.2 L277.2,593.7 L277.3,594.3 L277.4,594.8 L277.4,595.3 L277.5,595.8 L277.6,596.4 L277.7,596.9 L277.8,597.4 L277.9,597.9 L278.0,598.4 L278.1,599.0 L278.2,599.5 L278.3,600.0 L278.4,600.5 L278.5,601.0 L278.6,601.5 L278.7,602.1 L278.8,602.6 L278.9,603.1 L279.0,603.6 L279.1,604.1 L279.2,604.6 L279.3,605.1 L279.4,605.6 L279.6,606.1 L279.7,606.6 L279.8,607.1 L279.9,607.6 L280.1,608.1 L280.2,608.6 L280.3,609.1 L280.5,609.6 L280.6,610.1 L280.7,610.5 L280.9,611.0 L281.0,611.5 L281.2,612.0 L281.3,612.5 L281.5,612.9 L281.6,613.4 L281.8,613.9 L282.0,614.3 L282.1,614.8 L282.3,615.3 L282.5,615.7 L282.7,616.2 L282.8,616.6 L283.0,617.1 L283.2,617.5 L283.4,618.0 L283.6,618.4 L283.8,618.9 L284.0,619.3 L284.2,619.7 L284.4,620.2 L284.6,620.6 L284.9,621.0 L285.1,621.4 L285.3,621.9 L285.5,622.3 L285.8,622.7 L286.0,623.1 L286.3,623.5 L286.5,623.9 L286.8,624.3 L287.0,624.7 L287.3,625.1 L287.6,625.5 L287.8,625.8 L288.1,626.2 L288.4,626.6 L288.7,627.0 L289.0,627.3 L289.3,627.7 L289.6,628.1 L289.9,628.4 L290.2,628.8 L290.5,629.1 L290.9,629.4 L291.2,629.8 L291.5,630.1 L291.9,630.4 L292.2,630.7 L292.6,631.0 L292.9,631.3 L293.3,631.6 L293.7,631.9 L294.1,632.2 L294.5,632.4 L294.9,632.7 L295.3,633.0 L295.7,633.2 L296.1,633.4 L296.5,633.6 L297.0,633.9 L297.4,634.1 L297.9,634.3 L298.3,634.4 L298.8,634.6 L299.3,634.8 L299.8,634.9 L300.2,635.1 L300.8,635.2 L301.3,635.3" fill="none" stroke="#0f5f30" stroke-width="2.3" stroke-linecap="butt" stroke-linejoin="round"/>
<path d="M81.5,401.7 L82.0,401.7 L82.5,401.8 L83.0,401.8 L83.5,401.9 L84.0,401.9 L84.5,402.0 L85.0,402.0 L85.5,402.0 L86.0,402.1 L86.5,402.1 L87.0,402.2 L87.5,402.3 L88.0,402.3 L88.5,402.4 L89.0,402.4 L89.5,402.5 L90.0,402.5 L90.5,402.6 L91.0,402.7 L91.5,402.7 L92.0,402.8 L92.5,402.9 L93.0,402.9 L93.5,403.0 L94.0,403.1 L94.5,403.2 L95.0,403.2 L95.5,403.3 L96.0,403.4 L96.5,403.5 L97.0,403.6 L97.5,403.6 L98.0,403.7 L98.5,403.8 L98.9,403.9 L99.4,404.0 L99.9,404.1 L100.4,404.2 L100.9,404.3 L101.4,404.4 L101.9,404.5 L102.4,404.6 L102.9,404.7 L103.3,404.8 L103.8,404.9 L104.3,405.0 L104.8,405.1 L105.3,405.2 L105.8,405.3 L106.3,405.4 L106.7,405.5 L107.2,405.6 L107.7,405.7 L108.2,405.8 L108.7,406.0 L109.2,406.1 L109.6,406.2 L110.1,406.3 L110.6,406.4 L111.1,406.6 L111.6,406.7 L112.0,406.8 L112.5,406.9 L113.0,407.1 L113.5,407.2 L114.0,407.3 L114.4,407.5 L114.9,407.6 L115.4,407.7 L115.9,407.9 L116.4,408.0 L116.8,408.1 L117.3,408.3 L117.8,408.4 L118.3,408.5 L118.7,408.7 L119.2,408.8 L119.7,409.0 L120.2,409.1 L120.6,409.3 L121.1,409.4 L121.6,409.6 L122.0,409.7 L122.5,409.9 L123.0,410.0 L123.5,410.2 L123.9,410.3 L124.4,410.5 L124.9,410.7 L125.3,410.8 L125.8,411.0 L126.3,411.1 L126.7,411.3 L127.2,411.5 L127.7,411.6 L128.1,411.8 L128.6,412.0 L129.1,412.1 L129.5,412.3 L130.0,412.5 L130.5,412.7 L130.9,412.8 L131.4,413.0 L131.9,413.2 L132.3,413.4 L132.8,413.5 L133.3,413.7 L133.7,413.9 L134.2,414.1 L134.6,414.3 L135.1,414.5 L135.6,414.6 L136.0,414.8 L136.5,415.0 L136.9,415.2 L137.4,415.4 L137.9,415.6 L138.3,415.8 L138.8,416.0 L139.2,416.2 L139.7,416.4 L140.1,416.6 L140.6,416.8 L141.0,417.0 L141.5,417.2 L142.0,417.4 L142.4,417.6 L142.9,417.8 L143.3,418.0 L143.8,418.2 L144.2,418.4 L144.7,418.6 L145.1,418.8 L145.6,419.0 L146.0,419.2 L146.5,419.4 L146.9,419.6 L147.4,419.9 L147.8,420.1 L148.3,420.3 L148.7,420.5 L149.2,420.7 L149.6,420.9 L150.1,421.2 L150.5,421.4 L151.0,421.6 L151.4,421.8 L151.9,422.1 L152.3,422.3 L152.8,422.5 L153.2,422.7 L153.6,423.0 L154.1,423.2 L154.5,423.4 L155.0,423.6 L155.4,423.9 L155.9,424.1 L156.3,424.3 L156.7,424.6 L157.2,424.8 L157.6,425.0 L158.1,425.3 L158.5,425.5 L158.9,425.8 L159.4,426.0 L159.8,426.2 L160.3,426.5 L160.7,426.7 L161.1,427.0 L161.6,427.2 L162.0,427.5 L162.4,427.7 L162.9,427.9 L163.3,428.2 L163.8,428.4 L164.2,428.7 L164.6,428.9 L165.1,429.2 L165.5,429.4 L165.9,429.7 L166.4,429.9 L166.8,430.2 L167.2,430.5 L167.7,430.7 L168.1,431.0 L168.5,431.2 L168.9,431.5 L169.4,431.7 L169.8,432.0 L170.2,432.3 L170.7,432.5 L171.1,432.8 L171.5,433.1 L171.9,433.3 L172.4,433.6 L172.8,433.9 L173.2,434.1 L173.7,434.4 L174.1,434.7 L174.5,434.9 L174.9,435.2 L175.4,435.5 L175.8,435.7 L176.2,436.0 L176.6,436.3 L177.0,436.6 L177.5,436.8 L177.9,437.1 L178.3,437.4 L178.7,437.7 L179.2,437.9 L179.6,438.2 L180.0,438.5 L180.4,438.8 L180.8,439.0 L181.2,439.3 L181.7,439.6 L182.1,439.9 L182.5,440.2 L182.9,440.5 L183.3,440.7 L183.8,441.0 L184.2,441.3 L184.6,441.6 L185.0,441.9 L185.4,442.2 L185.8,442.5 L186.2,442.7 L186.7,443.0 L187.1,443.3 L187.5,443.6 L187.9,443.9 L188.3,444.2 L188.7,444.5 L189.1,444.8 L189.5,445.1 L189.9,445.4 L190.4,445.7 L190.8,446.0 L191.2,446.3 L191.6,446.6 L192.0,446.9 L192.4,447.2 L192.8,447.5 L193.2,447.7 L193.6,448.0 L194.0,448.3 L194.4,448.7 L194.8,449.0 L195.2,449.3 L195.6,449.6 L196.0,449.9 L196.5,450.2 L196.9,450.5 L197.3,450.8 L197.7,451.1 L198.1,451.4 L198.5,451.7 L198.9,452.0 L199.3,452.3 L199.7,452.6 L200.1,452.9 L200.5,453.2 L200.9,453.5 L201.3,453.9 L201.7,454.2 L202.1,454.5 L202.5,454.8 L202.9,455.1 L203.2,455.4 L203.6,455.7 L204.0,456.0 L204.4,456.4 L204.8,456.7 L205.2,457.0 L205.6,457.3 L206.0,457.6 L206.4,457.9 L206.8,458.2 L207.2,458.6 L207.6,458.9 L208.0,459.2 L208.4,459.5 L208.8,459.8 L209.2,460.2 L209.5,460.5 L209.9,460.8 L210.3,461.1 L210.7,461.4 L211.1,461.8 L211.5,462.1 L211.9,462.4 L212.3,462.7 L212.6,463.1 L213.0,463.4 L213.4,463.7 L213.8,464.0 L214.2,464.4 L214.6,464.7 L215.0,465.0 L215.3,465.3 L215.7,465.7 L216.1,466.0 L216.5,466.3 L216.9,466.6 L217.3,467.0 L217.6,467.3 L218.0,467.6 L218.4,467.9 L218.8,468.3 L219.2,468.6 L219.5,468.9 L219.9,469.3 L220.3,469.6 L220.7,469.9 L221.1,470.3 L221.4,470.6 L221.8,470.9 L222.2,471.3 L222.6,471.6 L222.9,471.9 L223.3,472.2 L223.7,472.6 L224.1,472.9 L224.4,473.2 L224.8,473.6 L225.2,473.9 L225.6,474.3 L225.9,474.6 L226.3,474.9 L226.7,475.3 L227.0,475.6 L227.4,475.9 L227.8,476.3 L228.2,476.6 L228.5,476.9 L228.9,477.3 L229.3,477.6 L229.6,477.9 L230.0,478.3 L230.4,478.6 L230.7,479.0 L231.1,479.3 L231.5,479.6 L231.8,480.0 L232.2,480.3 L232.6,480.7 L232.9,481.0 L233.3,481.3 L233.7,481.7 L234.0,482.0 L234.4,482.4 L234.7,482.7 L235.1,483.0 L235.5,483.4 L235.8,483.7 L236.2,484.1 L236.5,484.4 L236.9,484.7 L237.3,485.1 L237.6,485.4 L238.0,485.8 L238.3,486.1 L238.7,486.5 L239.1,486.8 L239.4,487.2 L239.8,487.5 L240.1,487.9 L240.5,488.2 L240.8,488.6 L241.2,488.9 L241.5,489.2 L241.9,489.6 L242.2,489.9 L242.6,490.3 L242.9,490.6 L243.3,491.0 L243.6,491.3 L244.0,491.7 L244.3,492.1 L244.7,492.4 L245.0,492.8 L245.4,493.1 L245.7,493.5 L246.1,493.8 L246.4,494.2 L246.7,494.5 L247.1,494.9 L247.4,495.2 L247.8,495.6 L248.1,496.0 L248.5,496.3 L248.8,496.7 L249.1,497.0 L249.5,497.4 L249.8,497.8 L250.2,498.1 L250.5,498.5 L250.8,498.8 L251.2,499.2 L251.5,499.6 L251.8,499.9 L252.2,500.3 L252.5,500.7 L252.8,501.0 L253.2,501.4 L253.5,501.8 L253.8,502.1 L254.2,502.5 L254.5,502.9 L254.8,503.2 L255.1,503.6 L255.5,504.0 L255.8,504.4 L256.1,504.7 L256.5,505.1 L256.8,505.5 L257.1,505.9 L257.4,506.2 L257.7,506.6 L258.1,507.0 L258.4,507.4 L258.7,507.7 L259.0,508.1 L259.3,508.5 L259.7,508.9 L260.0,509.3 L260.3,509.6 L260.6,510.0 L260.9,510.4 L261.2,510.8 L261.6,511.2 L261.9,511.6 L262.2,511.9 L262.5,512.3 L262.8,512.7 L263.1,513.1 L263.4,513.5 L263.7,513.9 L264.0,514.3 L264.4,514.7 L264.7,515.1 L265.0,515.5 L265.3,515.9 L265.6,516.2 L265.9,516.6 L266.2,517.0 L266.5,517.4 L266.8,517.8 L267.1,518.2 L267.4,518.6 L267.7,519.0 L268.0,519.4 L268.3,519.8 L268.6,520.2 L268.9,520.6 L269.2,521.1 L269.5,521.5 L269.7,521.9 L270.0,522.3 L270.3,522.7 L270.6,523.1 L270.9,523.5 L271.2,523.9 L271.5,524.3 L271.8,524.7 L272.0,525.2 L272.3,525.6 L272.6,526.0 L272.9,526.4 L273.2,526.8 L273.5,527.2 L273.7,527.7 L274.0,528.1 L274.3,528.5 L274.6,528.9 L274.8,529.3 L275.1,529.8 L275.4,530.2 L275.7,530.6 L275.9,531.0 L276.2,531.5 L276.5,531.9 L276.7,532.3 L277.0,532.7 L277.3,533.2 L277.5,533.6 L277.8,534.0 L278.0,534.5 L278.3,534.9 L278.6,535.3 L278.8,535.8 L279.1,536.2 L279.3,536.6 L279.6,537.1 L279.8,537.5 L280.1,537.9 L280.3,538.4 L280.6,538.8 L280.8,539.2 L281.1,539.7 L281.3,540.1 L281.6,540.6 L281.8,541.0 L282.0,541.5 L282.3,541.9 L282.5,542.3 L282.8,542.8 L283.0,543.2 L283.2,543.7 L283.5,544.1 L283.7,544.6 L283.9,545.0 L284.1,545.5 L284.4,545.9 L284.6,546.4 L284.8,546.8 L285.0,547.3 L285.3,547.7 L285.5,548.2 L285.7,548.6 L285.9,549.1 L286.1,549.5 L286.3,550.0 L286.5,550.5 L286.8,550.9 L287.0,551.4 L287.2,551.8 L287.4,552.3 L287.6,552.8 L287.8,553.2 L288.0,553.7 L288.2,554.1 L288.4,554.6 L288.6,555.1 L288.7,555.5 L288.9,556.0 L289.1,556.5 L289.3,556.9 L289.5,557.4 L289.7,557.9 L289.9,558.3 L290.0,558.8 L290.2,559.3 L290.4,559.7 L290.6,560.2 L290.7,560.7 L290.9,561.2 L291.1,561.6 L291.3,562.1 L291.4,562.6 L291.6,563.0 L291.7,563.5 L291.9,564.0 L292.1,564.5 L292.2,565.0 L292.4,565.4 L292.5,565.9 L292.7,566.4 L292.8,566.9 L293.0,567.3 L293.1,567.8 L293.3,568.3 L293.4,568.8 L293.5,569.3 L293.7,569.8 L293.8,570.2 L293.9,570.7 L294.1,571.2 L294.2,571.7 L294.3,572.2 L294.5,572.7 L294.6,573.1 L294.7,573.6 L294.9,574.1 L295.0,574.6 L295.1,575.1 L295.2,575.6 L295.3,576.1 L295.5,576.6 L295.6,577.0 L295.7,577.5 L295.8,578.0 L295.9,578.5 L296.0,579.0 L296.2,579.5 L296.3,580.0 L296.4,580.5 L296.5,581.0 L296.6,581.5 L296.7,582.0 L296.8,582.5 L296.9,582.9 L297.1,583.4 L297.2,583.9 L297.3,584.4 L297.4,584.9 L297.5,585.4 L297.6,585.9 L297.7,586.4 L297.8,586.9 L297.9,587.4 L298.0,587.9 L298.1,588.4 L298.2,588.9 L298.4,589.4 L298.5,589.9 L298.6,590.4 L298.7,590.9 L298.8,591.4 L298.9,591.9 L299.0,592.3 L299.1,592.8 L299.2,593.3 L299.3,593.8 L299.4,594.3 L299.6,594.8 L299.7,595.3 L299.8,595.8 L299.9,596.3 L300.0,596.8 L300.1,597.3 L300.2,597.8 L300.3,598.3 L300.5,598.8 L300.6,599.3 L300.7,599.8 L300.8,600.3 L300.9,600.8 L301.1,601.3 L301.2,601.8 L301.3,602.3 L301.4,602.8 L301.5,603.3 L301.7,603.8 L301.8,604.3 L301.9,604.8 L302.1,605.3 L302.2,605.8 L302.3,606.2 L302.5,606.7 L302.6,607.2 L302.7,607.7 L302.9,608.2 L303.0,608.7 L303.2,609.2 L303.3,609.7 L303.4,610.2 L303.6,610.7 L303.7,611.2 L303.9,611.7 L304.0,612.2 L304.2,612.7 L304.4,613.2 L304.5,613.6 L304.7,614.1 L304.8,614.6 L305.0,615.1 L305.2,615.6 L305.3,616.1 L305.5,616.6 L305.7,617.0 L305.9,617.5 L306.1,618.0 L306.3,618.5 L306.4,618.9 L306.6,619.4 L306.8,619.9 L307.0,620.3 L307.2,620.8 L307.5,621.2 L307.7,621.7 L307.9,622.1 L308.1,622.6 L308.3,623.0 L308.6,623.5 L308.8,623.9 L309.1,624.3 L309.3,624.7 L309.5,625.2 L309.8,625.6 L310.1,626.0 L310.3,626.4 L310.6,626.8 L310.9,627.2 L311.2,627.6 L311.5,627.9 L311.7,628.3 L312.0,628.7 L312.4,629.1 L312.7,629.4 L313.0,629.8 L313.3,630.1 L313.6,630.4 L314.0,630.8 L314.3,631.1 L314.7,631.4 L315.0,631.7 L315.4,632.0 L315.8,632.3 L316.2,632.6 L316.5,632.9 L316.9,633.1 L317.3,633.4 L317.7,633.6 L318.2,633.9 L318.6,634.1 L319.0,634.3 L319.5,634.5 L319.9,634.7 L320.4,634.9 L320.8,635.1 L321.3,635.3" fill="none" stroke="#0000ff" stroke-width="2.3" stroke-linecap="butt" stroke-linejoin="round"/>
<path d="M81.5,392.2 L82.0,392.3 L82.5,392.3 L83.0,392.4 L83.5,392.4 L84.0,392.5 L84.5,392.5 L85.1,392.6 L85.6,392.6 L86.1,392.7 L86.6,392.7 L87.1,392.8 L87.6,392.9 L88.1,392.9 L88.6,393.0 L89.1,393.0 L89.6,393.1 L90.1,393.2 L90.6,393.2 L91.1,393.3 L91.6,393.4 L92.1,393.5 L92.6,393.5 L93.1,393.6 L93.6,393.7 L94.1,393.8 L94.6,393.8 L95.1,393.9 L95.5,394.0 L96.0,394.1 L96.5,394.2 L97.0,394.3 L97.5,394.3 L98.0,394.4 L98.5,394.5 L99.0,394.6 L99.5,394.7 L100.0,394.8 L100.5,394.9 L101.0,395.0 L101.5,395.1 L101.9,395.2 L102.4,395.3 L102.9,395.4 L103.4,395.5 L103.9,395.6 L104.4,395.7 L104.9,395.8 L105.3,395.9 L105.8,396.1 L106.3,396.2 L106.8,396.3 L107.3,396.4 L107.8,396.5 L108.3,396.6 L108.7,396.7 L109.2,396.9 L109.7,397.0 L110.2,397.1 L110.7,397.2 L111.1,397.4 L111.6,397.5 L112.1,397.6 L112.6,397.8 L113.1,397.9 L113.5,398.0 L114.0,398.2 L114.5,398.3 L115.0,398.4 L115.4,398.6 L115.9,398.7 L116.4,398.8 L116.9,399.0 L117.3,399.1 L117.8,399.3 L118.3,399.4 L118.8,399.6 L119.2,399.7 L119.7,399.9 L120.2,400.0 L120.7,400.2 L121.1,400.3 L121.6,400.5 L122.1,400.6 L122.5,400.8 L123.0,400.9 L123.5,401.1 L123.9,401.3 L124.4,401.4 L124.9,401.6 L125.3,401.7 L125.8,401.9 L126.3,402.1 L126.7,402.2 L127.2,402.4 L127.7,402.6 L128.1,402.8 L128.6,402.9 L129.1,403.1 L129.5,403.3 L130.0,403.4 L130.4,403.6 L130.9,403.8 L131.4,404.0 L131.8,404.2 L132.3,404.3 L132.7,404.5 L133.2,404.7 L133.7,404.9 L134.1,405.1 L134.6,405.3 L135.0,405.5 L135.5,405.6 L136.0,405.8 L136.4,406.0 L136.9,406.2 L137.3,406.4 L137.8,406.6 L138.2,406.8 L138.7,407.0 L139.1,407.2 L139.6,407.4 L140.0,407.6 L140.5,407.8 L140.9,408.0 L141.4,408.2 L141.8,408.4 L142.3,408.6 L142.7,408.8 L143.2,409.0 L143.6,409.2 L144.1,409.5 L144.5,409.7 L145.0,409.9 L145.4,410.1 L145.9,410.3 L146.3,410.5 L146.8,410.7 L147.2,411.0 L147.7,411.2 L148.1,411.4 L148.6,411.6 L149.0,411.8 L149.4,412.1 L149.9,412.3 L150.3,412.5 L150.8,412.7 L151.2,413.0 L151.6,413.2 L152.1,413.4 L152.5,413.7 L153.0,413.9 L153.4,414.1 L153.8,414.3 L154.3,414.6 L154.7,414.8 L155.2,415.0 L155.6,415.3 L156.0,415.5 L156.5,415.8 L156.9,416.0 L157.3,416.2 L157.8,416.5 L158.2,416.7 L158.6,417.0 L159.1,417.2 L159.5,417.5 L159.9,417.7 L160.4,418.0 L160.8,418.2 L161.2,418.4 L161.7,418.7 L162.1,418.9 L162.5,419.2 L163.0,419.5 L163.4,419.7 L163.8,420.0 L164.2,420.2 L164.7,420.5 L165.1,420.7 L165.5,421.0 L166.0,421.2 L166.4,421.5 L166.8,421.8 L167.2,422.0 L167.7,422.3 L168.1,422.6 L168.5,422.8 L168.9,423.1 L169.4,423.3 L169.8,423.6 L170.2,423.9 L170.6,424.1 L171.0,424.4 L171.5,424.7 L171.9,425.0 L172.3,425.2 L172.7,425.5 L173.1,425.8 L173.6,426.0 L174.0,426.3 L174.4,426.6 L174.8,426.9 L175.2,427.2 L175.7,427.4 L176.1,427.7 L176.5,428.0 L176.9,428.3 L177.3,428.6 L177.7,428.8 L178.2,429.1 L178.6,429.4 L179.0,429.7 L179.4,430.0 L179.8,430.3 L180.2,430.5 L180.6,430.8 L181.0,431.1 L181.5,431.4 L181.9,431.7 L182.3,432.0 L182.7,432.3 L183.1,432.6 L183.5,432.9 L183.9,433.2 L184.3,433.4 L184.7,433.7 L185.1,434.0 L185.5,434.3 L185.9,434.6 L186.4,434.9 L186.8,435.2 L187.2,435.5 L187.6,435.8 L188.0,436.1 L188.4,436.4 L188.8,436.7 L189.2,437.0 L189.6,437.3 L190.0,437.6 L190.4,437.9 L190.8,438.2 L191.2,438.6 L191.6,438.9 L192.0,439.2 L192.4,439.5 L192.8,439.8 L193.2,440.1 L193.6,440.4 L194.0,440.7 L194.4,441.0 L194.8,441.3 L195.2,441.6 L195.6,442.0 L196.0,442.3 L196.4,442.6 L196.8,442.9 L197.2,443.2 L197.6,443.5 L197.9,443.8 L198.3,444.2 L198.7,444.5 L199.1,444.8 L199.5,445.1 L199.9,445.4 L200.3,445.8 L200.7,446.1 L201.1,446.4 L201.5,446.7 L201.9,447.0 L202.3,447.4 L202.6,447.7 L203.0,448.0 L203.4,448.3 L203.8,448.7 L204.2,449.0 L204.6,449.3 L205.0,449.6 L205.4,450.0 L205.7,450.3 L206.1,450.6 L206.5,451.0 L206.9,451.3 L207.3,451.6 L207.7,451.9 L208.0,452.3 L208.4,452.6 L208.8,452.9 L209.2,453.3 L209.6,453.6 L210.0,453.9 L210.3,454.3 L210.7,454.6 L211.1,454.9 L211.5,455.3 L211.9,455.6 L212.2,455.9 L212.6,456.3 L213.0,456.6 L213.4,457.0 L213.8,457.3 L214.1,457.6 L214.5,458.0 L214.9,458.3 L215.3,458.7 L215.6,459.0 L216.0,459.3 L216.4,459.7 L216.8,460.0 L217.1,460.4 L217.5,460.7 L217.9,461.0 L218.2,461.4 L218.6,461.7 L219.0,462.1 L219.4,462.4 L219.7,462.8 L220.1,463.1 L220.5,463.5 L220.8,463.8 L221.2,464.1 L221.6,464.5 L222.0,464.8 L222.3,465.2 L222.7,465.5 L223.1,465.9 L223.4,466.2 L223.8,466.6 L224.2,466.9 L224.5,467.3 L224.9,467.6 L225.3,468.0 L225.6,468.3 L226.0,468.7 L226.3,469.0 L226.7,469.4 L227.1,469.7 L227.4,470.1 L227.8,470.4 L228.2,470.8 L228.5,471.1 L228.9,471.5 L229.2,471.9 L229.6,472.2 L230.0,472.6 L230.3,472.9 L230.7,473.3 L231.0,473.6 L231.4,474.0 L231.8,474.3 L232.1,474.7 L232.5,475.1 L232.8,475.4 L233.2,475.8 L233.5,476.1 L233.9,476.5 L234.3,476.8 L234.6,477.2 L235.0,477.6 L235.3,477.9 L235.7,478.3 L236.0,478.6 L236.4,479.0 L236.7,479.4 L237.1,479.7 L237.4,480.1 L237.8,480.4 L238.1,480.8 L238.5,481.2 L238.8,481.5 L239.2,481.9 L239.5,482.2 L239.9,482.6 L240.2,483.0 L240.6,483.3 L240.9,483.7 L241.3,484.0 L241.6,484.4 L242.0,484.8 L242.3,485.1 L242.7,485.5 L243.0,485.9 L243.4,486.2 L243.7,486.6 L244.0,487.0 L244.4,487.3 L244.7,487.7 L245.1,488.0 L245.4,488.4 L245.8,488.8 L246.1,489.1 L246.4,489.5 L246.8,489.9 L247.1,490.2 L247.5,490.6 L247.8,491.0 L248.1,491.3 L248.5,491.7 L248.8,492.1 L249.2,492.4 L249.5,492.8 L249.8,493.2 L250.2,493.5 L250.5,493.9 L250.8,494.3 L251.2,494.7 L251.5,495.0 L251.8,495.4 L252.2,495.8 L252.5,496.1 L252.8,496.5 L253.2,496.9 L253.5,497.3 L253.8,497.6 L254.1,498.0 L254.5,498.4 L254.8,498.8 L255.1,499.1 L255.4,499.5 L255.8,499.9 L256.1,500.3 L256.4,500.6 L256.7,501.0 L257.1,501.4 L257.4,501.8 L257.7,502.1 L258.0,502.5 L258.3,502.9 L258.7,503.3 L259.0,503.7 L259.3,504.0 L259.6,504.4 L259.9,504.8 L260.2,505.2 L260.6,505.6 L260.9,505.9 L261.2,506.3 L261.5,506.7 L261.8,507.1 L262.1,507.5 L262.4,507.9 L262.7,508.2 L263.1,508.6 L263.4,509.0 L263.7,509.4 L264.0,509.8 L264.3,510.2 L264.6,510.6 L264.9,511.0 L265.2,511.3 L265.5,511.7 L265.8,512.1 L266.1,512.5 L266.4,512.9 L266.7,513.3 L267.0,513.7 L267.3,514.1 L267.6,514.5 L267.9,514.9 L268.2,515.3 L268.5,515.7 L268.8,516.1 L269.0,516.5 L269.3,516.9 L269.6,517.3 L269.9,517.7 L270.2,518.1 L270.5,518.5 L270.8,518.9 L271.1,519.3 L271.3,519.7 L271.6,520.1 L271.9,520.5 L272.2,520.9 L272.5,521.3 L272.8,521.7 L273.0,522.1 L273.3,522.5 L273.6,522.9 L273.9,523.3 L274.1,523.7 L274.4,524.2 L274.7,524.6 L274.9,525.0 L275.2,525.4 L275.5,525.8 L275.8,526.2 L276.0,526.6 L276.3,527.0 L276.6,527.5 L276.8,527.9 L277.1,528.3 L277.3,528.7 L277.6,529.1 L277.9,529.6 L278.1,530.0 L278.4,530.4 L278.6,530.8 L278.9,531.2 L279.1,531.7 L279.4,532.1 L279.6,532.5 L279.9,532.9 L280.1,533.4 L280.4,533.8 L280.6,534.2 L280.9,534.7 L281.1,535.1 L281.4,535.5 L281.6,536.0 L281.8,536.4 L282.1,536.8 L282.3,537.3 L282.6,537.7 L282.8,538.1 L283.0,538.6 L283.3,539.0 L283.5,539.4 L283.7,539.9 L284.0,540.3 L284.2,540.8 L284.4,541.2 L284.6,541.6 L284.9,542.1 L285.1,542.5 L285.3,543.0 L285.5,543.4 L285.8,543.9 L286.0,544.3 L286.2,544.8 L286.4,545.2 L286.6,545.7 L286.8,546.1 L287.0,546.6 L287.2,547.0 L287.5,547.5 L287.7,547.9 L287.9,548.4 L288.1,548.8 L288.3,549.3 L288.5,549.8 L288.7,550.2 L288.9,550.7 L289.1,551.1 L289.3,551.6 L289.5,552.1 L289.7,552.5 L289.8,553.0 L290.0,553.4 L290.2,553.9 L290.4,554.4 L290.6,554.8 L290.8,555.3 L291.0,555.8 L291.1,556.2 L291.3,556.7 L291.5,557.2 L291.7,557.7 L291.9,558.1 L292.0,558.6 L292.2,559.1 L292.4,559.5 L292.5,560.0 L292.7,560.5 L292.9,561.0 L293.0,561.4 L293.2,561.9 L293.4,562.4 L293.5,562.9 L293.7,563.4 L293.8,563.8 L294.0,564.3 L294.1,564.8 L294.3,565.3 L294.4,565.8 L294.6,566.3 L294.7,566.7 L294.9,567.2 L295.0,567.7 L295.2,568.2 L295.3,568.7 L295.4,569.2 L295.6,569.7 L295.7,570.2 L295.8,570.7 L296.0,571.1 L296.1,571.6 L296.2,572.1 L296.3,572.6 L296.5,573.1 L296.6,573.6 L296.7,574.1 L296.8,574.6 L296.9,575.1 L297.1,575.6 L297.2,576.1 L297.3,576.6 L297.4,577.1 L297.5,577.6 L297.6,578.1 L297.7,578.6 L297.8,579.1 L297.9,579.6 L298.0,580.1 L298.1,580.6 L298.2,581.1 L298.3,581.6 L298.4,582.1 L298.5,582.6 L298.6,583.2 L298.7,583.7 L298.8,584.2 L298.9,584.7 L299.0,585.2 L299.1,585.7 L299.2,586.2 L299.3,586.7 L299.4,587.2 L299.5,587.7 L299.6,588.2 L299.7,588.7 L299.8,589.2 L299.9,589.7 L300.0,590.2 L300.1,590.8 L300.2,591.3 L300.3,591.8 L300.4,592.3 L300.5,592.8 L300.6,593.3 L300.7,593.8 L300.8,594.3 L300.9,594.8 L301.0,595.3 L301.1,595.8 L301.2,596.3 L301.3,596.8 L301.4,597.3 L301.5,597.8 L301.6,598.3 L301.7,598.8 L301.8,599.3 L301.9,599.8 L302.0,600.3 L302.1,600.8 L302.2,601.3 L302.4,601.8 L302.5,602.3 L302.6,602.8 L302.7,603.3 L302.8,603.8 L303.0,604.3 L303.1,604.8 L303.2,605.3 L303.3,605.8 L303.5,606.3 L303.6,606.8 L303.7,607.2 L303.9,607.7 L304.0,608.2 L304.2,608.7 L304.3,609.2 L304.5,609.7 L304.6,610.1 L304.8,610.6 L304.9,611.1 L305.1,611.6 L305.2,612.1 L305.4,612.5 L305.6,613.0 L305.7,613.5 L305.9,614.0 L306.1,614.4 L306.3,614.9 L306.5,615.4 L306.6,615.8 L306.8,616.3 L307.0,616.8 L307.2,617.2 L307.4,617.7 L307.6,618.1 L307.8,618.6 L308.0,619.0 L308.3,619.5 L308.5,619.9 L308.7,620.4 L308.9,620.8 L309.2,621.3 L309.4,621.7 L309.6,622.1 L309.9,622.5 L310.1,623.0 L310.4,623.4 L310.6,623.8 L310.9,624.2 L311.2,624.6 L311.5,625.0 L311.7,625.4 L312.0,625.8 L312.3,626.2 L312.6,626.6 L312.9,626.9 L313.2,627.3 L313.5,627.7 L313.8,628.0 L314.2,628.4 L314.5,628.7 L314.8,629.1 L315.2,629.4 L315.5,629.7 L315.9,630.0 L316.2,630.3 L316.6,630.6 L317.0,630.9 L317.3,631.2 L317.7,631.5 L318.1,631.8 L318.5,632.0 L318.9,632.3 L319.3,632.5 L319.8,632.8 L320.2,633.0 L320.6,633.2 L321.1,633.4 L321.5,633.6 L322.0,633.8 L322.4,634.0 L322.9,634.2 L323.4,634.3 L323.9,634.5 L324.4,634.6 L324.9,634.7 L325.4,634.9 L325.9,635.0 L326.4,635.1 L327.0,635.1" fill="none" stroke="#8c5a2a" stroke-width="2.3" stroke-linecap="butt" stroke-linejoin="round"/>
<path d="M81.5,383.6 L82.0,383.6 L82.5,383.5 L83.0,383.5 L83.6,383.5 L84.1,383.5 L84.6,383.5 L85.1,383.5 L85.6,383.5 L86.1,383.5 L86.6,383.5 L87.2,383.5 L87.7,383.5 L88.2,383.6 L88.7,383.6 L89.2,383.6 L89.7,383.6 L90.2,383.7 L90.7,383.7 L91.2,383.7 L91.7,383.7 L92.2,383.8 L92.7,383.8 L93.2,383.9 L93.7,383.9 L94.2,384.0 L94.7,384.0 L95.2,384.1 L95.7,384.1 L96.2,384.2 L96.7,384.3 L97.2,384.3 L97.7,384.4 L98.2,384.5 L98.7,384.5 L99.2,384.6 L99.7,384.7 L100.2,384.8 L100.7,384.8 L101.1,384.9 L101.6,385.0 L102.1,385.1 L102.6,385.2 L103.1,385.3 L103.6,385.4 L104.1,385.5 L104.5,385.6 L105.0,385.7 L105.5,385.8 L106.0,385.9 L106.5,386.0 L107.0,386.1 L107.4,386.2 L107.9,386.4 L108.4,386.5 L108.9,386.6 L109.3,386.7 L109.8,386.9 L110.3,387.0 L110.8,387.1 L111.3,387.3 L111.7,387.4 L112.2,387.5 L112.7,387.7 L113.1,387.8 L113.6,388.0 L114.1,388.1 L114.6,388.2 L115.0,388.4 L115.5,388.5 L116.0,388.7 L116.4,388.9 L116.9,389.0 L117.4,389.2 L117.8,389.3 L118.3,389.5 L118.8,389.7 L119.2,389.8 L119.7,390.0 L120.2,390.2 L120.6,390.3 L121.1,390.5 L121.5,390.7 L122.0,390.9 L122.5,391.0 L122.9,391.2 L123.4,391.4 L123.8,391.6 L124.3,391.8 L124.8,392.0 L125.2,392.2 L125.7,392.4 L126.1,392.5 L126.6,392.7 L127.0,392.9 L127.5,393.1 L127.9,393.3 L128.4,393.5 L128.8,393.7 L129.3,393.9 L129.7,394.2 L130.2,394.4 L130.6,394.6 L131.1,394.8 L131.5,395.0 L132.0,395.2 L132.4,395.4 L132.9,395.6 L133.3,395.9 L133.8,396.1 L134.2,396.3 L134.7,396.5 L135.1,396.7 L135.6,397.0 L136.0,397.2 L136.5,397.4 L136.9,397.6 L137.3,397.9 L137.8,398.1 L138.2,398.3 L138.7,398.6 L139.1,398.8 L139.6,399.0 L140.0,399.3 L140.4,399.5 L140.9,399.7 L141.3,400.0 L141.8,400.2 L142.2,400.5 L142.6,400.7 L143.1,401.0 L143.5,401.2 L143.9,401.5 L144.4,401.7 L144.8,401.9 L145.3,402.2 L145.7,402.4 L146.1,402.7 L146.6,402.9 L147.0,403.2 L147.4,403.5 L147.9,403.7 L148.3,404.0 L148.7,404.2 L149.2,404.5 L149.6,404.7 L150.0,405.0 L150.5,405.3 L150.9,405.5 L151.3,405.8 L151.7,406.0 L152.2,406.3 L152.6,406.6 L153.0,406.8 L153.5,407.1 L153.9,407.4 L154.3,407.6 L154.8,407.9 L155.2,408.2 L155.6,408.4 L156.0,408.7 L156.5,409.0 L156.9,409.2 L157.3,409.5 L157.7,409.8 L158.2,410.0 L158.6,410.3 L159.0,410.6 L159.4,410.9 L159.9,411.1 L160.3,411.4 L160.7,411.7 L161.1,412.0 L161.6,412.2 L162.0,412.5 L162.4,412.8 L162.8,413.1 L163.3,413.3 L163.7,413.6 L164.1,413.9 L164.5,414.2 L165.0,414.4 L165.4,414.7 L165.8,415.0 L166.2,415.3 L166.6,415.5 L167.1,415.8 L167.5,416.1 L167.9,416.4 L168.3,416.7 L168.7,416.9 L169.2,417.2 L169.6,417.5 L170.0,417.8 L170.4,418.1 L170.8,418.3 L171.3,418.6 L171.7,418.9 L172.1,419.2 L172.5,419.5 L172.9,419.7 L173.4,420.0 L173.8,420.3 L174.2,420.6 L174.6,420.8 L175.0,421.1 L175.4,421.4 L175.9,421.7 L176.3,422.0 L176.7,422.2 L177.1,422.5 L177.5,422.8 L177.9,423.1 L178.4,423.4 L178.8,423.6 L179.2,423.9 L179.6,424.2 L180.0,424.5 L180.4,424.8 L180.9,425.1 L181.3,425.3 L181.7,425.6 L182.1,425.9 L182.5,426.2 L182.9,426.5 L183.3,426.7 L183.7,427.0 L184.1,427.3 L184.6,427.6 L185.0,427.9 L185.4,428.2 L185.8,428.5 L186.2,428.7 L186.6,429.0 L187.0,429.3 L187.4,429.6 L187.8,429.9 L188.2,430.2 L188.6,430.5 L189.0,430.8 L189.4,431.0 L189.8,431.3 L190.2,431.6 L190.6,431.9 L191.0,432.2 L191.5,432.5 L191.9,432.8 L192.3,433.1 L192.6,433.4 L193.0,433.7 L193.4,434.0 L193.8,434.3 L194.2,434.6 L194.6,434.9 L195.0,435.2 L195.4,435.5 L195.8,435.8 L196.2,436.1 L196.6,436.4 L197.0,436.7 L197.4,437.0 L197.8,437.3 L198.2,437.6 L198.6,437.9 L198.9,438.2 L199.3,438.5 L199.7,438.8 L200.1,439.1 L200.5,439.5 L200.9,439.8 L201.3,440.1 L201.6,440.4 L202.0,440.7 L202.4,441.0 L202.8,441.3 L203.2,441.7 L203.5,442.0 L203.9,442.3 L204.3,442.6 L204.7,442.9 L205.0,443.3 L205.4,443.6 L205.8,443.9 L206.2,444.2 L206.5,444.6 L206.9,444.9 L207.3,445.2 L207.6,445.5 L208.0,445.9 L208.4,446.2 L208.7,446.5 L209.1,446.9 L209.5,447.2 L209.8,447.5 L210.2,447.9 L210.6,448.2 L210.9,448.5 L211.3,448.9 L211.6,449.2 L212.0,449.6 L212.4,449.9 L212.7,450.2 L213.1,450.6 L213.4,450.9 L213.8,451.3 L214.2,451.6 L214.5,451.9 L214.9,452.3 L215.2,452.6 L215.6,453.0 L215.9,453.3 L216.3,453.7 L216.6,454.0 L217.0,454.4 L217.4,454.7 L217.7,455.1 L218.1,455.4 L218.4,455.8 L218.8,456.1 L219.1,456.5 L219.5,456.8 L219.8,457.2 L220.2,457.5 L220.5,457.9 L220.8,458.2 L221.2,458.6 L221.5,458.9 L221.9,459.3 L222.2,459.7 L222.6,460.0 L222.9,460.4 L223.3,460.7 L223.6,461.1 L224.0,461.5 L224.3,461.8 L224.6,462.2 L225.0,462.5 L225.3,462.9 L225.7,463.3 L226.0,463.6 L226.3,464.0 L226.7,464.4 L227.0,464.7 L227.4,465.1 L227.7,465.5 L228.0,465.8 L228.4,466.2 L228.7,466.6 L229.1,466.9 L229.4,467.3 L229.7,467.7 L230.1,468.0 L230.4,468.4 L230.8,468.8 L231.1,469.1 L231.4,469.5 L231.8,469.9 L232.1,470.3 L232.4,470.6 L232.8,471.0 L233.1,471.4 L233.4,471.7 L233.8,472.1 L234.1,472.5 L234.4,472.9 L234.8,473.2 L235.1,473.6 L235.4,474.0 L235.8,474.4 L236.1,474.7 L236.4,475.1 L236.8,475.5 L237.1,475.9 L237.4,476.3 L237.8,476.6 L238.1,477.0 L238.4,477.4 L238.8,477.8 L239.1,478.1 L239.4,478.5 L239.8,478.9 L240.1,479.3 L240.4,479.7 L240.8,480.0 L241.1,480.4 L241.4,480.8 L241.8,481.2 L242.1,481.6 L242.4,481.9 L242.8,482.3 L243.1,482.7 L243.4,483.1 L243.8,483.5 L244.1,483.8 L244.4,484.2 L244.8,484.6 L245.1,485.0 L245.4,485.4 L245.7,485.8 L246.1,486.1 L246.4,486.5 L246.7,486.9 L247.1,487.3 L247.4,487.7 L247.7,488.1 L248.1,488.5 L248.4,488.8 L248.7,489.2 L249.0,489.6 L249.4,490.0 L249.7,490.4 L250.0,490.8 L250.3,491.2 L250.7,491.5 L251.0,491.9 L251.3,492.3 L251.6,492.7 L252.0,493.1 L252.3,493.5 L252.6,493.9 L252.9,494.3 L253.3,494.7 L253.6,495.1 L253.9,495.4 L254.2,495.8 L254.6,496.2 L254.9,496.6 L255.2,497.0 L255.5,497.4 L255.8,497.8 L256.2,498.2 L256.5,498.6 L256.8,499.0 L257.1,499.4 L257.4,499.8 L257.7,500.2 L258.1,500.6 L258.4,501.0 L258.7,501.3 L259.0,501.7 L259.3,502.1 L259.6,502.5 L259.9,502.9 L260.2,503.3 L260.6,503.7 L260.9,504.1 L261.2,504.5 L261.5,504.9 L261.8,505.3 L262.1,505.7 L262.4,506.1 L262.7,506.5 L263.0,506.9 L263.3,507.3 L263.6,507.7 L263.9,508.1 L264.2,508.5 L264.5,508.9 L264.8,509.4 L265.1,509.8 L265.4,510.2 L265.7,510.6 L266.0,511.0 L266.3,511.4 L266.6,511.8 L266.9,512.2 L267.2,512.6 L267.5,513.0 L267.8,513.4 L268.1,513.8 L268.4,514.2 L268.7,514.6 L269.0,515.1 L269.2,515.5 L269.5,515.9 L269.8,516.3 L270.1,516.7 L270.4,517.1 L270.7,517.5 L270.9,517.9 L271.2,518.3 L271.5,518.8 L271.8,519.2 L272.1,519.6 L272.3,520.0 L272.6,520.4 L272.9,520.8 L273.2,521.3 L273.4,521.7 L273.7,522.1 L274.0,522.5 L274.2,522.9 L274.5,523.4 L274.8,523.8 L275.1,524.2 L275.3,524.6 L275.6,525.0 L275.8,525.5 L276.1,525.9 L276.4,526.3 L276.6,526.7 L276.9,527.1 L277.1,527.6 L277.4,528.0 L277.6,528.4 L277.9,528.9 L278.2,529.3 L278.4,529.7 L278.7,530.1 L278.9,530.6 L279.1,531.0 L279.4,531.4 L279.6,531.8 L279.9,532.3 L280.1,532.7 L280.4,533.1 L280.6,533.6 L280.8,534.0 L281.1,534.4 L281.3,534.9 L281.5,535.3 L281.8,535.7 L282.0,536.2 L282.2,536.6 L282.5,537.1 L282.7,537.5 L282.9,537.9 L283.1,538.4 L283.4,538.8 L283.6,539.2 L283.8,539.7 L284.0,540.1 L284.2,540.6 L284.5,541.0 L284.7,541.5 L284.9,541.9 L285.1,542.3 L285.3,542.8 L285.5,543.2 L285.7,543.7 L285.9,544.1 L286.1,544.6 L286.3,545.0 L286.5,545.5 L286.7,545.9 L286.9,546.4 L287.1,546.8 L287.3,547.3 L287.5,547.7 L287.7,548.2 L287.9,548.6 L288.1,549.1 L288.3,549.5 L288.5,550.0 L288.7,550.5 L288.9,550.9 L289.1,551.4 L289.2,551.8 L289.4,552.3 L289.6,552.7 L289.8,553.2 L290.0,553.7 L290.1,554.1 L290.3,554.6 L290.5,555.1 L290.7,555.5 L290.8,556.0 L291.0,556.5 L291.2,556.9 L291.3,557.4 L291.5,557.9 L291.7,558.3 L291.8,558.8 L292.0,559.3 L292.2,559.7 L292.3,560.2 L292.5,560.7 L292.6,561.2 L292.8,561.6 L293.0,562.1 L293.1,562.6 L293.3,563.1 L293.4,563.5 L293.6,564.0 L293.7,564.5 L293.9,565.0 L294.0,565.5 L294.1,565.9 L294.3,566.4 L294.4,566.9 L294.6,567.4 L294.7,567.9 L294.8,568.4 L295.0,568.9 L295.1,569.3 L295.2,569.8 L295.4,570.3 L295.5,570.8 L295.6,571.3 L295.8,571.8 L295.9,572.3 L296.0,572.8 L296.1,573.3 L296.3,573.8 L296.4,574.3 L296.5,574.8 L296.6,575.3 L296.7,575.8 L296.8,576.3 L297.0,576.8 L297.1,577.3 L297.2,577.8 L297.3,578.3 L297.4,578.8 L297.5,579.3 L297.6,579.8 L297.7,580.3 L297.8,580.8 L298.0,581.3 L298.1,581.8 L298.2,582.3 L298.3,582.8 L298.4,583.3 L298.5,583.8 L298.6,584.3 L298.7,584.8 L298.8,585.4 L298.9,585.9 L299.0,586.4 L299.1,586.9 L299.2,587.4 L299.3,587.9 L299.4,588.4 L299.5,588.9 L299.6,589.4 L299.7,589.9 L299.9,590.4 L300.0,590.9 L300.1,591.4 L300.2,591.9 L300.3,592.4 L300.4,592.9 L300.5,593.5 L300.6,594.0 L300.7,594.5 L300.8,595.0 L300.9,595.5 L301.1,596.0 L301.2,596.5 L301.3,597.0 L301.4,597.5 L301.5,598.0 L301.6,598.5 L301.8,598.9 L301.9,599.4 L302.0,599.9 L302.1,600.4 L302.3,600.9 L302.4,601.4 L302.5,601.9 L302.6,602.4 L302.8,602.9 L302.9,603.4 L303.0,603.8 L303.2,604.3 L303.3,604.8 L303.5,605.3 L303.6,605.8 L303.7,606.3 L303.9,606.7 L304.0,607.2 L304.2,607.7 L304.3,608.2 L304.5,608.6 L304.7,609.1 L304.8,609.6 L305.0,610.0 L305.2,610.5 L305.3,610.9 L305.5,611.4 L305.7,611.9 L305.8,612.3 L306.0,612.8 L306.2,613.2 L306.4,613.7 L306.6,614.1 L306.8,614.6 L307.0,615.0 L307.2,615.5 L307.4,615.9 L307.6,616.3 L307.8,616.8 L308.0,617.2 L308.2,617.6 L308.4,618.1 L308.6,618.5 L308.8,618.9 L309.1,619.3 L309.3,619.8 L309.5,620.2 L309.8,620.6 L310.0,621.0 L310.3,621.4 L310.5,621.8 L310.8,622.2 L311.0,622.6 L311.3,623.0 L311.5,623.4 L311.8,623.8 L312.1,624.2 L312.4,624.6 L312.6,624.9 L312.9,625.3 L313.2,625.7 L313.5,626.1 L313.8,626.4 L314.1,626.8 L314.4,627.2 L314.7,627.5 L315.1,627.9 L315.4,628.3 L315.7,628.6 L316.0,629.0 L316.4,629.3 L316.7,629.6 L317.1,630.0 L317.4,630.3 L317.8,630.6 L318.1,631.0 L318.5,631.3 L318.9,631.6 L319.3,631.9 L319.6,632.2 L320.0,632.5 L320.4,632.8 L320.8,633.1 L321.2,633.4 L321.6,633.7 L322.0,634.0 L322.5,634.3 L322.9,634.6 L323.3,634.9 L323.8,635.1 L324.2,635.4" fill="none" stroke="#ff0000" stroke-width="2.3" stroke-linecap="butt" stroke-linejoin="round"/>
<path d="M472.7,480.1 L473.2,480.1 L473.8,480.2 L474.3,480.2 L474.8,480.3 L475.3,480.3 L475.9,480.3 L476.4,480.4 L476.9,480.4 L477.4,480.5 L477.9,480.5 L478.5,480.6 L479.0,480.6 L479.5,480.7 L480.0,480.8 L480.5,480.8 L481.0,480.9 L481.6,481.0 L482.1,481.0 L482.6,481.1 L483.1,481.2 L483.6,481.2 L484.1,481.3 L484.6,481.4 L485.1,481.5 L485.6,481.6 L486.1,481.7 L486.6,481.7 L487.1,481.8 L487.6,481.9 L488.1,482.0 L488.6,482.1 L489.1,482.2 L489.6,482.3 L490.1,482.4 L490.6,482.5 L491.1,482.6 L491.6,482.7 L492.1,482.8 L492.6,482.9 L493.1,483.1 L493.6,483.2 L494.0,483.3 L494.5,483.4 L495.0,483.5 L495.5,483.7 L496.0,483.8 L496.5,483.9 L496.9,484.0 L497.4,484.2 L497.9,484.3 L498.4,484.4 L498.9,484.6 L499.3,484.7 L499.8,484.8 L500.3,485.0 L500.8,485.1 L501.3,485.3 L501.7,485.4 L502.2,485.6 L502.7,485.7 L503.1,485.9 L503.6,486.0 L504.1,486.2 L504.6,486.3 L505.0,486.5 L505.5,486.7 L506.0,486.8 L506.4,487.0 L506.9,487.2 L507.4,487.3 L507.8,487.5 L508.3,487.7 L508.7,487.8 L509.2,488.0 L509.7,488.2 L510.1,488.4 L510.6,488.5 L511.0,488.7 L511.5,488.9 L511.9,489.1 L512.4,489.3 L512.9,489.5 L513.3,489.7 L513.8,489.8 L514.2,490.0 L514.7,490.2 L515.1,490.4 L515.6,490.6 L516.0,490.8 L516.5,491.0 L516.9,491.2 L517.4,491.4 L517.8,491.6 L518.3,491.8 L518.7,492.0 L519.2,492.2 L519.6,492.5 L520.0,492.7 L520.5,492.9 L520.9,493.1 L521.4,493.3 L521.8,493.5 L522.2,493.7 L522.7,494.0 L523.1,494.2 L523.6,494.4 L524.0,494.6 L524.4,494.9 L524.9,495.1 L525.3,495.3 L525.7,495.5 L526.2,495.8 L526.6,496.0 L527.0,496.2 L527.5,496.5 L527.9,496.7 L528.3,496.9 L528.8,497.2 L529.2,497.4 L529.6,497.7 L530.1,497.9 L530.5,498.1 L530.9,498.4 L531.3,498.6 L531.8,498.9 L532.2,499.1 L532.6,499.4 L533.0,499.6 L533.5,499.9 L533.9,500.1 L534.3,500.4 L534.7,500.6 L535.2,500.9 L535.6,501.2 L536.0,501.4 L536.4,501.7 L536.8,501.9 L537.3,502.2 L537.7,502.5 L538.1,502.7 L538.5,503.0 L538.9,503.3 L539.3,503.5 L539.8,503.8 L540.2,504.1 L540.6,504.3 L541.0,504.6 L541.4,504.9 L541.8,505.2 L542.2,505.4 L542.7,505.7 L543.1,506.0 L543.5,506.3 L543.9,506.5 L544.3,506.8 L544.7,507.1 L545.1,507.4 L545.5,507.7 L545.9,507.9 L546.4,508.2 L546.8,508.5 L547.2,508.8 L547.6,509.1 L548.0,509.4 L548.4,509.7 L548.8,509.9 L549.2,510.2 L549.6,510.5 L550.0,510.8 L550.4,511.1 L550.8,511.4 L551.2,511.7 L551.6,512.0 L552.0,512.3 L552.4,512.6 L552.8,512.9 L553.2,513.2 L553.6,513.5 L554.0,513.8 L554.4,514.1 L554.8,514.4 L555.2,514.7 L555.6,515.0 L556.0,515.3 L556.4,515.6 L556.8,515.9 L557.2,516.2 L557.6,516.5 L558.0,516.8 L558.4,517.1 L558.8,517.4 L559.2,517.7 L559.6,518.1 L560.0,518.4 L560.4,518.7 L560.8,519.0 L561.2,519.3 L561.6,519.6 L562.0,519.9 L562.4,520.2 L562.8,520.6 L563.2,520.9 L563.6,521.2 L564.0,521.5 L564.4,521.8 L564.7,522.1 L565.1,522.5 L565.5,522.8 L565.9,523.1 L566.3,523.4 L566.7,523.7 L567.1,524.1 L567.5,524.4 L567.9,524.7 L568.3,525.0 L568.7,525.3 L569.0,525.7 L569.4,526.0 L569.8,526.3 L570.2,526.6 L570.6,527.0 L571.0,527.3 L571.4,527.6 L571.8,527.9 L572.2,528.3 L572.6,528.6 L572.9,528.9 L573.3,529.2 L573.7,529.6 L574.1,529.9 L574.5,530.2 L574.9,530.5 L575.3,530.9 L575.7,531.2 L576.0,531.5 L576.4,531.9 L576.8,532.2 L577.2,532.5 L577.6,532.8 L578.0,533.2 L578.4,533.5 L578.8,533.8 L579.1,534.2 L579.5,534.5 L579.9,534.8 L580.3,535.2 L580.7,535.5 L581.1,535.8 L581.5,536.2 L581.8,536.5 L582.2,536.8 L582.6,537.2 L583.0,537.5 L583.4,537.8 L583.8,538.2 L584.2,538.5 L584.5,538.8 L584.9,539.2 L585.3,539.5 L585.7,539.8 L586.1,540.2 L586.5,540.5 L586.8,540.8 L587.2,541.2 L587.6,541.5 L588.0,541.8 L588.4,542.2 L588.8,542.5 L589.2,542.8 L589.5,543.2 L589.9,543.5 L590.3,543.8 L590.7,544.2 L591.1,544.5 L591.5,544.8 L591.9,545.2 L592.2,545.5 L592.6,545.8 L593.0,546.1 L593.4,546.5 L593.8,546.8 L594.2,547.1 L594.6,547.5 L594.9,547.8 L595.3,548.1 L595.7,548.5 L596.1,548.8 L596.5,549.1 L596.9,549.5 L597.3,549.8 L597.6,550.1 L598.0,550.5 L598.4,550.8 L598.8,551.1 L599.2,551.5 L599.6,551.8 L600.0,552.1 L600.3,552.4 L600.7,552.8 L601.1,553.1 L601.5,553.4 L601.9,553.8 L602.3,554.1 L602.7,554.4 L603.1,554.7 L603.4,555.1 L603.8,555.4 L604.2,555.7 L604.6,556.1 L605.0,556.4 L605.4,556.7 L605.8,557.0 L606.2,557.4 L606.6,557.7 L606.9,558.0 L607.3,558.3 L607.7,558.6 L608.1,559.0 L608.5,559.3 L608.9,559.6 L609.3,559.9 L609.7,560.3 L610.1,560.6 L610.5,560.9 L610.9,561.2 L611.2,561.5 L611.6,561.9 L612.0,562.2 L612.4,562.5 L612.8,562.8 L613.2,563.1 L613.6,563.4 L614.0,563.8 L614.4,564.1 L614.8,564.4 L615.2,564.7 L615.6,565.0 L616.0,565.3 L616.3,565.7 L616.7,566.0 L617.1,566.3 L617.5,566.6 L617.9,566.9 L618.3,567.2 L618.7,567.5 L619.1,567.9 L619.5,568.2 L619.9,568.5 L620.3,568.8 L620.7,569.1 L621.1,569.4 L621.4,569.7 L621.8,570.0 L622.2,570.4 L622.6,570.7 L623.0,571.0 L623.4,571.3 L623.8,571.6 L624.2,571.9 L624.6,572.3 L624.9,572.6 L625.3,572.9 L625.7,573.2 L626.1,573.5 L626.5,573.8 L626.9,574.2 L627.3,574.5 L627.6,574.8 L628.0,575.1 L628.4,575.4 L628.8,575.7 L629.2,576.1 L629.5,576.4 L629.9,576.7 L630.3,577.0 L630.7,577.4 L631.1,577.7 L631.4,578.0 L631.8,578.3 L632.2,578.6 L632.6,579.0 L632.9,579.3 L633.3,579.6 L633.7,580.0 L634.0,580.3 L634.4,580.6 L634.8,580.9 L635.1,581.3 L635.5,581.6 L635.9,581.9 L636.2,582.3 L636.6,582.6 L637.0,582.9 L637.3,583.3 L637.7,583.6 L638.0,584.0 L638.4,584.3 L638.7,584.6 L639.1,585.0 L639.5,585.3 L639.8,585.7 L640.2,586.0 L640.5,586.4 L640.8,586.7 L641.2,587.1 L641.5,587.4 L641.9,587.8 L642.2,588.1 L642.6,588.5 L642.9,588.8 L643.2,589.2 L643.6,589.5 L643.9,589.9 L644.2,590.3 L644.6,590.6 L644.9,591.0 L645.2,591.3 L645.6,591.7 L645.9,592.1 L646.2,592.5 L646.5,592.8 L646.8,593.2 L647.2,593.6 L647.5,593.9 L647.8,594.3 L648.1,594.7 L648.4,595.1 L648.7,595.5 L649.0,595.9 L649.3,596.2 L649.6,596.6 L649.9,597.0 L650.2,597.4 L650.5,597.8 L650.8,598.2 L651.1,598.6 L651.4,599.0 L651.7,599.4 L652.0,599.8 L652.3,600.2 L652.6,600.6 L652.9,601.0 L653.1,601.4 L653.4,601.8 L653.7,602.2 L654.0,602.6 L654.3,603.1 L654.5,603.5 L654.8,603.9 L655.1,604.3 L655.4,604.7 L655.6,605.2 L655.9,605.6 L656.2,606.0 L656.4,606.4 L656.7,606.9 L657.0,607.3 L657.2,607.7 L657.5,608.1 L657.7,608.6 L658.0,609.0 L658.3,609.4 L658.5,609.9 L658.8,610.3 L659.0,610.8 L659.3,611.2 L659.5,611.6 L659.8,612.1 L660.0,612.5 L660.3,613.0 L660.5,613.4 L660.8,613.9 L661.0,614.3 L661.3,614.8 L661.5,615.2 L661.8,615.7 L662.0,616.1 L662.3,616.6 L662.5,617.1 L662.8,617.5 L663.0,618.0 L663.2,618.4 L663.5,618.9 L663.7,619.3 L664.0,619.8 L664.2,620.3 L664.5,620.7 L664.7,621.2 L665.0,621.6 L665.2,622.1 L665.5,622.5 L665.7,623.0 L666.0,623.4 L666.2,623.8 L666.5,624.3 L666.8,624.7 L667.0,625.1 L667.3,625.5 L667.6,625.9 L667.9,626.4 L668.2,626.8 L668.5,627.2 L668.7,627.5 L669.0,627.9 L669.4,628.3 L669.7,628.7 L670.0,629.0 L670.3,629.4 L670.6,629.8 L671.0,630.1 L671.3,630.4 L671.6,630.7 L672.0,631.1 L672.4,631.4 L672.7,631.7 L673.1,631.9 L673.5,632.2 L673.9,632.5 L674.3,632.7 L674.7,633.0 L675.1,633.2 L675.5,633.4 L675.9,633.7 L676.4,633.8 L676.8,634.0 L677.3,634.2 L677.7,634.4 L678.2,634.5 L678.7,634.7 L679.2,634.8 L679.6,634.9 L680.1,635.0 L680.6,635.1 L681.1,635.2 L681.6,635.3 L682.1,635.3 L682.7,635.4 L683.2,635.4 L683.7,635.4 L684.2,635.4 L684.7,635.4 L685.3,635.4 L685.8,635.4 L686.3,635.4 L686.9,635.3 L687.4,635.2 L687.9,635.2 L688.5,635.1 L689.0,635.0 L689.6,634.9 L690.1,634.7" fill="none" stroke="#0f5f30" stroke-width="2.3" stroke-linecap="butt" stroke-linejoin="round"/>
<path d="M472.8,410.9 L473.3,410.9 L473.8,411.0 L474.4,411.0 L474.9,411.0 L475.4,411.0 L475.9,411.0 L476.4,411.1 L476.9,411.1 L477.4,411.1 L478.0,411.2 L478.5,411.2 L479.0,411.2 L479.5,411.3 L480.0,411.3 L480.5,411.4 L481.0,411.5 L481.5,411.5 L482.0,411.6 L482.5,411.6 L483.0,411.7 L483.5,411.8 L484.0,411.9 L484.5,412.0 L485.0,412.0 L485.5,412.1 L486.0,412.2 L486.5,412.3 L486.9,412.4 L487.4,412.5 L487.9,412.6 L488.4,412.7 L488.9,412.8 L489.4,412.9 L489.9,413.0 L490.3,413.2 L490.8,413.3 L491.3,413.4 L491.8,413.5 L492.3,413.7 L492.7,413.8 L493.2,413.9 L493.7,414.1 L494.2,414.2 L494.6,414.4 L495.1,414.5 L495.6,414.7 L496.0,414.8 L496.5,415.0 L497.0,415.1 L497.4,415.3 L497.9,415.5 L498.4,415.6 L498.8,415.8 L499.3,416.0 L499.7,416.1 L500.2,416.3 L500.7,416.5 L501.1,416.7 L501.6,416.9 L502.0,417.1 L502.5,417.2 L502.9,417.4 L503.4,417.6 L503.8,417.8 L504.3,418.0 L504.7,418.2 L505.2,418.4 L505.6,418.6 L506.1,418.9 L506.5,419.1 L507.0,419.3 L507.4,419.5 L507.8,419.7 L508.3,419.9 L508.7,420.2 L509.1,420.4 L509.6,420.6 L510.0,420.8 L510.5,421.1 L510.9,421.3 L511.3,421.6 L511.8,421.8 L512.2,422.0 L512.6,422.3 L513.0,422.5 L513.5,422.8 L513.9,423.0 L514.3,423.3 L514.8,423.5 L515.2,423.8 L515.6,424.0 L516.0,424.3 L516.4,424.6 L516.9,424.8 L517.3,425.1 L517.7,425.4 L518.1,425.6 L518.5,425.9 L519.0,426.2 L519.4,426.5 L519.8,426.7 L520.2,427.0 L520.6,427.3 L521.0,427.6 L521.4,427.9 L521.8,428.2 L522.3,428.4 L522.7,428.7 L523.1,429.0 L523.5,429.3 L523.9,429.6 L524.3,429.9 L524.7,430.2 L525.1,430.5 L525.5,430.8 L525.9,431.1 L526.3,431.4 L526.7,431.7 L527.1,432.0 L527.5,432.3 L527.9,432.6 L528.3,433.0 L528.7,433.3 L529.1,433.6 L529.5,433.9 L529.9,434.2 L530.3,434.5 L530.6,434.9 L531.0,435.2 L531.4,435.5 L531.8,435.8 L532.2,436.1 L532.6,436.5 L533.0,436.8 L533.4,437.1 L533.7,437.5 L534.1,437.8 L534.5,438.1 L534.9,438.5 L535.3,438.8 L535.7,439.1 L536.0,439.5 L536.4,439.8 L536.8,440.1 L537.2,440.5 L537.5,440.8 L537.9,441.2 L538.3,441.5 L538.7,441.8 L539.0,442.2 L539.4,442.5 L539.8,442.9 L540.2,443.2 L540.5,443.6 L540.9,443.9 L541.3,444.3 L541.6,444.6 L542.0,445.0 L542.4,445.3 L542.7,445.7 L543.1,446.0 L543.5,446.4 L543.8,446.7 L544.2,447.1 L544.6,447.5 L544.9,447.8 L545.3,448.2 L545.7,448.5 L546.0,448.9 L546.4,449.2 L546.7,449.6 L547.1,450.0 L547.5,450.3 L547.8,450.7 L548.2,451.1 L548.5,451.4 L548.9,451.8 L549.2,452.1 L549.6,452.5 L549.9,452.9 L550.3,453.2 L550.6,453.6 L551.0,454.0 L551.3,454.3 L551.7,454.7 L552.0,455.1 L552.4,455.4 L552.7,455.8 L553.1,456.2 L553.4,456.5 L553.8,456.9 L554.1,457.3 L554.5,457.6 L554.8,458.0 L555.2,458.4 L555.5,458.8 L555.9,459.1 L556.2,459.5 L556.5,459.9 L556.9,460.2 L557.2,460.6 L557.6,461.0 L557.9,461.3 L558.2,461.7 L558.6,462.1 L558.9,462.5 L559.3,462.8 L559.6,463.2 L559.9,463.6 L560.3,464.0 L560.6,464.3 L560.9,464.7 L561.3,465.1 L561.6,465.5 L561.9,465.8 L562.3,466.2 L562.6,466.6 L562.9,467.0 L563.3,467.3 L563.6,467.7 L563.9,468.1 L564.3,468.5 L564.6,468.8 L564.9,469.2 L565.3,469.6 L565.6,470.0 L565.9,470.4 L566.3,470.7 L566.6,471.1 L566.9,471.5 L567.2,471.9 L567.6,472.3 L567.9,472.6 L568.2,473.0 L568.5,473.4 L568.9,473.8 L569.2,474.2 L569.5,474.5 L569.8,474.9 L570.2,475.3 L570.5,475.7 L570.8,476.1 L571.1,476.4 L571.5,476.8 L571.8,477.2 L572.1,477.6 L572.4,478.0 L572.8,478.4 L573.1,478.7 L573.4,479.1 L573.7,479.5 L574.0,479.9 L574.4,480.3 L574.7,480.7 L575.0,481.0 L575.3,481.4 L575.6,481.8 L576.0,482.2 L576.3,482.6 L576.6,483.0 L576.9,483.3 L577.2,483.7 L577.5,484.1 L577.9,484.5 L578.2,484.9 L578.5,485.3 L578.8,485.7 L579.1,486.0 L579.4,486.4 L579.8,486.8 L580.1,487.2 L580.4,487.6 L580.7,488.0 L581.0,488.4 L581.3,488.7 L581.7,489.1 L582.0,489.5 L582.3,489.9 L582.6,490.3 L582.9,490.7 L583.2,491.1 L583.5,491.5 L583.9,491.8 L584.2,492.2 L584.5,492.6 L584.8,493.0 L585.1,493.4 L585.4,493.8 L585.7,494.2 L586.1,494.6 L586.4,494.9 L586.7,495.3 L587.0,495.7 L587.3,496.1 L587.6,496.5 L587.9,496.9 L588.3,497.3 L588.6,497.7 L588.9,498.0 L589.2,498.4 L589.5,498.8 L589.8,499.2 L590.1,499.6 L590.4,500.0 L590.8,500.4 L591.1,500.8 L591.4,501.2 L591.7,501.5 L592.0,501.9 L592.3,502.3 L592.6,502.7 L593.0,503.1 L593.3,503.5 L593.6,503.9 L593.9,504.3 L594.2,504.7 L594.5,505.0 L594.8,505.4 L595.1,505.8 L595.5,506.2 L595.8,506.6 L596.1,507.0 L596.4,507.4 L596.7,507.8 L597.0,508.1 L597.3,508.5 L597.7,508.9 L598.0,509.3 L598.3,509.7 L598.6,510.1 L598.9,510.5 L599.2,510.9 L599.5,511.3 L599.9,511.6 L600.2,512.0 L600.5,512.4 L600.8,512.8 L601.1,513.2 L601.4,513.6 L601.7,514.0 L602.1,514.4 L602.4,514.7 L602.7,515.1 L603.0,515.5 L603.3,515.9 L603.6,516.3 L604.0,516.7 L604.3,517.1 L604.6,517.5 L604.9,517.8 L605.2,518.2 L605.5,518.6 L605.9,519.0 L606.2,519.4 L606.5,519.8 L606.8,520.2 L607.1,520.5 L607.5,520.9 L607.8,521.3 L608.1,521.7 L608.4,522.1 L608.7,522.5 L609.1,522.9 L609.4,523.2 L609.7,523.6 L610.0,524.0 L610.3,524.4 L610.7,524.8 L611.0,525.2 L611.3,525.5 L611.6,525.9 L612.0,526.3 L612.3,526.7 L612.6,527.1 L612.9,527.5 L613.3,527.9 L613.6,528.2 L613.9,528.6 L614.2,529.0 L614.6,529.4 L614.9,529.8 L615.2,530.1 L615.5,530.5 L615.9,530.9 L616.2,531.3 L616.5,531.7 L616.8,532.1 L617.2,532.4 L617.5,532.8 L617.8,533.2 L618.1,533.6 L618.5,534.0 L618.8,534.4 L619.1,534.7 L619.5,535.1 L619.8,535.5 L620.1,535.9 L620.4,536.3 L620.8,536.6 L621.1,537.0 L621.4,537.4 L621.8,537.8 L622.1,538.2 L622.4,538.5 L622.8,538.9 L623.1,539.3 L623.4,539.7 L623.7,540.1 L624.1,540.4 L624.4,540.8 L624.7,541.2 L625.1,541.6 L625.4,541.9 L625.7,542.3 L626.1,542.7 L626.4,543.1 L626.7,543.5 L627.1,543.8 L627.4,544.2 L627.7,544.6 L628.1,545.0 L628.4,545.4 L628.7,545.7 L629.1,546.1 L629.4,546.5 L629.7,546.9 L630.1,547.2 L630.4,547.6 L630.7,548.0 L631.1,548.4 L631.4,548.7 L631.7,549.1 L632.1,549.5 L632.4,549.9 L632.7,550.3 L633.1,550.6 L633.4,551.0 L633.7,551.4 L634.1,551.8 L634.4,552.1 L634.7,552.5 L635.1,552.9 L635.4,553.3 L635.7,553.6 L636.1,554.0 L636.4,554.4 L636.7,554.8 L637.1,555.1 L637.4,555.5 L637.7,555.9 L638.1,556.3 L638.4,556.6 L638.7,557.0 L639.1,557.4 L639.4,557.8 L639.7,558.1 L640.1,558.5 L640.4,558.9 L640.7,559.3 L641.1,559.6 L641.4,560.0 L641.7,560.4 L642.1,560.7 L642.4,561.1 L642.7,561.5 L643.1,561.9 L643.4,562.2 L643.7,562.6 L644.1,563.0 L644.4,563.4 L644.7,563.7 L645.1,564.1 L645.4,564.5 L645.7,564.9 L646.1,565.2 L646.4,565.6 L646.7,566.0 L647.1,566.3 L647.4,566.7 L647.7,567.1 L648.1,567.5 L648.4,567.8 L648.7,568.2 L649.1,568.6 L649.4,568.9 L649.7,569.3 L650.1,569.7 L650.4,570.1 L650.7,570.4 L651.1,570.8 L651.4,571.2 L651.7,571.5 L652.1,571.9 L652.4,572.3 L652.7,572.7 L653.1,573.0 L653.4,573.4 L653.7,573.8 L654.0,574.1 L654.4,574.5 L654.7,574.9 L655.0,575.2 L655.4,575.6 L655.7,576.0 L656.0,576.4 L656.4,576.7 L656.7,577.1 L657.0,577.5 L657.3,577.8 L657.7,578.2 L658.0,578.6 L658.3,579.0 L658.7,579.3 L659.0,579.7 L659.3,580.1 L659.6,580.5 L659.9,580.8 L660.3,581.2 L660.6,581.6 L660.9,582.0 L661.2,582.3 L661.6,582.7 L661.9,583.1 L662.2,583.5 L662.5,583.8 L662.8,584.2 L663.1,584.6 L663.5,585.0 L663.8,585.4 L664.1,585.8 L664.4,586.2 L664.7,586.5 L665.0,586.9 L665.3,587.3 L665.6,587.7 L665.9,588.1 L666.2,588.5 L666.6,588.9 L666.9,589.3 L667.2,589.7 L667.5,590.1 L667.8,590.5 L668.1,590.9 L668.3,591.3 L668.6,591.7 L668.9,592.1 L669.2,592.5 L669.5,592.9 L669.8,593.3 L670.1,593.7 L670.4,594.1 L670.7,594.6 L670.9,595.0 L671.2,595.4 L671.5,595.8 L671.8,596.2 L672.1,596.7 L672.3,597.1 L672.6,597.5 L672.9,598.0 L673.1,598.4 L673.4,598.8 L673.7,599.3 L673.9,599.7 L674.2,600.2 L674.5,600.6 L674.7,601.0 L675.0,601.5 L675.2,601.9 L675.5,602.4 L675.7,602.9 L676.0,603.3 L676.2,603.8 L676.5,604.2 L676.7,604.7 L677.0,605.2 L677.2,605.6 L677.4,606.1 L677.7,606.5 L677.9,607.0 L678.2,607.5 L678.4,607.9 L678.6,608.4 L678.9,608.9 L679.1,609.3 L679.4,609.8 L679.6,610.3 L679.8,610.7 L680.1,611.2 L680.3,611.7 L680.5,612.1 L680.8,612.6 L681.0,613.0 L681.3,613.5 L681.5,614.0 L681.7,614.4 L682.0,614.9 L682.2,615.3 L682.5,615.8 L682.7,616.2 L683.0,616.7 L683.2,617.1 L683.5,617.6 L683.7,618.0 L684.0,618.5 L684.2,618.9 L684.5,619.3 L684.7,619.7 L685.0,620.2 L685.3,620.6 L685.5,621.0 L685.8,621.4 L686.1,621.8 L686.3,622.3 L686.6,622.7 L686.9,623.1 L687.2,623.5 L687.5,623.9 L687.8,624.2 L688.0,624.6 L688.3,625.0 L688.6,625.4 L688.9,625.7 L689.2,626.1 L689.5,626.5 L689.9,626.8 L690.2,627.2 L690.5,627.5 L690.8,627.9 L691.1,628.2 L691.5,628.5 L691.8,628.8 L692.2,629.1 L692.5,629.4 L692.8,629.7 L693.2,630.0 L693.6,630.3 L693.9,630.6 L694.3,630.9 L694.7,631.1 L695.0,631.4 L695.4,631.7 L695.8,631.9 L696.2,632.1 L696.6,632.4 L697.0,632.6 L697.4,632.8 L697.8,633.0 L698.3,633.2 L698.7,633.4 L699.1,633.6 L699.6,633.7 L700.0,633.9 L700.5,634.1 L700.9,634.2 L701.4,634.3 L701.9,634.5 L702.4,634.6 L702.8,634.7 L703.3,634.8 L703.8,634.9 L704.3,635.0 L704.9,635.0 L705.4,635.1 L705.9,635.1 L706.5,635.2 L707.0,635.2 L707.6,635.2" fill="none" stroke="#0000ff" stroke-width="2.3" stroke-linecap="butt" stroke-linejoin="round"/>
<path d="M472.8,386.3 L473.3,386.4 L473.8,386.4 L474.4,386.4 L474.9,386.4 L475.4,386.5 L475.9,386.5 L476.4,386.5 L477.0,386.6 L477.5,386.6 L478.0,386.7 L478.5,386.7 L479.0,386.8 L479.5,386.8 L480.0,386.9 L480.5,386.9 L481.0,387.0 L481.5,387.1 L482.0,387.2 L482.5,387.2 L483.0,387.3 L483.5,387.4 L484.0,387.5 L484.5,387.6 L485.0,387.7 L485.5,387.8 L486.0,387.9 L486.5,388.0 L487.0,388.1 L487.5,388.2 L488.0,388.3 L488.5,388.4 L488.9,388.5 L489.4,388.7 L489.9,388.8 L490.4,388.9 L490.9,389.1 L491.3,389.2 L491.8,389.3 L492.3,389.5 L492.8,389.6 L493.2,389.8 L493.7,389.9 L494.2,390.1 L494.6,390.2 L495.1,390.4 L495.6,390.5 L496.0,390.7 L496.5,390.9 L496.9,391.1 L497.4,391.2 L497.9,391.4 L498.3,391.6 L498.8,391.8 L499.2,391.9 L499.7,392.1 L500.1,392.3 L500.6,392.5 L501.0,392.7 L501.5,392.9 L501.9,393.1 L502.4,393.3 L502.8,393.5 L503.3,393.7 L503.7,393.9 L504.1,394.2 L504.6,394.4 L505.0,394.6 L505.5,394.8 L505.9,395.0 L506.3,395.3 L506.8,395.5 L507.2,395.7 L507.6,395.9 L508.1,396.2 L508.5,396.4 L508.9,396.7 L509.3,396.9 L509.8,397.1 L510.2,397.4 L510.6,397.6 L511.0,397.9 L511.5,398.1 L511.9,398.4 L512.3,398.7 L512.7,398.9 L513.1,399.2 L513.5,399.4 L514.0,399.7 L514.4,400.0 L514.8,400.2 L515.2,400.5 L515.6,400.8 L516.0,401.1 L516.4,401.4 L516.8,401.6 L517.2,401.9 L517.6,402.2 L518.1,402.5 L518.5,402.8 L518.9,403.1 L519.3,403.4 L519.7,403.6 L520.1,403.9 L520.5,404.2 L520.9,404.5 L521.2,404.8 L521.6,405.1 L522.0,405.4 L522.4,405.8 L522.8,406.1 L523.2,406.4 L523.6,406.7 L524.0,407.0 L524.4,407.3 L524.8,407.6 L525.2,407.9 L525.5,408.3 L525.9,408.6 L526.3,408.9 L526.7,409.2 L527.1,409.6 L527.5,409.9 L527.8,410.2 L528.2,410.5 L528.6,410.9 L529.0,411.2 L529.3,411.5 L529.7,411.9 L530.1,412.2 L530.5,412.5 L530.8,412.9 L531.2,413.2 L531.6,413.6 L532.0,413.9 L532.3,414.3 L532.7,414.6 L533.1,414.9 L533.4,415.3 L533.8,415.6 L534.2,416.0 L534.5,416.3 L534.9,416.7 L535.2,417.0 L535.6,417.4 L536.0,417.8 L536.3,418.1 L536.7,418.5 L537.0,418.8 L537.4,419.2 L537.8,419.5 L538.1,419.9 L538.5,420.3 L538.8,420.6 L539.2,421.0 L539.5,421.4 L539.9,421.7 L540.2,422.1 L540.6,422.5 L540.9,422.8 L541.3,423.2 L541.6,423.6 L542.0,423.9 L542.3,424.3 L542.7,424.7 L543.0,425.1 L543.4,425.4 L543.7,425.8 L544.1,426.2 L544.4,426.6 L544.8,426.9 L545.1,427.3 L545.4,427.7 L545.8,428.1 L546.1,428.4 L546.5,428.8 L546.8,429.2 L547.1,429.6 L547.5,430.0 L547.8,430.3 L548.2,430.7 L548.5,431.1 L548.8,431.5 L549.2,431.9 L549.5,432.2 L549.8,432.6 L550.2,433.0 L550.5,433.4 L550.8,433.8 L551.2,434.2 L551.5,434.5 L551.8,434.9 L552.1,435.3 L552.5,435.7 L552.8,436.1 L553.1,436.5 L553.5,436.8 L553.8,437.2 L554.1,437.6 L554.4,438.0 L554.8,438.4 L555.1,438.8 L555.4,439.2 L555.7,439.5 L556.1,439.9 L556.4,440.3 L556.7,440.7 L557.0,441.1 L557.3,441.5 L557.7,441.9 L558.0,442.3 L558.3,442.7 L558.6,443.0 L558.9,443.4 L559.3,443.8 L559.6,444.2 L559.9,444.6 L560.2,445.0 L560.5,445.4 L560.8,445.8 L561.2,446.2 L561.5,446.6 L561.8,446.9 L562.1,447.3 L562.4,447.7 L562.7,448.1 L563.0,448.5 L563.4,448.9 L563.7,449.3 L564.0,449.7 L564.3,450.1 L564.6,450.5 L564.9,450.9 L565.2,451.3 L565.5,451.7 L565.8,452.0 L566.1,452.4 L566.5,452.8 L566.8,453.2 L567.1,453.6 L567.4,454.0 L567.7,454.4 L568.0,454.8 L568.3,455.2 L568.6,455.6 L568.9,456.0 L569.2,456.4 L569.5,456.8 L569.8,457.2 L570.1,457.6 L570.4,458.0 L570.7,458.4 L571.0,458.8 L571.3,459.2 L571.6,459.6 L572.0,460.0 L572.3,460.4 L572.6,460.8 L572.9,461.2 L573.2,461.6 L573.5,462.0 L573.8,462.3 L574.1,462.7 L574.4,463.1 L574.7,463.5 L575.0,463.9 L575.3,464.3 L575.6,464.7 L575.9,465.1 L576.2,465.5 L576.5,465.9 L576.8,466.3 L577.1,466.7 L577.4,467.1 L577.7,467.5 L578.0,467.9 L578.2,468.3 L578.5,468.7 L578.8,469.1 L579.1,469.5 L579.4,469.9 L579.7,470.3 L580.0,470.7 L580.3,471.1 L580.6,471.5 L580.9,471.9 L581.2,472.3 L581.5,472.7 L581.8,473.1 L582.1,473.5 L582.4,473.9 L582.7,474.3 L583.0,474.7 L583.3,475.1 L583.6,475.5 L583.9,475.9 L584.2,476.4 L584.5,476.8 L584.7,477.2 L585.0,477.6 L585.3,478.0 L585.6,478.4 L585.9,478.8 L586.2,479.2 L586.5,479.6 L586.8,480.0 L587.1,480.4 L587.4,480.8 L587.7,481.2 L588.0,481.6 L588.3,482.0 L588.6,482.4 L588.9,482.8 L589.1,483.2 L589.4,483.6 L589.7,484.0 L590.0,484.4 L590.3,484.8 L590.6,485.2 L590.9,485.6 L591.2,486.0 L591.5,486.4 L591.8,486.8 L592.1,487.2 L592.4,487.6 L592.7,488.0 L593.0,488.4 L593.2,488.8 L593.5,489.2 L593.8,489.6 L594.1,490.0 L594.4,490.4 L594.7,490.8 L595.0,491.2 L595.3,491.6 L595.6,492.0 L595.9,492.4 L596.2,492.8 L596.5,493.3 L596.8,493.7 L597.1,494.1 L597.3,494.5 L597.6,494.9 L597.9,495.3 L598.2,495.7 L598.5,496.1 L598.8,496.5 L599.1,496.9 L599.4,497.3 L599.7,497.7 L600.0,498.1 L600.3,498.5 L600.6,498.9 L600.9,499.3 L601.2,499.7 L601.5,500.1 L601.8,500.5 L602.1,500.9 L602.4,501.3 L602.6,501.7 L602.9,502.1 L603.2,502.5 L603.5,502.9 L603.8,503.3 L604.1,503.7 L604.4,504.1 L604.7,504.5 L605.0,504.9 L605.3,505.3 L605.6,505.7 L605.9,506.1 L606.2,506.5 L606.5,506.9 L606.8,507.3 L607.1,507.7 L607.4,508.1 L607.7,508.5 L608.0,508.9 L608.3,509.3 L608.6,509.7 L608.9,510.1 L609.2,510.5 L609.5,510.9 L609.8,511.3 L610.1,511.7 L610.4,512.1 L610.7,512.5 L611.0,512.9 L611.3,513.3 L611.6,513.7 L611.9,514.1 L612.2,514.5 L612.5,514.9 L612.8,515.3 L613.1,515.7 L613.4,516.1 L613.7,516.5 L614.0,516.9 L614.3,517.3 L614.6,517.7 L614.9,518.1 L615.2,518.5 L615.5,518.9 L615.9,519.3 L616.2,519.7 L616.5,520.1 L616.8,520.5 L617.1,520.9 L617.4,521.3 L617.7,521.7 L618.0,522.1 L618.3,522.5 L618.6,522.9 L618.9,523.3 L619.2,523.7 L619.6,524.1 L619.9,524.5 L620.2,524.9 L620.5,525.3 L620.8,525.7 L621.1,526.0 L621.4,526.4 L621.7,526.8 L622.1,527.2 L622.4,527.6 L622.7,528.0 L623.0,528.4 L623.3,528.8 L623.6,529.2 L623.9,529.6 L624.3,530.0 L624.6,530.4 L624.9,530.8 L625.2,531.2 L625.5,531.6 L625.8,532.0 L626.1,532.4 L626.5,532.7 L626.8,533.1 L627.1,533.5 L627.4,533.9 L627.7,534.3 L628.1,534.7 L628.4,535.1 L628.7,535.5 L629.0,535.9 L629.3,536.3 L629.6,536.7 L630.0,537.1 L630.3,537.5 L630.6,537.8 L630.9,538.2 L631.2,538.6 L631.6,539.0 L631.9,539.4 L632.2,539.8 L632.5,540.2 L632.8,540.6 L633.2,541.0 L633.5,541.4 L633.8,541.7 L634.1,542.1 L634.4,542.5 L634.8,542.9 L635.1,543.3 L635.4,543.7 L635.7,544.1 L636.0,544.5 L636.4,544.9 L636.7,545.3 L637.0,545.6 L637.3,546.0 L637.6,546.4 L638.0,546.8 L638.3,547.2 L638.6,547.6 L638.9,548.0 L639.3,548.4 L639.6,548.8 L639.9,549.1 L640.2,549.5 L640.5,549.9 L640.9,550.3 L641.2,550.7 L641.5,551.1 L641.8,551.5 L642.1,551.9 L642.5,552.2 L642.8,552.6 L643.1,553.0 L643.4,553.4 L643.8,553.8 L644.1,554.2 L644.4,554.6 L644.7,555.0 L645.0,555.3 L645.4,555.7 L645.7,556.1 L646.0,556.5 L646.3,556.9 L646.6,557.3 L647.0,557.7 L647.3,558.0 L647.6,558.4 L647.9,558.8 L648.2,559.2 L648.6,559.6 L648.9,560.0 L649.2,560.4 L649.5,560.8 L649.8,561.1 L650.2,561.5 L650.5,561.9 L650.8,562.3 L651.1,562.7 L651.4,563.1 L651.7,563.4 L652.1,563.8 L652.4,564.2 L652.7,564.6 L653.0,565.0 L653.3,565.4 L653.6,565.8 L654.0,566.1 L654.3,566.5 L654.6,566.9 L654.9,567.3 L655.2,567.7 L655.5,568.1 L655.9,568.5 L656.2,568.8 L656.5,569.2 L656.8,569.6 L657.1,570.0 L657.4,570.4 L657.7,570.8 L658.0,571.1 L658.4,571.5 L658.7,571.9 L659.0,572.3 L659.3,572.7 L659.6,573.1 L659.9,573.4 L660.2,573.8 L660.5,574.2 L660.8,574.6 L661.2,575.0 L661.5,575.4 L661.8,575.8 L662.1,576.1 L662.4,576.5 L662.7,576.9 L663.0,577.3 L663.3,577.7 L663.6,578.1 L663.9,578.4 L664.2,578.8 L664.5,579.2 L664.8,579.6 L665.1,580.0 L665.4,580.4 L665.7,580.8 L666.0,581.1 L666.3,581.5 L666.6,581.9 L666.9,582.3 L667.2,582.7 L667.5,583.1 L667.8,583.5 L668.1,583.9 L668.4,584.3 L668.7,584.7 L669.0,585.1 L669.3,585.5 L669.6,585.9 L669.9,586.3 L670.2,586.7 L670.5,587.1 L670.7,587.5 L671.0,587.9 L671.3,588.3 L671.6,588.7 L671.9,589.1 L672.2,589.5 L672.4,589.9 L672.7,590.3 L673.0,590.7 L673.3,591.1 L673.6,591.5 L673.8,592.0 L674.1,592.4 L674.4,592.8 L674.7,593.2 L674.9,593.6 L675.2,594.1 L675.5,594.5 L675.7,594.9 L676.0,595.3 L676.3,595.8 L676.5,596.2 L676.8,596.6 L677.0,597.1 L677.3,597.5 L677.5,598.0 L677.8,598.4 L678.1,598.8 L678.3,599.3 L678.6,599.7 L678.8,600.2 L679.1,600.6 L679.3,601.1 L679.5,601.5 L679.8,602.0 L680.0,602.5 L680.3,602.9 L680.5,603.4 L680.7,603.8 L681.0,604.3 L681.2,604.8 L681.5,605.2 L681.7,605.7 L681.9,606.2 L682.2,606.6 L682.4,607.1 L682.6,607.6 L682.9,608.0 L683.1,608.5 L683.3,609.0 L683.6,609.4 L683.8,609.9 L684.1,610.4 L684.3,610.8 L684.5,611.3 L684.8,611.8 L685.0,612.2 L685.2,612.7 L685.5,613.1 L685.7,613.6 L686.0,614.1 L686.2,614.5 L686.4,615.0 L686.7,615.4 L686.9,615.9 L687.2,616.3 L687.4,616.8 L687.7,617.2 L687.9,617.7 L688.2,618.1 L688.4,618.5 L688.7,619.0 L688.9,619.4 L689.2,619.8 L689.5,620.2 L689.7,620.7 L690.0,621.1 L690.3,621.5 L690.5,621.9 L690.8,622.3 L691.1,622.7 L691.4,623.1 L691.6,623.5 L691.9,623.9 L692.2,624.3 L692.5,624.7 L692.8,625.1 L693.1,625.4 L693.4,625.8 L693.7,626.2 L694.0,626.5 L694.3,626.9 L694.6,627.2 L694.9,627.6 L695.2,627.9 L695.6,628.3 L695.9,628.6 L696.2,628.9 L696.6,629.2 L696.9,629.5 L697.2,629.8 L697.6,630.1 L697.9,630.4 L698.3,630.7 L698.7,631.0 L699.0,631.3 L699.4,631.5 L699.8,631.8 L700.1,632.0 L700.5,632.3 L700.9,632.5 L701.3,632.7 L701.7,633.0 L702.1,633.2 L702.5,633.4 L702.9,633.6 L703.3,633.8 L703.8,634.0 L704.2,634.1 L704.6,634.3 L705.1,634.5 L705.5,634.6 L705.9,634.8 L706.4,634.9 L706.9,635.0 L707.3,635.1 L707.8,635.2 L708.3,635.3 L708.7,635.4 L709.2,635.5 L709.7,635.6 L710.2,635.6 L710.7,635.7 L711.2,635.7 L711.7,635.7 L712.3,635.7 L712.8,635.7 L713.3,635.7 L713.9,635.7 L714.4,635.7 L714.9,635.7 L715.5,635.6 L716.1,635.6 L716.6,635.5 L717.2,635.4 L717.8,635.3 L718.4,635.2 L719.0,635.1 L719.6,635.0 L720.2,634.8" fill="none" stroke="#8c5a2a" stroke-width="2.3" stroke-linecap="butt" stroke-linejoin="round"/>
<path d="M472.8,369.5 L473.3,369.5 L473.9,369.5 L474.4,369.5 L474.9,369.6 L475.4,369.6 L476.0,369.6 L476.5,369.7 L477.0,369.7 L477.5,369.7 L478.0,369.8 L478.5,369.8 L479.0,369.9 L479.5,369.9 L480.0,370.0 L480.6,370.1 L481.1,370.1 L481.6,370.2 L482.1,370.3 L482.6,370.4 L483.0,370.5 L483.5,370.5 L484.0,370.6 L484.5,370.7 L485.0,370.8 L485.5,370.9 L486.0,371.0 L486.5,371.1 L487.0,371.3 L487.4,371.4 L487.9,371.5 L488.4,371.6 L488.9,371.7 L489.3,371.9 L489.8,372.0 L490.3,372.1 L490.8,372.3 L491.2,372.4 L491.7,372.6 L492.2,372.7 L492.6,372.9 L493.1,373.0 L493.5,373.2 L494.0,373.3 L494.5,373.5 L494.9,373.7 L495.4,373.8 L495.8,374.0 L496.3,374.2 L496.7,374.4 L497.2,374.5 L497.6,374.7 L498.1,374.9 L498.5,375.1 L499.0,375.3 L499.4,375.5 L499.8,375.7 L500.3,375.9 L500.7,376.1 L501.2,376.3 L501.6,376.5 L502.0,376.7 L502.5,377.0 L502.9,377.2 L503.3,377.4 L503.7,377.6 L504.2,377.9 L504.6,378.1 L505.0,378.3 L505.4,378.6 L505.9,378.8 L506.3,379.0 L506.7,379.3 L507.1,379.5 L507.5,379.8 L507.9,380.0 L508.4,380.3 L508.8,380.5 L509.2,380.8 L509.6,381.1 L510.0,381.3 L510.4,381.6 L510.8,381.9 L511.2,382.1 L511.6,382.4 L512.0,382.7 L512.4,382.9 L512.8,383.2 L513.2,383.5 L513.6,383.8 L514.0,384.1 L514.4,384.4 L514.8,384.7 L515.2,385.0 L515.6,385.2 L516.0,385.5 L516.4,385.8 L516.8,386.1 L517.1,386.4 L517.5,386.8 L517.9,387.1 L518.3,387.4 L518.7,387.7 L519.1,388.0 L519.4,388.3 L519.8,388.6 L520.2,388.9 L520.6,389.3 L521.0,389.6 L521.3,389.9 L521.7,390.2 L522.1,390.6 L522.5,390.9 L522.8,391.2 L523.2,391.6 L523.6,391.9 L523.9,392.2 L524.3,392.6 L524.7,392.9 L525.0,393.2 L525.4,393.6 L525.8,393.9 L526.1,394.3 L526.5,394.6 L526.8,395.0 L527.2,395.3 L527.6,395.7 L527.9,396.0 L528.3,396.4 L528.6,396.7 L529.0,397.1 L529.3,397.5 L529.7,397.8 L530.0,398.2 L530.4,398.5 L530.7,398.9 L531.1,399.3 L531.4,399.6 L531.8,400.0 L532.1,400.4 L532.5,400.7 L532.8,401.1 L533.2,401.5 L533.5,401.9 L533.9,402.2 L534.2,402.6 L534.5,403.0 L534.9,403.4 L535.2,403.7 L535.6,404.1 L535.9,404.5 L536.2,404.9 L536.6,405.3 L536.9,405.6 L537.3,406.0 L537.6,406.4 L537.9,406.8 L538.3,407.2 L538.6,407.6 L538.9,408.0 L539.3,408.4 L539.6,408.7 L539.9,409.1 L540.2,409.5 L540.6,409.9 L540.9,410.3 L541.2,410.7 L541.6,411.1 L541.9,411.5 L542.2,411.9 L542.5,412.3 L542.9,412.7 L543.2,413.1 L543.5,413.5 L543.8,413.9 L544.2,414.3 L544.5,414.7 L544.8,415.1 L545.1,415.5 L545.4,415.9 L545.8,416.3 L546.1,416.7 L546.4,417.1 L546.7,417.5 L547.0,417.9 L547.3,418.3 L547.7,418.7 L548.0,419.1 L548.3,419.5 L548.6,419.9 L548.9,420.3 L549.2,420.7 L549.6,421.1 L549.9,421.5 L550.2,421.9 L550.5,422.3 L550.8,422.7 L551.1,423.1 L551.4,423.5 L551.7,423.9 L552.0,424.3 L552.4,424.8 L552.7,425.2 L553.0,425.6 L553.3,426.0 L553.6,426.4 L553.9,426.8 L554.2,427.2 L554.5,427.6 L554.8,428.0 L555.1,428.4 L555.4,428.8 L555.7,429.2 L556.0,429.6 L556.4,430.0 L556.7,430.4 L557.0,430.8 L557.3,431.2 L557.6,431.6 L557.9,432.0 L558.2,432.4 L558.5,432.8 L558.8,433.2 L559.1,433.6 L559.4,434.1 L559.7,434.5 L560.0,434.9 L560.3,435.3 L560.6,435.7 L560.9,436.1 L561.2,436.5 L561.5,436.9 L561.8,437.3 L562.1,437.7 L562.4,438.1 L562.7,438.5 L563.0,438.9 L563.3,439.3 L563.6,439.7 L563.9,440.1 L564.2,440.5 L564.5,440.9 L564.8,441.3 L565.1,441.7 L565.3,442.1 L565.6,442.5 L565.9,443.0 L566.2,443.4 L566.5,443.8 L566.8,444.2 L567.1,444.6 L567.4,445.0 L567.7,445.4 L568.0,445.8 L568.3,446.2 L568.6,446.6 L568.9,447.0 L569.2,447.4 L569.5,447.8 L569.7,448.2 L570.0,448.6 L570.3,449.0 L570.6,449.4 L570.9,449.8 L571.2,450.2 L571.5,450.7 L571.8,451.1 L572.1,451.5 L572.4,451.9 L572.6,452.3 L572.9,452.7 L573.2,453.1 L573.5,453.5 L573.8,453.9 L574.1,454.3 L574.4,454.7 L574.7,455.1 L574.9,455.5 L575.2,455.9 L575.5,456.3 L575.8,456.7 L576.1,457.1 L576.4,457.5 L576.7,458.0 L577.0,458.4 L577.2,458.8 L577.5,459.2 L577.8,459.6 L578.1,460.0 L578.4,460.4 L578.7,460.8 L578.9,461.2 L579.2,461.6 L579.5,462.0 L579.8,462.4 L580.1,462.8 L580.4,463.2 L580.7,463.6 L580.9,464.0 L581.2,464.5 L581.5,464.9 L581.8,465.3 L582.1,465.7 L582.4,466.1 L582.6,466.5 L582.9,466.9 L583.2,467.3 L583.5,467.7 L583.8,468.1 L584.0,468.5 L584.3,468.9 L584.6,469.3 L584.9,469.7 L585.2,470.1 L585.5,470.6 L585.7,471.0 L586.0,471.4 L586.3,471.8 L586.6,472.2 L586.9,472.6 L587.1,473.0 L587.4,473.4 L587.7,473.8 L588.0,474.2 L588.3,474.6 L588.5,475.0 L588.8,475.4 L589.1,475.9 L589.4,476.3 L589.7,476.7 L589.9,477.1 L590.2,477.5 L590.5,477.9 L590.8,478.3 L591.1,478.7 L591.3,479.1 L591.6,479.5 L591.9,479.9 L592.2,480.3 L592.5,480.8 L592.7,481.2 L593.0,481.6 L593.3,482.0 L593.6,482.4 L593.8,482.8 L594.1,483.2 L594.4,483.6 L594.7,484.0 L595.0,484.4 L595.2,484.8 L595.5,485.2 L595.8,485.7 L596.1,486.1 L596.4,486.5 L596.6,486.9 L596.9,487.3 L597.2,487.7 L597.5,488.1 L597.8,488.5 L598.0,488.9 L598.3,489.3 L598.6,489.8 L598.9,490.2 L599.1,490.6 L599.4,491.0 L599.7,491.4 L600.0,491.8 L600.3,492.2 L600.5,492.6 L600.8,493.0 L601.1,493.4 L601.4,493.9 L601.7,494.3 L601.9,494.7 L602.2,495.1 L602.5,495.5 L602.8,495.9 L603.0,496.3 L603.3,496.7 L603.6,497.1 L603.9,497.5 L604.2,498.0 L604.4,498.4 L604.7,498.8 L605.0,499.2 L605.3,499.6 L605.6,500.0 L605.8,500.4 L606.1,500.8 L606.4,501.2 L606.7,501.7 L607.0,502.1 L607.2,502.5 L607.5,502.9 L607.8,503.3 L608.1,503.7 L608.4,504.1 L608.6,504.5 L608.9,505.0 L609.2,505.4 L609.5,505.8 L609.8,506.2 L610.0,506.6 L610.3,507.0 L610.6,507.4 L610.9,507.8 L611.2,508.3 L611.5,508.7 L611.7,509.1 L612.0,509.5 L612.3,509.9 L612.6,510.3 L612.9,510.7 L613.1,511.1 L613.4,511.6 L613.7,512.0 L614.0,512.4 L614.3,512.8 L614.6,513.2 L614.8,513.6 L615.1,514.0 L615.4,514.5 L615.7,514.9 L616.0,515.3 L616.3,515.7 L616.5,516.1 L616.8,516.5 L617.1,516.9 L617.4,517.4 L617.7,517.8 L618.0,518.2 L618.3,518.6 L618.5,519.0 L618.8,519.4 L619.1,519.8 L619.4,520.3 L619.7,520.7 L620.0,521.1 L620.3,521.5 L620.5,521.9 L620.8,522.3 L621.1,522.8 L621.4,523.2 L621.7,523.6 L622.0,524.0 L622.3,524.4 L622.6,524.8 L622.8,525.2 L623.1,525.7 L623.4,526.1 L623.7,526.5 L624.0,526.9 L624.3,527.3 L624.6,527.7 L624.9,528.2 L625.2,528.6 L625.4,529.0 L625.7,529.4 L626.0,529.8 L626.3,530.2 L626.6,530.6 L626.9,531.1 L627.2,531.5 L627.5,531.9 L627.8,532.3 L628.1,532.7 L628.4,533.1 L628.6,533.6 L628.9,534.0 L629.2,534.4 L629.5,534.8 L629.8,535.2 L630.1,535.6 L630.4,536.0 L630.7,536.4 L631.0,536.9 L631.3,537.3 L631.6,537.7 L631.9,538.1 L632.2,538.5 L632.5,538.9 L632.8,539.3 L633.1,539.8 L633.4,540.2 L633.7,540.6 L634.0,541.0 L634.3,541.4 L634.5,541.8 L634.8,542.2 L635.1,542.6 L635.4,543.0 L635.7,543.5 L636.0,543.9 L636.3,544.3 L636.6,544.7 L636.9,545.1 L637.2,545.5 L637.5,545.9 L637.8,546.3 L638.1,546.7 L638.4,547.1 L638.7,547.5 L639.0,548.0 L639.3,548.4 L639.6,548.8 L639.9,549.2 L640.2,549.6 L640.5,550.0 L640.8,550.4 L641.2,550.8 L641.5,551.2 L641.8,551.6 L642.1,552.0 L642.4,552.4 L642.7,552.8 L643.0,553.2 L643.3,553.6 L643.6,554.0 L643.9,554.4 L644.2,554.8 L644.5,555.2 L644.8,555.6 L645.1,556.0 L645.4,556.4 L645.7,556.8 L646.0,557.2 L646.3,557.6 L646.7,558.0 L647.0,558.4 L647.3,558.8 L647.6,559.2 L647.9,559.6 L648.2,560.0 L648.5,560.4 L648.8,560.8 L649.1,561.2 L649.4,561.6 L649.8,562.0 L650.1,562.4 L650.4,562.8 L650.7,563.1 L651.0,563.5 L651.3,563.9 L651.6,564.3 L651.9,564.7 L652.3,565.1 L652.6,565.5 L652.9,565.9 L653.2,566.3 L653.5,566.6 L653.8,567.0 L654.1,567.4 L654.5,567.8 L654.8,568.2 L655.1,568.6 L655.4,569.0 L655.7,569.3 L656.0,569.7 L656.4,570.1 L656.7,570.5 L657.0,570.9 L657.3,571.2 L657.6,571.6 L658.0,572.0 L658.3,572.4 L658.6,572.7 L658.9,573.1 L659.2,573.5 L659.6,573.9 L659.9,574.2 L660.2,574.6 L660.5,575.0 L660.8,575.4 L661.2,575.7 L661.5,576.1 L661.8,576.5 L662.1,576.8 L662.5,577.2 L662.8,577.6 L663.1,578.0 L663.4,578.3 L663.8,578.7 L664.1,579.1 L664.4,579.4 L664.7,579.8 L665.0,580.2 L665.4,580.5 L665.7,580.9 L666.0,581.3 L666.3,581.6 L666.6,582.0 L667.0,582.4 L667.3,582.8 L667.6,583.1 L667.9,583.5 L668.2,583.9 L668.5,584.3 L668.9,584.6 L669.2,585.0 L669.5,585.4 L669.8,585.8 L670.1,586.1 L670.4,586.5 L670.7,586.9 L671.0,587.3 L671.3,587.7 L671.6,588.1 L671.9,588.4 L672.2,588.8 L672.5,589.2 L672.8,589.6 L673.1,590.0 L673.4,590.4 L673.7,590.8 L674.0,591.2 L674.3,591.6 L674.6,592.0 L674.9,592.4 L675.1,592.8 L675.4,593.3 L675.7,593.7 L676.0,594.1 L676.3,594.5 L676.5,594.9 L676.8,595.4 L677.1,595.8 L677.3,596.2 L677.6,596.6 L677.8,597.1 L678.1,597.5 L678.4,598.0 L678.6,598.4 L678.9,598.8 L679.1,599.3 L679.4,599.8 L679.6,600.2 L679.8,600.7 L680.1,601.1 L680.3,601.6 L680.5,602.1 L680.8,602.5 L681.0,603.0 L681.2,603.5 L681.5,603.9 L681.7,604.4 L681.9,604.9 L682.1,605.4 L682.3,605.9 L682.6,606.3 L682.8,606.8 L683.0,607.3 L683.2,607.8 L683.4,608.3 L683.7,608.7 L683.9,609.2 L684.1,609.7 L684.3,610.2 L684.5,610.7 L684.7,611.1 L684.9,611.6 L685.2,612.1 L685.4,612.6 L685.6,613.1 L685.8,613.5 L686.0,614.0 L686.3,614.5 L686.5,615.0 L686.7,615.4 L686.9,615.9 L687.2,616.4 L687.4,616.8 L687.6,617.3 L687.8,617.7 L688.1,618.2 L688.3,618.6 L688.6,619.1 L688.8,619.5 L689.0,620.0 L689.3,620.4 L689.5,620.9 L689.8,621.3 L690.0,621.7 L690.3,622.1 L690.5,622.6 L690.8,623.0 L691.1,623.4 L691.3,623.8 L691.6,624.2 L691.9,624.6 L692.2,625.0 L692.4,625.4 L692.7,625.8 L693.0,626.1 L693.3,626.5 L693.6,626.9 L693.9,627.2 L694.2,627.6 L694.5,627.9 L694.9,628.3 L695.2,628.6 L695.5,628.9 L695.8,629.2 L696.2,629.6 L696.5,629.9 L696.9,630.2 L697.2,630.4 L697.6,630.7 L697.9,631.0 L698.3,631.3 L698.7,631.5 L699.1,631.8 L699.5,632.0 L699.9,632.3 L700.3,632.5 L700.7,632.7 L701.1,632.9 L701.5,633.1 L701.9,633.3 L702.4,633.5 L702.8,633.7 L703.3,633.8 L703.7,634.0 L704.2,634.1 L704.7,634.2 L705.1,634.4 L705.6,634.5 L706.1,634.6 L706.6,634.7 L707.1,634.8 L707.7,634.8 L708.2,634.9 L708.7,634.9 L709.3,635.0 L709.8,635.0 L710.4,635.0 L711.0,635.0 L711.6,635.0 L712.2,635.0" fill="none" stroke="#ff0000" stroke-width="2.3" stroke-linecap="butt" stroke-linejoin="round"/>
<path d="M74.4,1003.8 L74.9,1003.8 L75.4,1003.8 L75.9,1003.8 L76.4,1003.8 L76.9,1003.8 L77.4,1003.8 L77.9,1003.8 L78.4,1003.8 L78.9,1003.8 L79.4,1003.8 L79.9,1003.8 L80.4,1003.8 L80.9,1003.8 L81.4,1003.8 L81.9,1003.8 L82.4,1003.8 L82.9,1003.8 L83.4,1003.8 L83.9,1003.8 L84.4,1003.8 L84.9,1003.8 L85.4,1003.8 L85.9,1003.8 L86.4,1003.8 L86.9,1003.8 L87.4,1003.8 L87.9,1003.7 L88.5,1003.7 L89.0,1003.7 L89.5,1003.7 L90.0,1003.7 L90.5,1003.7 L91.0,1003.7 L91.5,1003.7 L92.0,1003.6 L92.5,1003.6 L93.0,1003.6 L93.5,1003.6 L94.0,1003.6 L94.5,1003.5 L95.0,1003.5 L95.5,1003.5 L96.0,1003.5 L96.5,1003.4 L97.0,1003.4 L97.5,1003.4 L98.0,1003.4 L98.5,1003.3 L99.0,1003.3 L99.5,1003.3 L99.9,1003.2 L100.4,1003.2 L100.9,1003.2 L101.4,1003.1 L101.9,1003.1 L102.4,1003.1 L102.9,1003.0 L103.4,1003.0 L103.9,1003.0 L104.4,1002.9 L104.9,1002.9 L105.4,1002.8 L105.9,1002.8 L106.4,1002.7 L106.9,1002.7 L107.4,1002.6 L107.9,1002.6 L108.4,1002.5 L108.9,1002.5 L109.4,1002.4 L109.9,1002.4 L110.4,1002.3 L110.9,1002.3 L111.4,1002.2 L111.9,1002.2 L112.4,1002.1 L112.9,1002.1 L113.4,1002.0 L113.8,1001.9 L114.3,1001.9 L114.8,1001.8 L115.3,1001.7 L115.8,1001.7 L116.3,1001.6 L116.8,1001.5 L117.3,1001.5 L117.8,1001.4 L118.3,1001.3 L118.8,1001.2 L119.3,1001.2 L119.8,1001.1 L120.2,1001.0 L120.7,1000.9 L121.2,1000.8 L121.7,1000.8 L122.2,1000.7 L122.7,1000.6 L123.2,1000.5 L123.7,1000.4 L124.2,1000.3 L124.7,1000.2 L125.1,1000.1 L125.6,1000.1 L126.1,1000.0 L126.6,999.9 L127.1,999.8 L127.6,999.7 L128.1,999.6 L128.6,999.5 L129.0,999.4 L129.5,999.3 L130.0,999.1 L130.5,999.0 L131.0,998.9 L131.5,998.8 L132.0,998.7 L132.4,998.6 L132.9,998.5 L133.4,998.4 L133.9,998.2 L134.4,998.1 L134.9,998.0 L135.3,997.9 L135.8,997.8 L136.3,997.6 L136.8,997.5 L137.3,997.4 L137.8,997.2 L138.2,997.1 L138.7,997.0 L139.2,996.8 L139.7,996.7 L140.2,996.6 L140.6,996.4 L141.1,996.3 L141.6,996.1 L142.1,996.0 L142.6,995.8 L143.0,995.7 L143.5,995.5 L144.0,995.4 L144.5,995.2 L144.9,995.1 L145.4,994.9 L145.9,994.8 L146.4,994.6 L146.8,994.5 L147.3,994.3 L147.8,994.1 L148.3,994.0 L148.7,993.8 L149.2,993.6 L149.7,993.5 L150.2,993.3 L150.6,993.1 L151.1,992.9 L151.6,992.8 L152.0,992.6 L152.5,992.4 L153.0,992.2 L153.4,992.1 L153.9,991.9 L154.4,991.7 L154.9,991.5 L155.3,991.3 L155.8,991.1 L156.3,990.9 L156.7,990.8 L157.2,990.6 L157.7,990.4 L158.1,990.2 L158.6,990.0 L159.0,989.8 L159.5,989.6 L160.0,989.4 L160.4,989.2 L160.9,989.0 L161.4,988.8 L161.8,988.6 L162.3,988.4 L162.7,988.2 L163.2,988.0 L163.7,987.7 L164.1,987.5 L164.6,987.3 L165.0,987.1 L165.5,986.9 L165.9,986.7 L166.4,986.5 L166.9,986.2 L167.3,986.0 L167.8,985.8 L168.2,985.6 L168.7,985.3 L169.1,985.1 L169.6,984.9 L170.0,984.7 L170.5,984.4 L170.9,984.2 L171.4,984.0 L171.8,983.7 L172.3,983.5 L172.7,983.3 L173.2,983.0 L173.6,982.8 L174.1,982.6 L174.5,982.3 L174.9,982.1 L175.4,981.8 L175.8,981.6 L176.3,981.3 L176.7,981.1 L177.2,980.9 L177.6,980.6 L178.0,980.4 L178.5,980.1 L178.9,979.8 L179.4,979.6 L179.8,979.3 L180.2,979.1 L180.7,978.8 L181.1,978.6 L181.5,978.3 L182.0,978.1 L182.4,977.8 L182.8,977.5 L183.3,977.3 L183.7,977.0 L184.1,976.7 L184.6,976.5 L185.0,976.2 L185.4,975.9 L185.9,975.7 L186.3,975.4 L186.7,975.1 L187.1,974.8 L187.6,974.6 L188.0,974.3 L188.4,974.0 L188.8,973.7 L189.3,973.5 L189.7,973.2 L190.1,972.9 L190.5,972.6 L190.9,972.3 L191.4,972.1 L191.8,971.8 L192.2,971.5 L192.6,971.2 L193.0,970.9 L193.5,970.6 L193.9,970.3 L194.3,970.0 L194.7,969.8 L195.1,969.5 L195.5,969.2 L195.9,968.9 L196.3,968.6 L196.7,968.3 L197.2,968.0 L197.6,967.7 L198.0,967.4 L198.4,967.1 L198.8,966.8 L199.2,966.5 L199.6,966.2 L200.0,965.9 L200.4,965.6 L200.8,965.3 L201.2,965.0 L201.6,964.7 L202.0,964.4 L202.4,964.0 L202.8,963.7 L203.2,963.4 L203.6,963.1 L204.0,962.8 L204.4,962.5 L204.8,962.2 L205.1,961.9 L205.5,961.5 L205.9,961.2 L206.3,960.9 L206.7,960.6 L207.1,960.3 L207.5,959.9 L207.9,959.6 L208.2,959.3 L208.6,959.0 L209.0,958.7 L209.4,958.3 L209.8,958.0 L210.2,957.7 L210.5,957.4 L210.9,957.0 L211.3,956.7 L211.7,956.4 L212.0,956.0 L212.4,955.7 L212.8,955.4 L213.2,955.1 L213.5,954.7 L213.9,954.4 L214.3,954.1 L214.7,953.7 L215.0,953.4 L215.4,953.1 L215.8,952.7 L216.1,952.4 L216.5,952.0 L216.9,951.7 L217.2,951.4 L217.6,951.0 L218.0,950.7 L218.3,950.3 L218.7,950.0 L219.1,949.7 L219.4,949.3 L219.8,949.0 L220.2,948.6 L220.5,948.3 L220.9,947.9 L221.2,947.6 L221.6,947.2 L222.0,946.9 L222.3,946.6 L222.7,946.2 L223.0,945.9 L223.4,945.5 L223.7,945.2 L224.1,944.8 L224.4,944.5 L224.8,944.1 L225.1,943.8 L225.5,943.4 L225.9,943.0 L226.2,942.7 L226.6,942.3 L226.9,942.0 L227.3,941.6 L227.6,941.3 L228.0,940.9 L228.3,940.6 L228.7,940.2 L229.0,939.9 L229.3,939.5 L229.7,939.1 L230.0,938.8 L230.4,938.4 L230.7,938.1 L231.1,937.7 L231.4,937.3 L231.8,937.0 L232.1,936.6 L232.5,936.3 L232.8,935.9 L233.1,935.5 L233.5,935.2 L233.8,934.8 L234.2,934.5 L234.5,934.1 L234.8,933.7 L235.2,933.4 L235.5,933.0 L235.9,932.6 L236.2,932.3 L236.5,931.9 L236.9,931.5 L237.2,931.2 L237.6,930.8 L237.9,930.5 L238.2,930.1 L238.6,929.7 L238.9,929.4 L239.3,929.0 L239.6,928.6 L239.9,928.3 L240.3,927.9 L240.6,927.5 L240.9,927.1 L241.3,926.8 L241.6,926.4 L241.9,926.0 L242.3,925.7 L242.6,925.3 L242.9,924.9 L243.3,924.6 L243.6,924.2 L244.0,923.8 L244.3,923.5 L244.6,923.1 L245.0,922.7 L245.3,922.4 L245.6,922.0 L246.0,921.6 L246.3,921.2 L246.6,920.9 L247.0,920.5 L247.3,920.1 L247.6,919.8 L248.0,919.4 L248.3,919.0 L248.6,918.7 L248.9,918.3 L249.3,917.9 L249.6,917.5 L249.9,917.2 L250.3,916.8 L250.6,916.4 L250.9,916.1 L251.3,915.7 L251.6,915.3 L251.9,914.9 L252.3,914.6 L252.6,914.2 L252.9,913.8 L253.3,913.5 L253.6,913.1 L253.9,912.7 L254.3,912.4 L254.6,912.0 L254.9,911.6 L255.3,911.2 L255.6,910.9 L255.9,910.5 L256.3,910.1 L256.6,909.8 L256.9,909.4 L257.3,909.0 L257.6,908.7 L257.9,908.3 L258.3,907.9 L258.6,907.5 L258.9,907.2 L259.3,906.8 L259.6,906.4 L259.9,906.1 L260.3,905.7 L260.6,905.3 L260.9,905.0 L261.3,904.6 L261.6,904.2 L261.9,903.9 L262.3,903.5 L262.6,903.1 L262.9,902.8 L263.3,902.4 L263.6,902.0 L264.0,901.7 L264.3,901.3 L264.6,900.9 L265.0,900.6 L265.3,900.2 L265.6,899.8 L266.0,899.5 L266.3,899.1 L266.7,898.8 L267.0,898.4 L267.3,898.0 L267.7,897.7 L268.0,897.3 L268.4,897.0 L268.7,896.6 L269.1,896.2 L269.4,895.9 L269.7,895.5 L270.1,895.2 L270.4,894.8 L270.8,894.4 L271.1,894.1 L271.5,893.7 L271.8,893.4 L272.2,893.0 L272.5,892.7 L272.9,892.3 L273.2,891.9 L273.6,891.6 L273.9,891.2 L274.3,890.9 L274.6,890.5 L275.0,890.2 L275.3,889.8 L275.7,889.5 L276.0,889.1 L276.4,888.8 L276.7,888.4 L277.1,888.1 L277.5,887.7 L277.8,887.4 L278.2,887.1 L278.5,886.7 L278.9,886.4 L279.3,886.0 L279.6,885.7 L280.0,885.3 L280.3,885.0 L280.7,884.7 L281.1,884.3 L281.4,884.0 L281.8,883.6 L282.2,883.3 L282.5,883.0 L282.9,882.6 L283.3,882.3 L283.7,882.0 L284.0,881.6 L284.4,881.3 L284.8,881.0 L285.1,880.6 L285.5,880.3 L285.9,880.0 L286.3,879.6 L286.6,879.3 L287.0,879.0 L287.4,878.6 L287.8,878.3 L288.1,878.0 L288.5,877.6 L288.9,877.3 L289.2,877.0 L289.6,876.6 L290.0,876.3 L290.4,876.0 L290.7,875.6 L291.1,875.3 L291.5,874.9 L291.8,874.6 L292.2,874.3 L292.5,873.9 L292.9,873.6 L293.3,873.2 L293.6,872.9 L294.0,872.5 L294.3,872.2 L294.7,871.8 L295.1,871.5 L295.4,871.1 L295.8,870.8 L296.1,870.4 L296.5,870.0 L296.8,869.7 L297.1,869.3 L297.5,868.9 L297.8,868.6 L298.2,868.2 L298.5,867.8 L298.8,867.4 L299.1,867.1 L299.5,866.7 L299.8,866.3" fill="none" stroke="#0f5f30" stroke-width="2.0" stroke-linecap="butt" stroke-linejoin="round"/>
<path d="M74.4,1003.8 L74.9,1003.8 L75.4,1003.8 L75.9,1003.8 L76.4,1003.8 L76.9,1003.8 L77.4,1003.8 L77.9,1003.8 L78.4,1003.8 L78.9,1003.8 L79.4,1003.8 L79.9,1003.8 L80.4,1003.8 L80.9,1003.8 L81.4,1003.8 L81.9,1003.8 L82.4,1003.8 L82.9,1003.8 L83.4,1003.8 L83.9,1003.8 L84.4,1003.8 L84.9,1003.8 L85.4,1003.8 L85.9,1003.8 L86.4,1003.8 L86.9,1003.8 L87.4,1003.8 L87.9,1003.7 L88.4,1003.7 L88.9,1003.7 L89.4,1003.7 L89.9,1003.7 L90.4,1003.7 L90.9,1003.7 L91.5,1003.6 L92.0,1003.6 L92.5,1003.6 L93.0,1003.6 L93.5,1003.6 L94.0,1003.6 L94.5,1003.5 L95.0,1003.5 L95.5,1003.5 L96.0,1003.5 L96.5,1003.4 L97.0,1003.4 L97.5,1003.4 L98.0,1003.4 L98.5,1003.3 L99.0,1003.3 L99.5,1003.3 L100.0,1003.2 L100.5,1003.2 L101.0,1003.2 L101.5,1003.1 L102.0,1003.1 L102.5,1003.1 L103.0,1003.0 L103.5,1003.0 L104.0,1002.9 L104.5,1002.9 L105.0,1002.9 L105.5,1002.8 L106.0,1002.8 L106.5,1002.7 L107.0,1002.7 L107.5,1002.6 L108.0,1002.6 L108.5,1002.5 L109.0,1002.5 L109.5,1002.4 L110.0,1002.4 L110.5,1002.3 L111.0,1002.3 L111.5,1002.2 L112.0,1002.1 L112.5,1002.1 L113.0,1002.0 L113.5,1001.9 L114.0,1001.9 L114.5,1001.8 L115.0,1001.7 L115.5,1001.7 L116.0,1001.6 L116.5,1001.5 L117.0,1001.5 L117.5,1001.4 L118.0,1001.3 L118.5,1001.2 L119.0,1001.2 L119.5,1001.1 L119.9,1001.0 L120.4,1000.9 L120.9,1000.8 L121.4,1000.7 L121.9,1000.7 L122.4,1000.6 L122.9,1000.5 L123.4,1000.4 L123.9,1000.3 L124.4,1000.2 L124.9,1000.1 L125.4,1000.0 L125.8,999.9 L126.3,999.8 L126.8,999.7 L127.3,999.6 L127.8,999.5 L128.3,999.4 L128.8,999.3 L129.3,999.2 L129.7,999.0 L130.2,998.9 L130.7,998.8 L131.2,998.7 L131.7,998.6 L132.2,998.5 L132.6,998.3 L133.1,998.2 L133.6,998.1 L134.1,998.0 L134.6,997.8 L135.0,997.7 L135.5,997.6 L136.0,997.4 L136.5,997.3 L137.0,997.1 L137.4,997.0 L137.9,996.9 L138.4,996.7 L138.9,996.6 L139.3,996.4 L139.8,996.3 L140.3,996.1 L140.8,996.0 L141.2,995.8 L141.7,995.7 L142.2,995.5 L142.7,995.3 L143.1,995.2 L143.6,995.0 L144.1,994.9 L144.5,994.7 L145.0,994.5 L145.5,994.3 L145.9,994.2 L146.4,994.0 L146.9,993.8 L147.3,993.6 L147.8,993.5 L148.3,993.3 L148.7,993.1 L149.2,992.9 L149.6,992.7 L150.1,992.6 L150.6,992.4 L151.0,992.2 L151.5,992.0 L151.9,991.8 L152.4,991.6 L152.9,991.4 L153.3,991.2 L153.8,991.0 L154.2,990.8 L154.7,990.6 L155.1,990.4 L155.6,990.2 L156.0,990.0 L156.5,989.8 L156.9,989.6 L157.4,989.3 L157.9,989.1 L158.3,988.9 L158.8,988.7 L159.2,988.5 L159.6,988.3 L160.1,988.0 L160.5,987.8 L161.0,987.6 L161.4,987.4 L161.9,987.1 L162.3,986.9 L162.8,986.7 L163.2,986.4 L163.7,986.2 L164.1,986.0 L164.5,985.7 L165.0,985.5 L165.4,985.3 L165.9,985.0 L166.3,984.8 L166.7,984.5 L167.2,984.3 L167.6,984.1 L168.0,983.8 L168.5,983.6 L168.9,983.3 L169.3,983.1 L169.8,982.8 L170.2,982.6 L170.6,982.3 L171.1,982.0 L171.5,981.8 L171.9,981.5 L172.4,981.3 L172.8,981.0 L173.2,980.7 L173.6,980.5 L174.1,980.2 L174.5,979.9 L174.9,979.7 L175.4,979.4 L175.8,979.1 L176.2,978.9 L176.6,978.6 L177.0,978.3 L177.5,978.0 L177.9,977.8 L178.3,977.5 L178.7,977.2 L179.1,976.9 L179.6,976.7 L180.0,976.4 L180.4,976.1 L180.8,975.8 L181.2,975.5 L181.6,975.2 L182.0,974.9 L182.5,974.7 L182.9,974.4 L183.3,974.1 L183.7,973.8 L184.1,973.5 L184.5,973.2 L184.9,972.9 L185.3,972.6 L185.7,972.3 L186.1,972.0 L186.6,971.7 L187.0,971.4 L187.4,971.1 L187.8,970.8 L188.2,970.5 L188.6,970.2 L189.0,969.9 L189.4,969.6 L189.8,969.3 L190.2,968.9 L190.6,968.6 L191.0,968.3 L191.4,968.0 L191.8,967.7 L192.2,967.4 L192.5,967.1 L192.9,966.7 L193.3,966.4 L193.7,966.1 L194.1,965.8 L194.5,965.5 L194.9,965.1 L195.3,964.8 L195.7,964.5 L196.1,964.2 L196.5,963.9 L196.8,963.5 L197.2,963.2 L197.6,962.9 L198.0,962.5 L198.4,962.2 L198.8,961.9 L199.1,961.6 L199.5,961.2 L199.9,960.9 L200.3,960.6 L200.7,960.2 L201.0,959.9 L201.4,959.5 L201.8,959.2 L202.2,958.9 L202.6,958.5 L202.9,958.2 L203.3,957.8 L203.7,957.5 L204.0,957.2 L204.4,956.8 L204.8,956.5 L205.2,956.1 L205.5,955.8 L205.9,955.4 L206.3,955.1 L206.6,954.7 L207.0,954.4 L207.4,954.1 L207.7,953.7 L208.1,953.4 L208.5,953.0 L208.8,952.7 L209.2,952.3 L209.5,951.9 L209.9,951.6 L210.3,951.2 L210.6,950.9 L211.0,950.5 L211.3,950.2 L211.7,949.8 L212.0,949.5 L212.4,949.1 L212.7,948.7 L213.1,948.4 L213.4,948.0 L213.8,947.7 L214.1,947.3 L214.5,946.9 L214.8,946.6 L215.2,946.2 L215.5,945.8 L215.9,945.5 L216.2,945.1 L216.6,944.8 L216.9,944.4 L217.3,944.0 L217.6,943.7 L217.9,943.3 L218.3,942.9 L218.6,942.5 L219.0,942.2 L219.3,941.8 L219.6,941.4 L220.0,941.1 L220.3,940.7 L220.7,940.3 L221.0,939.9 L221.3,939.6 L221.7,939.2 L222.0,938.8 L222.3,938.5 L222.7,938.1 L223.0,937.7 L223.3,937.3 L223.7,937.0 L224.0,936.6 L224.3,936.2 L224.7,935.8 L225.0,935.4 L225.3,935.1 L225.6,934.7 L226.0,934.3 L226.3,933.9 L226.6,933.5 L226.9,933.2 L227.3,932.8 L227.6,932.4 L227.9,932.0 L228.2,931.6 L228.6,931.3 L228.9,930.9 L229.2,930.5 L229.5,930.1 L229.9,929.7 L230.2,929.3 L230.5,928.9 L230.8,928.6 L231.1,928.2 L231.4,927.8 L231.8,927.4 L232.1,927.0 L232.4,926.6 L232.7,926.2 L233.0,925.9 L233.4,925.5 L233.7,925.1 L234.0,924.7 L234.3,924.3 L234.6,923.9 L234.9,923.5 L235.2,923.1 L235.6,922.7 L235.9,922.3 L236.2,922.0 L236.5,921.6 L236.8,921.2 L237.1,920.8 L237.4,920.4 L237.7,920.0 L238.0,919.6 L238.4,919.2 L238.7,918.8 L239.0,918.4 L239.3,918.0 L239.6,917.6 L239.9,917.2 L240.2,916.9 L240.5,916.5 L240.8,916.1 L241.1,915.7 L241.4,915.3 L241.8,914.9 L242.1,914.5 L242.4,914.1 L242.7,913.7 L243.0,913.3 L243.3,912.9 L243.6,912.5 L243.9,912.1 L244.2,911.7 L244.5,911.3 L244.8,910.9 L245.1,910.5 L245.4,910.1 L245.7,909.7 L246.0,909.3 L246.3,908.9 L246.6,908.5 L246.9,908.1 L247.3,907.7 L247.6,907.3 L247.9,906.9 L248.2,906.5 L248.5,906.1 L248.8,905.7 L249.1,905.3 L249.4,904.9 L249.7,904.5 L250.0,904.1 L250.3,903.8 L250.6,903.4 L250.9,903.0 L251.2,902.6 L251.5,902.2 L251.8,901.8 L252.1,901.4 L252.4,901.0 L252.7,900.6 L253.0,900.2 L253.3,899.8 L253.6,899.4 L253.9,899.0 L254.2,898.6 L254.5,898.2 L254.8,897.8 L255.1,897.4 L255.4,897.0 L255.7,896.6 L256.0,896.2 L256.3,895.8 L256.6,895.4 L256.9,895.0 L257.2,894.6 L257.5,894.2 L257.8,893.8 L258.1,893.4 L258.4,893.0 L258.8,892.6 L259.1,892.2 L259.4,891.8 L259.7,891.4 L260.0,891.0 L260.3,890.6 L260.6,890.2 L260.9,889.8 L261.2,889.4 L261.5,889.0 L261.8,888.6 L262.1,888.2 L262.4,887.8 L262.7,887.4 L263.0,887.0 L263.3,886.6 L263.6,886.2 L263.9,885.8 L264.2,885.4 L264.5,885.0 L264.8,884.6 L265.1,884.2 L265.5,883.8 L265.8,883.4 L266.1,883.0 L266.4,882.7 L266.7,882.3 L267.0,881.9 L267.3,881.5 L267.6,881.1 L267.9,880.7 L268.2,880.3 L268.5,879.9 L268.8,879.5 L269.1,879.1 L269.5,878.7 L269.8,878.3 L270.1,877.9 L270.4,877.5 L270.7,877.1 L271.0,876.8 L271.3,876.4 L271.6,876.0 L271.9,875.6 L272.3,875.2 L272.6,874.8 L272.9,874.4 L273.2,874.0 L273.5,873.6 L273.8,873.2 L274.1,872.9 L274.5,872.5 L274.8,872.1 L275.1,871.7 L275.4,871.3 L275.7,870.9 L276.0,870.5 L276.4,870.1 L276.7,869.8 L277.0,869.4 L277.3,869.0 L277.6,868.6 L277.9,868.2 L278.3,867.8 L278.6,867.4 L278.9,867.0 L279.2,866.7 L279.5,866.3 L279.9,865.9 L280.2,865.5 L280.5,865.1 L280.8,864.7 L281.1,864.4 L281.5,864.0 L281.8,863.6 L282.1,863.2 L282.4,862.8 L282.8,862.4 L283.1,862.1 L283.4,861.7 L283.7,861.3 L284.0,860.9 L284.4,860.5 L284.7,860.2 L285.0,859.8 L285.3,859.4 L285.7,859.0 L286.0,858.6 L286.3,858.2 L286.6,857.9 L287.0,857.5 L287.3,857.1 L287.6,856.7 L287.9,856.3 L288.3,856.0 L288.6,855.6 L288.9,855.2 L289.3,854.8 L289.6,854.4 L289.9,854.1 L290.2,853.7 L290.6,853.3 L290.9,852.9 L291.2,852.6 L291.5,852.2 L291.9,851.8 L292.2,851.4 L292.5,851.0 L292.9,850.7 L293.2,850.3 L293.5,849.9 L293.8,849.5 L294.2,849.2 L294.5,848.8 L294.8,848.4 L295.2,848.0 L295.5,847.6 L295.8,847.3 L296.1,846.9 L296.5,846.5 L296.8,846.1 L297.1,845.8 L297.5,845.4 L297.8,845.0 L298.1,844.6 L298.5,844.3 L298.8,843.9 L299.1,843.5 L299.4,843.1 L299.8,842.8 L300.1,842.4 L300.4,842.0 L300.8,841.6 L301.1,841.2 L301.4,840.9 L301.8,840.5 L302.1,840.1 L302.4,839.7 L302.8,839.4 L303.1,839.0 L303.4,838.6 L303.8,838.2 L304.1,837.9 L304.4,837.5 L304.7,837.1 L305.1,836.7 L305.4,836.4 L305.7,836.0 L306.1,835.6 L306.4,835.2 L306.7,834.9 L307.1,834.5 L307.4,834.1 L307.7,833.7 L308.1,833.4 L308.4,833.0 L308.7,832.6 L309.1,832.2 L309.4,831.9 L309.7,831.5 L310.0,831.1 L310.4,830.7 L310.7,830.4 L311.0,830.0 L311.4,829.6 L311.7,829.2 L312.0,828.9 L312.4,828.5 L312.7,828.1 L313.0,827.7 L313.3,827.3 L313.7,827.0 L314.0,826.6 L314.3,826.2 L314.6,825.8 L315.0,825.4 L315.3,825.1 L315.6,824.7 L315.9,824.3 L316.2,823.9 L316.6,823.5 L316.9,823.1 L317.2,822.7 L317.5,822.4 L317.8,822.0 L318.2,821.6 L318.5,821.2 L318.8,820.8 L319.1,820.4 L319.4,820.0 L319.7,819.6 L320.1,819.3 L320.4,818.9 L320.7,818.5 L321.0,818.1 L321.3,817.7 L321.6,817.3 L321.9,816.9 L322.2,816.5 L322.5,816.1 L322.8,815.7 L323.1,815.3 L323.4,814.9 L323.7,814.5" fill="none" stroke="#0000ff" stroke-width="2.2" stroke-linecap="butt" stroke-linejoin="round"/>
<path d="M74.4,1003.8 L74.9,1003.8 L75.4,1003.8 L75.9,1003.8 L76.4,1003.8 L76.9,1003.8 L77.4,1003.8 L77.9,1003.8 L78.4,1003.8 L78.9,1003.8 L79.4,1003.8 L79.9,1003.8 L80.4,1003.8 L80.9,1003.8 L81.4,1003.8 L81.9,1003.8 L82.4,1003.8 L82.9,1003.8 L83.4,1003.8 L83.9,1003.8 L84.4,1003.8 L84.9,1003.8 L85.4,1003.8 L85.9,1003.8 L86.4,1003.8 L86.9,1003.8 L87.4,1003.7 L87.9,1003.7 L88.4,1003.7 L88.9,1003.7 L89.4,1003.7 L89.9,1003.7 L90.4,1003.7 L90.9,1003.6 L91.4,1003.6 L91.9,1003.6 L92.4,1003.6 L92.9,1003.6 L93.4,1003.5 L93.9,1003.5 L94.5,1003.5 L95.0,1003.5 L95.5,1003.4 L96.0,1003.4 L96.5,1003.4 L97.0,1003.3 L97.5,1003.3 L98.0,1003.3 L98.5,1003.3 L99.0,1003.2 L99.5,1003.2 L100.0,1003.1 L100.5,1003.1 L101.0,1003.1 L101.5,1003.0 L102.0,1003.0 L102.5,1002.9 L103.0,1002.9 L103.5,1002.9 L104.0,1002.8 L104.5,1002.8 L105.0,1002.7 L105.5,1002.7 L106.0,1002.6 L106.5,1002.6 L107.0,1002.5 L107.5,1002.4 L107.9,1002.4 L108.4,1002.3 L108.9,1002.3 L109.4,1002.2 L109.9,1002.2 L110.4,1002.1 L110.9,1002.0 L111.4,1002.0 L111.9,1001.9 L112.4,1001.8 L112.9,1001.8 L113.4,1001.7 L113.9,1001.6 L114.4,1001.5 L114.9,1001.5 L115.4,1001.4 L115.9,1001.3 L116.4,1001.2 L116.9,1001.2 L117.4,1001.1 L117.9,1001.0 L118.3,1000.9 L118.8,1000.8 L119.3,1000.7 L119.8,1000.6 L120.3,1000.6 L120.8,1000.5 L121.3,1000.4 L121.8,1000.3 L122.3,1000.2 L122.8,1000.1 L123.2,1000.0 L123.7,999.9 L124.2,999.8 L124.7,999.7 L125.2,999.6 L125.7,999.5 L126.2,999.3 L126.7,999.2 L127.1,999.1 L127.6,999.0 L128.1,998.9 L128.6,998.8 L129.1,998.7 L129.6,998.5 L130.0,998.4 L130.5,998.3 L131.0,998.2 L131.5,998.0 L132.0,997.9 L132.4,997.8 L132.9,997.7 L133.4,997.5 L133.9,997.4 L134.4,997.2 L134.8,997.1 L135.3,997.0 L135.8,996.8 L136.3,996.7 L136.7,996.5 L137.2,996.4 L137.7,996.2 L138.2,996.1 L138.6,995.9 L139.1,995.8 L139.6,995.6 L140.0,995.5 L140.5,995.3 L141.0,995.1 L141.4,995.0 L141.9,994.8 L142.4,994.7 L142.9,994.5 L143.3,994.3 L143.8,994.1 L144.3,994.0 L144.7,993.8 L145.2,993.6 L145.6,993.4 L146.1,993.3 L146.6,993.1 L147.0,992.9 L147.5,992.7 L148.0,992.5 L148.4,992.3 L148.9,992.1 L149.3,992.0 L149.8,991.8 L150.3,991.6 L150.7,991.4 L151.2,991.2 L151.6,991.0 L152.1,990.8 L152.5,990.6 L153.0,990.4 L153.4,990.2 L153.9,990.0 L154.3,989.8 L154.8,989.5 L155.2,989.3 L155.7,989.1 L156.1,988.9 L156.6,988.7 L157.0,988.5 L157.5,988.3 L157.9,988.0 L158.4,987.8 L158.8,987.6 L159.3,987.4 L159.7,987.1 L160.2,986.9 L160.6,986.7 L161.1,986.5 L161.5,986.2 L161.9,986.0 L162.4,985.8 L162.8,985.5 L163.3,985.3 L163.7,985.0 L164.1,984.8 L164.6,984.6 L165.0,984.3 L165.5,984.1 L165.9,983.8 L166.3,983.6 L166.8,983.3 L167.2,983.1 L167.6,982.8 L168.1,982.6 L168.5,982.3 L168.9,982.1 L169.4,981.8 L169.8,981.6 L170.2,981.3 L170.6,981.0 L171.1,980.8 L171.5,980.5 L171.9,980.2 L172.4,980.0 L172.8,979.7 L173.2,979.4 L173.6,979.2 L174.1,978.9 L174.5,978.6 L174.9,978.4 L175.3,978.1 L175.7,977.8 L176.2,977.5 L176.6,977.3 L177.0,977.0 L177.4,976.7 L177.8,976.4 L178.3,976.1 L178.7,975.9 L179.1,975.6 L179.5,975.3 L179.9,975.0 L180.3,974.7 L180.7,974.4 L181.2,974.1 L181.6,973.8 L182.0,973.6 L182.4,973.3 L182.8,973.0 L183.2,972.7 L183.6,972.4 L184.0,972.1 L184.4,971.8 L184.8,971.5 L185.2,971.2 L185.6,970.9 L186.1,970.6 L186.5,970.3 L186.9,970.0 L187.3,969.7 L187.7,969.3 L188.1,969.0 L188.5,968.7 L188.9,968.4 L189.3,968.1 L189.7,967.8 L190.1,967.5 L190.4,967.2 L190.8,966.9 L191.2,966.5 L191.6,966.2 L192.0,965.9 L192.4,965.6 L192.8,965.3 L193.2,964.9 L193.6,964.6 L194.0,964.3 L194.4,964.0 L194.8,963.6 L195.1,963.3 L195.5,963.0 L195.9,962.7 L196.3,962.3 L196.7,962.0 L197.1,961.7 L197.5,961.3 L197.8,961.0 L198.2,960.7 L198.6,960.4 L199.0,960.0 L199.4,959.7 L199.7,959.3 L200.1,959.0 L200.5,958.7 L200.9,958.3 L201.2,958.0 L201.6,957.7 L202.0,957.3 L202.4,957.0 L202.7,956.6 L203.1,956.3 L203.5,955.9 L203.8,955.6 L204.2,955.3 L204.6,954.9 L205.0,954.6 L205.3,954.2 L205.7,953.9 L206.1,953.5 L206.4,953.2 L206.8,952.8 L207.1,952.5 L207.5,952.1 L207.9,951.8 L208.2,951.4 L208.6,951.1 L208.9,950.7 L209.3,950.4 L209.7,950.0 L210.0,949.6 L210.4,949.3 L210.7,948.9 L211.1,948.6 L211.4,948.2 L211.8,947.9 L212.1,947.5 L212.5,947.1 L212.8,946.8 L213.2,946.4 L213.5,946.0 L213.9,945.7 L214.2,945.3 L214.6,945.0 L214.9,944.6 L215.3,944.2 L215.6,943.9 L216.0,943.5 L216.3,943.1 L216.7,942.8 L217.0,942.4 L217.3,942.0 L217.7,941.7 L218.0,941.3 L218.4,940.9 L218.7,940.5 L219.0,940.2 L219.4,939.8 L219.7,939.4 L220.0,939.1 L220.4,938.7 L220.7,938.3 L221.0,937.9 L221.4,937.6 L221.7,937.2 L222.0,936.8 L222.4,936.4 L222.7,936.1 L223.0,935.7 L223.4,935.3 L223.7,934.9 L224.0,934.5 L224.3,934.2 L224.7,933.8 L225.0,933.4 L225.3,933.0 L225.6,932.6 L226.0,932.3 L226.3,931.9 L226.6,931.5 L226.9,931.1 L227.3,930.7 L227.6,930.4 L227.9,930.0 L228.2,929.6 L228.5,929.2 L228.9,928.8 L229.2,928.4 L229.5,928.0 L229.8,927.7 L230.1,927.3 L230.5,926.9 L230.8,926.5 L231.1,926.1 L231.4,925.7 L231.7,925.3 L232.0,924.9 L232.3,924.6 L232.7,924.2 L233.0,923.8 L233.3,923.4 L233.6,923.0 L233.9,922.6 L234.2,922.2 L234.5,921.8 L234.8,921.4 L235.2,921.0 L235.5,920.7 L235.8,920.3 L236.1,919.9 L236.4,919.5 L236.7,919.1 L237.0,918.7 L237.3,918.3 L237.6,917.9 L237.9,917.5 L238.2,917.1 L238.5,916.7 L238.8,916.3 L239.1,915.9 L239.5,915.5 L239.8,915.1 L240.1,914.7 L240.4,914.3 L240.7,913.9 L241.0,913.5 L241.3,913.1 L241.6,912.7 L241.9,912.3 L242.2,911.9 L242.5,911.5 L242.8,911.1 L243.1,910.7 L243.4,910.3 L243.7,909.9 L244.0,909.5 L244.3,909.1 L244.6,908.7 L244.9,908.3 L245.2,907.9 L245.5,907.5 L245.8,907.1 L246.1,906.7 L246.4,906.3 L246.7,905.9 L247.0,905.5 L247.3,905.1 L247.6,904.7 L247.9,904.3 L248.2,903.9 L248.5,903.5 L248.8,903.1 L249.1,902.7 L249.3,902.3 L249.6,901.9 L249.9,901.5 L250.2,901.1 L250.5,900.7 L250.8,900.3 L251.1,899.9 L251.4,899.5 L251.7,899.1 L252.0,898.7 L252.3,898.3 L252.6,897.9 L252.9,897.5 L253.2,897.1 L253.5,896.7 L253.8,896.3 L254.1,895.9 L254.4,895.5 L254.7,895.0 L254.9,894.6 L255.2,894.2 L255.5,893.8 L255.8,893.4 L256.1,893.0 L256.4,892.6 L256.7,892.2 L257.0,891.8 L257.3,891.4 L257.6,891.0 L257.9,890.6 L258.2,890.2 L258.5,889.8 L258.8,889.4 L259.1,889.0 L259.3,888.6 L259.6,888.2 L259.9,887.8 L260.2,887.4 L260.5,886.9 L260.8,886.5 L261.1,886.1 L261.4,885.7 L261.7,885.3 L262.0,884.9 L262.3,884.5 L262.6,884.1 L262.9,883.7 L263.2,883.3 L263.5,882.9 L263.7,882.5 L264.0,882.1 L264.3,881.7 L264.6,881.3 L264.9,880.9 L265.2,880.5 L265.5,880.1 L265.8,879.7 L266.1,879.3 L266.4,878.9 L266.7,878.5 L267.0,878.0 L267.3,877.6 L267.6,877.2 L267.9,876.8 L268.2,876.4 L268.5,876.0 L268.8,875.6 L269.1,875.2 L269.3,874.8 L269.6,874.4 L269.9,874.0 L270.2,873.6 L270.5,873.2 L270.8,872.8 L271.1,872.4 L271.4,872.0 L271.7,871.6 L272.0,871.2 L272.3,870.8 L272.6,870.4 L272.9,870.0 L273.2,869.6 L273.5,869.2 L273.8,868.8 L274.1,868.4 L274.4,868.0 L274.7,867.6 L275.0,867.2 L275.3,866.8 L275.6,866.4 L275.9,866.0 L276.2,865.6 L276.5,865.2 L276.8,864.8 L277.1,864.4 L277.4,864.0 L277.7,863.6 L278.0,863.2 L278.3,862.8 L278.6,862.4 L278.9,862.0 L279.2,861.6 L279.6,861.2 L279.9,860.8 L280.2,860.4 L280.5,860.0 L280.8,859.6 L281.1,859.2 L281.4,858.8 L281.7,858.4 L282.0,858.1 L282.3,857.7 L282.6,857.3 L282.9,856.9 L283.2,856.5 L283.5,856.1 L283.8,855.7 L284.1,855.3 L284.4,854.9 L284.8,854.5 L285.1,854.1 L285.4,853.7 L285.7,853.3 L286.0,852.9 L286.3,852.5 L286.6,852.1 L286.9,851.8 L287.2,851.4 L287.5,851.0 L287.9,850.6 L288.2,850.2 L288.5,849.8 L288.8,849.4 L289.1,849.0 L289.4,848.6 L289.7,848.2 L290.0,847.8 L290.4,847.5 L290.7,847.1 L291.0,846.7 L291.3,846.3 L291.6,845.9 L291.9,845.5 L292.2,845.1 L292.6,844.7 L292.9,844.4 L293.2,844.0 L293.5,843.6 L293.8,843.2 L294.1,842.8 L294.5,842.4 L294.8,842.0 L295.1,841.6 L295.4,841.3 L295.7,840.9 L296.0,840.5 L296.4,840.1 L296.7,839.7 L297.0,839.3 L297.3,839.0 L297.6,838.6 L298.0,838.2 L298.3,837.8 L298.6,837.4 L298.9,837.0 L299.3,836.7 L299.6,836.3 L299.9,835.9 L300.2,835.5 L300.5,835.1 L300.9,834.7 L301.2,834.4 L301.5,834.0 L301.8,833.6 L302.2,833.2 L302.5,832.8 L302.8,832.5 L303.1,832.1 L303.5,831.7 L303.8,831.3 L304.1,830.9 L304.5,830.6 L304.8,830.2 L305.1,829.8 L305.4,829.4 L305.8,829.1 L306.1,828.7 L306.4,828.3 L306.8,827.9 L307.1,827.6 L307.4,827.2 L307.8,826.8 L308.1,826.4 L308.4,826.0 L308.7,825.7 L309.1,825.3 L309.4,824.9 L309.7,824.5 L310.1,824.2 L310.4,823.8 L310.7,823.4 L311.1,823.1 L311.4,822.7 L311.7,822.3 L312.1,821.9 L312.4,821.6 L312.7,821.2 L313.1,820.8 L313.4,820.4 L313.7,820.1 L314.1,819.7 L314.4,819.3 L314.7,818.9 L315.1,818.6 L315.4,818.2 L315.7,817.8 L316.1,817.4 L316.4,817.1 L316.7,816.7 L317.0,816.3 L317.4,815.9 L317.7,815.5 L318.0,815.2 L318.4,814.8 L318.7,814.4 L319.0,814.0 L319.4,813.7 L319.7,813.3 L320.0,812.9 L320.3,812.5 L320.7,812.1 L321.0,811.8 L321.3,811.4 L321.6,811.0 L322.0,810.6 L322.3,810.2 L322.6,809.9 L322.9,809.5 L323.3,809.1 L323.6,808.7 L323.9,808.3 L324.2,808.0 L324.6,807.6 L324.9,807.2 L325.2,806.8 L325.5,806.4 L325.8,806.0 L326.2,805.6 L326.5,805.3 L326.8,804.9 L327.1,804.5 L327.4,804.1 L327.7,803.7" fill="none" stroke="#8c5a2a" stroke-width="2.3" stroke-linecap="butt" stroke-linejoin="round"/>
<path d="M74.4,1003.8 L74.9,1003.8 L75.4,1003.8 L75.9,1003.8 L76.4,1003.8 L76.9,1003.8 L77.4,1003.8 L77.9,1003.8 L78.4,1003.8 L78.9,1003.8 L79.4,1003.8 L79.9,1003.8 L80.4,1003.8 L80.9,1003.8 L81.4,1003.8 L81.9,1003.8 L82.4,1003.8 L82.9,1003.8 L83.4,1003.8 L83.9,1003.8 L84.4,1003.8 L84.9,1003.8 L85.4,1003.8 L85.9,1003.8 L86.4,1003.8 L86.9,1003.8 L87.4,1003.7 L87.9,1003.7 L88.4,1003.7 L88.9,1003.7 L89.4,1003.7 L89.9,1003.7 L90.4,1003.6 L90.9,1003.6 L91.4,1003.6 L91.9,1003.6 L92.4,1003.6 L92.9,1003.5 L93.4,1003.5 L94.0,1003.5 L94.5,1003.5 L95.0,1003.4 L95.5,1003.4 L96.0,1003.4 L96.5,1003.3 L97.0,1003.3 L97.5,1003.3 L98.0,1003.2 L98.5,1003.2 L99.0,1003.2 L99.5,1003.1 L100.0,1003.1 L100.5,1003.1 L101.0,1003.0 L101.5,1003.0 L102.0,1002.9 L102.5,1002.9 L103.0,1002.8 L103.5,1002.8 L104.0,1002.7 L104.5,1002.7 L105.0,1002.6 L105.5,1002.6 L106.0,1002.5 L106.5,1002.5 L107.0,1002.4 L107.4,1002.4 L107.9,1002.3 L108.4,1002.2 L108.9,1002.2 L109.4,1002.1 L109.9,1002.0 L110.4,1002.0 L110.9,1001.9 L111.4,1001.8 L111.9,1001.8 L112.4,1001.7 L112.9,1001.6 L113.4,1001.6 L113.9,1001.5 L114.4,1001.4 L114.9,1001.3 L115.4,1001.2 L115.9,1001.2 L116.4,1001.1 L116.9,1001.0 L117.3,1000.9 L117.8,1000.8 L118.3,1000.7 L118.8,1000.6 L119.3,1000.6 L119.8,1000.5 L120.3,1000.4 L120.8,1000.3 L121.3,1000.2 L121.8,1000.1 L122.2,1000.0 L122.7,999.9 L123.2,999.8 L123.7,999.7 L124.2,999.6 L124.7,999.4 L125.2,999.3 L125.6,999.2 L126.1,999.1 L126.6,999.0 L127.1,998.9 L127.6,998.8 L128.1,998.6 L128.6,998.5 L129.0,998.4 L129.5,998.3 L130.0,998.1 L130.5,998.0 L131.0,997.9 L131.4,997.8 L131.9,997.6 L132.4,997.5 L132.9,997.4 L133.3,997.2 L133.8,997.1 L134.3,996.9 L134.8,996.8 L135.2,996.6 L135.7,996.5 L136.2,996.3 L136.7,996.2 L137.1,996.0 L137.6,995.9 L138.1,995.7 L138.6,995.6 L139.0,995.4 L139.5,995.3 L140.0,995.1 L140.4,994.9 L140.9,994.8 L141.4,994.6 L141.8,994.4 L142.3,994.2 L142.8,994.1 L143.2,993.9 L143.7,993.7 L144.2,993.5 L144.6,993.4 L145.1,993.2 L145.5,993.0 L146.0,992.8 L146.5,992.6 L146.9,992.4 L147.4,992.2 L147.8,992.1 L148.3,991.9 L148.8,991.7 L149.2,991.5 L149.7,991.3 L150.1,991.1 L150.6,990.9 L151.0,990.7 L151.5,990.5 L151.9,990.3 L152.4,990.0 L152.8,989.8 L153.3,989.6 L153.7,989.4 L154.2,989.2 L154.6,989.0 L155.1,988.8 L155.5,988.5 L156.0,988.3 L156.4,988.1 L156.9,987.9 L157.3,987.7 L157.8,987.4 L158.2,987.2 L158.7,987.0 L159.1,986.7 L159.5,986.5 L160.0,986.3 L160.4,986.0 L160.9,985.8 L161.3,985.6 L161.7,985.3 L162.2,985.1 L162.6,984.8 L163.1,984.6 L163.5,984.4 L163.9,984.1 L164.4,983.9 L164.8,983.6 L165.2,983.4 L165.7,983.1 L166.1,982.9 L166.5,982.6 L167.0,982.3 L167.4,982.1 L167.8,981.8 L168.3,981.6 L168.7,981.3 L169.1,981.1 L169.5,980.8 L170.0,980.5 L170.4,980.3 L170.8,980.0 L171.2,979.7 L171.7,979.4 L172.1,979.2 L172.5,978.9 L172.9,978.6 L173.4,978.4 L173.8,978.1 L174.2,977.8 L174.6,977.5 L175.0,977.2 L175.4,977.0 L175.9,976.7 L176.3,976.4 L176.7,976.1 L177.1,975.8 L177.5,975.5 L177.9,975.3 L178.4,975.0 L178.8,974.7 L179.2,974.4 L179.6,974.1 L180.0,973.8 L180.4,973.5 L180.8,973.2 L181.2,972.9 L181.6,972.6 L182.0,972.3 L182.4,972.0 L182.9,971.7 L183.3,971.4 L183.7,971.1 L184.1,970.8 L184.5,970.5 L184.9,970.2 L185.3,969.9 L185.7,969.6 L186.1,969.3 L186.5,969.0 L186.9,968.6 L187.3,968.3 L187.7,968.0 L188.1,967.7 L188.5,967.4 L188.9,967.1 L189.2,966.7 L189.6,966.4 L190.0,966.1 L190.4,965.8 L190.8,965.5 L191.2,965.1 L191.6,964.8 L192.0,964.5 L192.4,964.2 L192.8,963.8 L193.2,963.5 L193.5,963.2 L193.9,962.9 L194.3,962.5 L194.7,962.2 L195.1,961.9 L195.5,961.5 L195.8,961.2 L196.2,960.9 L196.6,960.5 L197.0,960.2 L197.4,959.9 L197.7,959.5 L198.1,959.2 L198.5,958.9 L198.9,958.5 L199.3,958.2 L199.6,957.8 L200.0,957.5 L200.4,957.2 L200.7,956.8 L201.1,956.5 L201.5,956.1 L201.9,955.8 L202.2,955.4 L202.6,955.1 L203.0,954.7 L203.3,954.4 L203.7,954.0 L204.1,953.7 L204.4,953.3 L204.8,953.0 L205.2,952.6 L205.5,952.3 L205.9,951.9 L206.3,951.6 L206.6,951.2 L207.0,950.9 L207.3,950.5 L207.7,950.2 L208.1,949.8 L208.4,949.4 L208.8,949.1 L209.1,948.7 L209.5,948.4 L209.8,948.0 L210.2,947.6 L210.5,947.3 L210.9,946.9 L211.2,946.6 L211.6,946.2 L211.9,945.8 L212.3,945.5 L212.6,945.1 L213.0,944.7 L213.3,944.4 L213.7,944.0 L214.0,943.6 L214.4,943.3 L214.7,942.9 L215.1,942.5 L215.4,942.2 L215.7,941.8 L216.1,941.4 L216.4,941.1 L216.8,940.7 L217.1,940.3 L217.4,939.9 L217.8,939.6 L218.1,939.2 L218.4,938.8 L218.8,938.5 L219.1,938.1 L219.5,937.7 L219.8,937.3 L220.1,937.0 L220.5,936.6 L220.8,936.2 L221.1,935.8 L221.4,935.5 L221.8,935.1 L222.1,934.7 L222.4,934.3 L222.8,933.9 L223.1,933.6 L223.4,933.2 L223.7,932.8 L224.1,932.4 L224.4,932.0 L224.7,931.7 L225.0,931.3 L225.4,930.9 L225.7,930.5 L226.0,930.1 L226.3,929.8 L226.7,929.4 L227.0,929.0 L227.3,928.6 L227.6,928.2 L227.9,927.8 L228.3,927.4 L228.6,927.1 L228.9,926.7 L229.2,926.3 L229.5,925.9 L229.8,925.5 L230.2,925.1 L230.5,924.7 L230.8,924.3 L231.1,924.0 L231.4,923.6 L231.7,923.2 L232.0,922.8 L232.3,922.4 L232.7,922.0 L233.0,921.6 L233.3,921.2 L233.6,920.8 L233.9,920.4 L234.2,920.1 L234.5,919.7 L234.8,919.3 L235.1,918.9 L235.4,918.5 L235.8,918.1 L236.1,917.7 L236.4,917.3 L236.7,916.9 L237.0,916.5 L237.3,916.1 L237.6,915.7 L237.9,915.3 L238.2,914.9 L238.5,914.5 L238.8,914.1 L239.1,913.7 L239.4,913.4 L239.7,913.0 L240.0,912.6 L240.3,912.2 L240.6,911.8 L240.9,911.4 L241.2,911.0 L241.5,910.6 L241.8,910.2 L242.1,909.8 L242.4,909.4 L242.7,909.0 L243.0,908.6 L243.3,908.2 L243.6,907.8 L243.9,907.4 L244.2,907.0 L244.5,906.6 L244.8,906.2 L245.1,905.8 L245.4,905.4 L245.7,905.0 L246.0,904.6 L246.3,904.2 L246.6,903.8 L246.9,903.4 L247.2,903.0 L247.5,902.6 L247.8,902.2 L248.1,901.8 L248.4,901.4 L248.7,901.0 L249.0,900.6 L249.3,900.2 L249.6,899.7 L249.9,899.3 L250.2,898.9 L250.5,898.5 L250.8,898.1 L251.1,897.7 L251.3,897.3 L251.6,896.9 L251.9,896.5 L252.2,896.1 L252.5,895.7 L252.8,895.3 L253.1,894.9 L253.4,894.5 L253.7,894.1 L254.0,893.7 L254.3,893.3 L254.6,892.9 L254.9,892.5 L255.2,892.1 L255.5,891.7 L255.7,891.3 L256.0,890.9 L256.3,890.5 L256.6,890.1 L256.9,889.7 L257.2,889.2 L257.5,888.8 L257.8,888.4 L258.1,888.0 L258.4,887.6 L258.7,887.2 L259.0,886.8 L259.3,886.4 L259.6,886.0 L259.8,885.6 L260.1,885.2 L260.4,884.8 L260.7,884.4 L261.0,884.0 L261.3,883.6 L261.6,883.2 L261.9,882.8 L262.2,882.4 L262.5,882.0 L262.8,881.6 L263.1,881.1 L263.4,880.7 L263.7,880.3 L263.9,879.9 L264.2,879.5 L264.5,879.1 L264.8,878.7 L265.1,878.3 L265.4,877.9 L265.7,877.5 L266.0,877.1 L266.3,876.7 L266.6,876.3 L266.9,875.9 L267.2,875.5 L267.5,875.1 L267.8,874.7 L268.1,874.3 L268.4,873.9 L268.7,873.5 L268.9,873.1 L269.2,872.7 L269.5,872.3 L269.8,871.9 L270.1,871.5 L270.4,871.1 L270.7,870.6 L271.0,870.2 L271.3,869.8 L271.6,869.4 L271.9,869.0 L272.2,868.6 L272.5,868.2 L272.8,867.8 L273.1,867.4 L273.4,867.0 L273.7,866.6 L274.0,866.2 L274.3,865.8 L274.6,865.4 L274.9,865.0 L275.2,864.6 L275.5,864.2 L275.8,863.8 L276.1,863.4 L276.4,863.0 L276.7,862.6 L277.0,862.2 L277.3,861.8 L277.6,861.4 L277.9,861.0 L278.2,860.6 L278.5,860.2 L278.8,859.8 L279.1,859.4 L279.4,859.0 L279.7,858.6 L280.0,858.2 L280.3,857.8 L280.6,857.4 L280.9,857.0 L281.3,856.7 L281.6,856.3 L281.9,855.9 L282.2,855.5 L282.5,855.1 L282.8,854.7 L283.1,854.3 L283.4,853.9 L283.7,853.5 L284.0,853.1 L284.3,852.7 L284.6,852.3 L284.9,851.9 L285.2,851.5 L285.5,851.1 L285.9,850.7 L286.2,850.3 L286.5,849.9 L286.8,849.5 L287.1,849.1 L287.4,848.8 L287.7,848.4 L288.0,848.0 L288.3,847.6 L288.7,847.2 L289.0,846.8 L289.3,846.4 L289.6,846.0 L289.9,845.6 L290.2,845.2 L290.5,844.8 L290.8,844.5 L291.2,844.1 L291.5,843.7 L291.8,843.3 L292.1,842.9 L292.4,842.5 L292.7,842.1 L293.0,841.7 L293.4,841.3 L293.7,841.0 L294.0,840.6 L294.3,840.2 L294.6,839.8 L295.0,839.4 L295.3,839.0 L295.6,838.6 L295.9,838.3 L296.2,837.9 L296.5,837.5 L296.9,837.1 L297.2,836.7 L297.5,836.3 L297.8,835.9 L298.1,835.6 L298.5,835.2 L298.8,834.8 L299.1,834.4 L299.4,834.0 L299.8,833.6 L300.1,833.3 L300.4,832.9 L300.7,832.5 L301.1,832.1 L301.4,831.7 L301.7,831.4 L302.0,831.0 L302.4,830.6 L302.7,830.2 L303.0,829.8 L303.3,829.5 L303.7,829.1 L304.0,828.7 L304.3,828.3 L304.7,828.0 L305.0,827.6 L305.3,827.2 L305.6,826.8 L306.0,826.5 L306.3,826.1 L306.6,825.7 L307.0,825.3 L307.3,825.0 L307.6,824.6 L308.0,824.2 L308.3,823.8 L308.6,823.5 L309.0,823.1 L309.3,822.7 L309.6,822.3 L309.9,822.0 L310.3,821.6 L310.6,821.2 L310.9,820.8 L311.3,820.5 L311.6,820.1 L311.9,819.7 L312.3,819.3 L312.6,818.9 L312.9,818.6 L313.2,818.2 L313.6,817.8 L313.9,817.4 L314.2,817.1 L314.5,816.7 L314.9,816.3 L315.2,815.9 L315.5,815.5 L315.8,815.2 L316.2,814.8 L316.5,814.4 L316.8,814.0 L317.1,813.6 L317.4,813.2 L317.8,812.9 L318.1,812.5 L318.4,812.1 L318.7,811.7 L319.0,811.3 L319.3,810.9 L319.6,810.5 L319.9,810.1 L320.3,809.7 L320.6,809.3 L320.9,808.9 L321.2,808.5 L321.5,808.1 L321.8,807.7 L322.1,807.3 L322.4,806.9 L322.7,806.5" fill="none" stroke="#ff0000" stroke-width="1.5" stroke-linecap="butt" stroke-linejoin="round"/>
<line x1="298.90" y1="788.60" x2="298.90" y2="821.20" stroke="#888" stroke-width="1.2"/>
<line x1="294.30" y1="788.60" x2="303.50" y2="788.60" stroke="#888" stroke-width="1.2"/>
<line x1="294.30" y1="821.20" x2="303.50" y2="821.20" stroke="#888" stroke-width="1.2"/>
<line x1="295.60" y1="800.00" x2="295.60" y2="810.50" stroke="#888" stroke-width="1.0"/>
<line x1="302.30" y1="800.00" x2="302.30" y2="810.50" stroke="#888" stroke-width="1.0"/>
<polygon points="298.90,800.00 300.28,803.70 304.23,803.87 301.14,806.33 302.19,810.13 298.90,807.95 295.61,810.13 296.66,806.33 293.57,803.87 297.52,803.70" fill="#000"/>
<path d="M439.3,825.4 L439.8,825.4 L440.3,825.4 L440.8,825.4 L441.3,825.4 L441.8,825.4 L442.3,825.4 L442.8,825.4 L443.3,825.3 L443.8,825.3 L444.3,825.3 L444.8,825.3 L445.3,825.3 L445.8,825.3 L446.3,825.2 L446.8,825.2 L447.3,825.2 L447.8,825.2 L448.3,825.2 L448.8,825.1 L449.3,825.1 L449.8,825.1 L450.3,825.1 L450.8,825.0 L451.3,825.0 L451.8,825.0 L452.3,824.9 L452.8,824.9 L453.3,824.9 L453.8,824.8 L454.3,824.8 L454.8,824.8 L455.2,824.7 L455.7,824.7 L456.2,824.7 L456.7,824.6 L457.2,824.6 L457.7,824.5 L458.2,824.5 L458.7,824.4 L459.2,824.4 L459.7,824.4 L460.2,824.3 L460.7,824.3 L461.2,824.2 L461.7,824.2 L462.2,824.1 L462.7,824.1 L463.2,824.0 L463.7,824.0 L464.2,823.9 L464.7,823.8 L465.2,823.8 L465.7,823.7 L466.2,823.7 L466.7,823.6 L467.2,823.6 L467.7,823.5 L468.2,823.4 L468.7,823.4 L469.2,823.3 L469.7,823.2 L470.1,823.2 L470.6,823.1 L471.1,823.0 L471.6,823.0 L472.1,822.9 L472.6,822.8 L473.1,822.8 L473.6,822.7 L474.1,822.6 L474.6,822.5 L475.1,822.5 L475.6,822.4 L476.1,822.3 L476.6,822.2 L477.1,822.2 L477.6,822.1 L478.1,822.0 L478.6,821.9 L479.1,821.8 L479.6,821.7 L480.0,821.7 L480.5,821.6 L481.0,821.5 L481.5,821.4 L482.0,821.3 L482.5,821.2 L483.0,821.1 L483.5,821.0 L484.0,821.0 L484.5,820.9 L485.0,820.8 L485.5,820.7 L486.0,820.6 L486.5,820.5 L486.9,820.4 L487.4,820.3 L487.9,820.2 L488.4,820.1 L488.9,820.0 L489.4,819.9 L489.9,819.8 L490.4,819.7 L490.9,819.6 L491.4,819.5 L491.9,819.4 L492.4,819.3 L492.8,819.2 L493.3,819.0 L493.8,818.9 L494.3,818.8 L494.8,818.7 L495.3,818.6 L495.8,818.5 L496.3,818.4 L496.8,818.3 L497.2,818.1 L497.7,818.0 L498.2,817.9 L498.7,817.8 L499.2,817.7 L499.7,817.5 L500.2,817.4 L500.7,817.3 L501.1,817.2 L501.6,817.1 L502.1,816.9 L502.6,816.8 L503.1,816.7 L503.6,816.6 L504.1,816.4 L504.6,816.3 L505.0,816.2 L505.5,816.0 L506.0,815.9 L506.5,815.8 L507.0,815.6 L507.5,815.5 L507.9,815.4 L508.4,815.2 L508.9,815.1 L509.4,815.0 L509.9,814.8 L510.4,814.7 L510.9,814.5 L511.3,814.4 L511.8,814.3 L512.3,814.1 L512.8,814.0 L513.3,813.8 L513.7,813.7 L514.2,813.5 L514.7,813.4 L515.2,813.2 L515.7,813.1 L516.1,812.9 L516.6,812.8 L517.1,812.6 L517.6,812.5 L518.1,812.3 L518.5,812.2 L519.0,812.0 L519.5,811.9 L520.0,811.7 L520.5,811.6 L520.9,811.4 L521.4,811.2 L521.9,811.1 L522.4,810.9 L522.8,810.8 L523.3,810.6 L523.8,810.4 L524.3,810.3 L524.8,810.1 L525.2,809.9 L525.7,809.8 L526.2,809.6 L526.7,809.4 L527.1,809.3 L527.6,809.1 L528.1,808.9 L528.5,808.8 L529.0,808.6 L529.5,808.4 L530.0,808.2 L530.4,808.1 L530.9,807.9 L531.4,807.7 L531.9,807.5 L532.3,807.4 L532.8,807.2 L533.3,807.0 L533.7,806.8 L534.2,806.7 L534.7,806.5 L535.1,806.3 L535.6,806.1 L536.1,805.9 L536.5,805.7 L537.0,805.6 L537.5,805.4 L538.0,805.2 L538.4,805.0 L538.9,804.8 L539.4,804.6 L539.8,804.4 L540.3,804.2 L540.7,804.0 L541.2,803.9 L541.7,803.7 L542.1,803.5 L542.6,803.3 L543.1,803.1 L543.5,802.9 L544.0,802.7 L544.5,802.5 L544.9,802.3 L545.4,802.1 L545.8,801.9 L546.3,801.7 L546.8,801.5 L547.2,801.3 L547.7,801.1 L548.1,800.9 L548.6,800.7 L549.1,800.5 L549.5,800.3 L550.0,800.1 L550.4,799.8 L550.9,799.6 L551.4,799.4 L551.8,799.2 L552.3,799.0 L552.7,798.8 L553.2,798.6 L553.6,798.4 L554.1,798.2 L554.5,797.9 L555.0,797.7 L555.4,797.5 L555.9,797.3 L556.4,797.1 L556.8,796.9 L557.3,796.6 L557.7,796.4 L558.2,796.2 L558.6,796.0 L559.1,795.8 L559.5,795.5 L560.0,795.3 L560.4,795.1 L560.9,794.9 L561.3,794.6 L561.8,794.4 L562.2,794.2 L562.6,794.0 L563.1,793.7 L563.5,793.5 L564.0,793.3 L564.4,793.0 L564.9,792.8 L565.3,792.6 L565.8,792.3 L566.2,792.1 L566.6,791.9 L567.1,791.6 L567.5,791.4 L568.0,791.2 L568.4,790.9 L568.9,790.7 L569.3,790.5 L569.7,790.2 L570.2,790.0 L570.6,789.7 L571.1,789.5 L571.5,789.3 L571.9,789.0 L572.4,788.8 L572.8,788.5 L573.2,788.3 L573.7,788.0 L574.1,787.8 L574.5,787.5 L575.0,787.3 L575.4,787.1 L575.9,786.8 L576.3,786.6 L576.7,786.3 L577.2,786.1 L577.6,785.8 L578.0,785.6 L578.4,785.3 L578.9,785.1 L579.3,784.8 L579.7,784.5 L580.2,784.3 L580.6,784.0 L581.0,783.8 L581.5,783.5 L581.9,783.3 L582.3,783.0 L582.8,782.8 L583.2,782.5 L583.6,782.3 L584.0,782.0 L584.5,781.7 L584.9,781.5 L585.3,781.2 L585.7,781.0 L586.2,780.7 L586.6,780.4 L587.0,780.2 L587.5,779.9 L587.9,779.7 L588.3,779.4 L588.7,779.1 L589.2,778.9 L589.6,778.6 L590.0,778.3 L590.4,778.1 L590.9,777.8 L591.3,777.6 L591.7,777.3 L592.1,777.0 L592.5,776.8 L593.0,776.5 L593.4,776.2 L593.8,776.0 L594.2,775.7 L594.7,775.4 L595.1,775.2 L595.5,774.9 L595.9,774.6 L596.4,774.4 L596.8,774.1 L597.2,773.8 L597.6,773.6 L598.0,773.3 L598.5,773.0 L598.9,772.8 L599.3,772.5 L599.7,772.2 L600.1,771.9 L600.6,771.7 L601.0,771.4 L601.4,771.1 L601.8,770.9 L602.2,770.6 L602.7,770.3 L603.1,770.1 L603.5,769.8 L603.9,769.5 L604.4,769.2 L604.8,769.0 L605.2,768.7 L605.6,768.4 L606.0,768.2 L606.5,767.9 L606.9,767.6 L607.3,767.3 L607.7,767.1 L608.1,766.8 L608.6,766.5 L609.0,766.3 L609.4,766.0 L609.8,765.7 L610.2,765.5 L610.7,765.2 L611.1,764.9 L611.5,764.6 L611.9,764.4 L612.3,764.1 L612.7,763.8 L613.2,763.6 L613.6,763.3 L614.0,763.0 L614.4,762.7 L614.9,762.5 L615.3,762.2 L615.7,761.9 L616.1,761.7 L616.5,761.4 L617.0,761.1 L617.4,760.8 L617.8,760.6 L618.2,760.3 L618.6,760.0 L619.1,759.8 L619.5,759.5 L619.9,759.2 L620.3,759.0 L620.7,758.7 L621.2,758.4 L621.6,758.2 L622.0,757.9 L622.4,757.6 L622.9,757.4 L623.3,757.1 L623.7,756.8 L624.1,756.6 L624.5,756.3 L625.0,756.0 L625.4,755.8 L625.8,755.5 L626.2,755.2 L626.7,755.0 L627.1,754.7 L627.5,754.4 L627.9,754.2 L628.4,753.9 L628.8,753.7 L629.2,753.4 L629.7,753.2 L630.1,752.9 L630.5,752.7 L630.9,752.4 L631.4,752.2 L631.8,751.9 L632.2,751.7 L632.7,751.4 L633.1,751.2 L633.6,750.9 L634.0,750.7 L634.4,750.5 L634.9,750.2 L635.3,750.0 L635.8,749.8 L636.2,749.6 L636.6,749.3 L637.1,749.1 L637.5,748.9 L638.0,748.7 L638.4,748.5 L638.9,748.3 L639.3,748.1 L639.8,747.9 L640.3,747.7 L640.7,747.5 L641.2,747.3 L641.6,747.1 L642.1,746.9 L642.5,746.7 L643.0,746.5 L643.5,746.3 L643.9,746.2 L644.4,746.0 L644.9,745.8 L645.3,745.6 L645.8,745.4 L646.3,745.3 L646.7,745.1 L647.2,744.9 L647.7,744.7 L648.1,744.6 L648.6,744.4 L649.1,744.2 L649.6,744.1 L650.0,743.9 L650.5,743.7 L651.0,743.6 L651.4,743.4 L651.9,743.3 L652.4,743.1 L652.9,742.9 L653.3,742.8 L653.8,742.6 L654.3,742.4 L654.8,742.3 L655.2,742.1 L655.7,742.0 L656.2,741.8 L656.7,741.6 L657.1,741.5 L657.6,741.3 L658.1,741.1 L658.6,741.0 L659.0,740.8 L659.5,740.6 L660.0,740.5 L660.4,740.3 L660.9,740.1 L661.4,740.0 L661.9,739.8 L662.3,739.6 L662.8,739.4 L663.3,739.3 L663.7,739.1 L664.2,738.9 L664.7,738.7 L665.1,738.5 L665.6,738.4 L666.1,738.2 L666.5,738.0 L667.0,737.8 L667.4,737.6 L667.9,737.4 L668.4,737.2 L668.8,737.0 L669.3,736.8 L669.7,736.6 L670.2,736.4 L670.6,736.2 L671.1,736.0 L671.5,735.7 L672.0,735.5 L672.4,735.3 L672.9,735.1 L673.3,734.8 L673.8,734.6 L674.2,734.4 L674.6,734.1 L675.1,733.9 L675.5,733.6 L676.0,733.4 L676.4,733.1 L676.8,732.9 L677.2,732.6 L677.7,732.3 L678.1,732.1 L678.5,731.8 L678.9,731.5 L679.4,731.2 L679.8,730.9 L680.2,730.7 L680.6,730.4 L681.0,730.0" fill="none" stroke="#ff0000" stroke-width="2.3" stroke-linecap="butt" stroke-linejoin="round"/>
<path d="M439.3,948.2 L439.8,948.2 L440.3,948.2 L440.8,948.2 L441.3,948.2 L441.8,948.3 L442.3,948.3 L442.8,948.3 L443.3,948.3 L443.8,948.3 L444.4,948.3 L444.9,948.3 L445.4,948.3 L445.9,948.3 L446.4,948.3 L446.9,948.3 L447.4,948.4 L447.9,948.4 L448.4,948.4 L448.9,948.4 L449.4,948.4 L449.9,948.4 L450.4,948.4 L450.9,948.4 L451.4,948.4 L451.9,948.4 L452.4,948.4 L452.9,948.4 L453.4,948.4 L453.9,948.4 L454.4,948.4 L454.9,948.3 L455.4,948.3 L455.9,948.3 L456.4,948.3 L456.9,948.3 L457.4,948.3 L457.9,948.3 L458.4,948.3 L458.9,948.3 L459.4,948.3 L460.0,948.3 L460.5,948.3 L461.0,948.2 L461.5,948.2 L462.0,948.2 L462.5,948.2 L463.0,948.2 L463.5,948.2 L464.0,948.2 L464.5,948.1 L465.0,948.1 L465.5,948.1 L466.0,948.1 L466.5,948.1 L467.0,948.1 L467.5,948.0 L468.0,948.0 L468.5,948.0 L469.0,948.0 L469.5,948.0 L470.0,947.9 L470.4,947.9 L470.9,947.9 L471.4,947.9 L471.9,947.9 L472.4,947.8 L472.9,947.8 L473.4,947.8 L473.9,947.8 L474.4,947.7 L474.9,947.7 L475.4,947.7 L475.9,947.7 L476.4,947.6 L476.9,947.6 L477.4,947.6 L477.9,947.5 L478.4,947.5 L478.9,947.5 L479.4,947.4 L479.9,947.4 L480.4,947.4 L480.9,947.4 L481.4,947.3 L481.9,947.3 L482.4,947.3 L482.9,947.2 L483.4,947.2 L483.9,947.2 L484.4,947.1 L484.9,947.1 L485.4,947.1 L485.9,947.0 L486.4,947.0 L486.9,947.0 L487.4,946.9 L487.9,946.9 L488.4,946.8 L488.9,946.8 L489.4,946.8 L489.9,946.7 L490.4,946.7 L490.8,946.7 L491.3,946.6 L491.8,946.6 L492.3,946.5 L492.8,946.5 L493.3,946.5 L493.8,946.4 L494.3,946.4 L494.8,946.3 L495.3,946.3 L495.8,946.2 L496.3,946.2 L496.8,946.2 L497.3,946.1 L497.8,946.1 L498.3,946.0 L498.8,946.0 L499.3,946.0 L499.8,945.9 L500.3,945.9 L500.8,945.8 L501.3,945.8 L501.8,945.7 L502.3,945.7 L502.8,945.6 L503.3,945.6 L503.8,945.5 L504.3,945.5 L504.7,945.5 L505.2,945.4 L505.7,945.4 L506.2,945.3 L506.7,945.3 L507.2,945.2 L507.7,945.2 L508.2,945.1 L508.7,945.1 L509.2,945.0 L509.7,945.0 L510.2,944.9 L510.7,944.9 L511.2,944.8 L511.7,944.8 L512.2,944.7 L512.7,944.7 L513.2,944.6 L513.7,944.6 L514.2,944.5 L514.7,944.5 L515.2,944.4 L515.7,944.4 L516.2,944.3 L516.7,944.3 L517.2,944.2 L517.7,944.2 L518.2,944.1 L518.7,944.1 L519.2,944.0 L519.7,944.0 L520.2,943.9 L520.7,943.9 L521.1,943.8 L521.6,943.8 L522.1,943.7 L522.6,943.7 L523.1,943.6 L523.6,943.6 L524.1,943.5 L524.6,943.5 L525.1,943.4 L525.6,943.4 L526.1,943.3 L526.6,943.3 L527.1,943.2 L527.6,943.2 L528.1,943.1 L528.6,943.1 L529.1,943.0 L529.6,942.9 L530.1,942.9 L530.6,942.8 L531.1,942.8 L531.6,942.7 L532.1,942.7 L532.6,942.6 L533.1,942.6 L533.6,942.5 L534.1,942.5 L534.6,942.4 L535.1,942.4 L535.6,942.3 L536.1,942.3 L536.6,942.2 L537.1,942.2 L537.6,942.1 L538.1,942.1 L538.6,942.0 L539.1,942.0 L539.6,941.9 L540.1,941.8 L540.6,941.8 L541.1,941.7 L541.6,941.7 L542.1,941.6 L542.6,941.6 L543.1,941.5 L543.6,941.5 L544.1,941.4 L544.6,941.4 L545.1,941.3 L545.6,941.3 L546.1,941.2 L546.6,941.2 L547.2,941.1 L547.7,941.1 L548.2,941.0 L548.7,941.0 L549.2,940.9 L549.7,940.9 L550.2,940.8 L550.7,940.8 L551.2,940.7 L551.7,940.7 L552.2,940.6 L552.7,940.6 L553.2,940.5 L553.7,940.5 L554.2,940.4 L554.7,940.4 L555.2,940.3 L555.7,940.3 L556.2,940.2 L556.7,940.2 L557.2,940.1 L557.7,940.1 L558.3,940.0 L558.8,940.0 L559.3,939.9 L559.8,939.9 L560.3,939.8 L560.8,939.8 L561.3,939.7 L561.8,939.7 L562.3,939.6 L562.8,939.6 L563.3,939.5 L563.8,939.5 L564.3,939.4 L564.8,939.4 L565.3,939.3 L565.8,939.3 L566.3,939.2 L566.8,939.2 L567.4,939.1 L567.9,939.1 L568.4,939.0 L568.9,939.0 L569.4,938.9 L569.9,938.8 L570.4,938.8 L570.9,938.7 L571.4,938.7 L571.9,938.6 L572.4,938.6 L572.9,938.5 L573.4,938.4 L573.9,938.4 L574.4,938.3 L574.9,938.3 L575.4,938.2 L575.9,938.1 L576.4,938.1 L576.9,938.0 L577.4,938.0 L577.9,937.9 L578.4,937.8 L578.9,937.8 L579.4,937.7 L579.9,937.6 L580.4,937.6 L580.9,937.5 L581.4,937.4 L581.9,937.4 L582.4,937.3 L582.9,937.2 L583.4,937.2 L583.9,937.1 L584.4,937.0 L584.9,936.9 L585.4,936.9 L585.9,936.8 L586.4,936.7 L586.9,936.6 L587.4,936.6 L587.9,936.5 L588.4,936.4 L588.9,936.3 L589.4,936.2 L589.9,936.1 L590.4,936.1 L590.9,936.0 L591.4,935.9 L591.9,935.8 L592.4,935.7 L592.9,935.6 L593.4,935.5 L593.9,935.4 L594.4,935.4 L594.9,935.3 L595.3,935.2 L595.8,935.1 L596.3,935.0 L596.8,934.9 L597.3,934.8 L597.8,934.7 L598.3,934.6 L598.8,934.5 L599.3,934.4 L599.8,934.3 L600.2,934.2 L600.7,934.0 L601.2,933.9 L601.7,933.8 L602.2,933.7 L602.7,933.6 L603.1,933.5 L603.6,933.4 L604.1,933.3 L604.6,933.1 L605.1,933.0 L605.6,932.9 L606.0,932.8 L606.5,932.6 L607.0,932.5 L607.5,932.4 L608.0,932.3 L608.4,932.1 L608.9,932.0 L609.4,931.9 L609.9,931.7 L610.3,931.6 L610.8,931.5 L611.3,931.3 L611.8,931.2 L612.2,931.0 L612.7,930.9 L613.2,930.8 L613.7,930.6 L614.1,930.5 L614.6,930.3 L615.1,930.1 L615.5,930.0 L616.0,929.8 L616.5,929.7 L616.9,929.5 L617.4,929.4 L617.9,929.2 L618.3,929.0 L618.8,928.9 L619.2,928.7 L619.7,928.5 L620.2,928.4 L620.6,928.2 L621.1,928.0 L621.5,927.8 L622.0,927.6 L622.5,927.5 L622.9,927.3 L623.4,927.1 L623.8,926.9 L624.2,926.7 L624.7,926.5 L625.1,926.3 L625.6,926.1 L626.0,925.9 L626.4,925.6 L626.9,925.4 L627.3,925.2 L627.7,925.0 L628.1,924.7 L628.6,924.5 L629.0,924.3 L629.4,924.0 L629.8,923.8 L630.2,923.5 L630.6,923.2 L631.0,923.0 L631.4,922.7 L631.8,922.4 L632.1,922.1 L632.5,921.8 L632.9,921.5 L633.3,921.2 L633.6,920.9 L634.0,920.6 L634.3,920.3 L634.7,919.9 L635.0,919.6 L635.3,919.2 L635.7,918.9 L636.0,918.5 L636.3,918.2 L636.6,917.8 L636.9,917.4 L637.2,917.0 L637.5,916.6 L637.8,916.2 L638.1,915.8 L638.3,915.4 L638.6,915.0 L638.9,914.5 L639.1,914.1 L639.4,913.7 L639.7,913.2 L639.9,912.8 L640.2,912.3 L640.4,911.9 L640.7,911.4 L640.9,911.0 L641.1,910.5 L641.4,910.0 L641.6,909.6 L641.9,909.1 L642.1,908.6 L642.3,908.2 L642.5,907.7 L642.8,907.2 L643.0,906.7 L643.2,906.2 L643.4,905.8 L643.7,905.3 L643.9,904.8 L644.1,904.3 L644.3,903.8 L644.6,903.3 L644.8,902.9 L645.0,902.4 L645.3,901.9 L645.5,901.4 L645.7,900.9 L645.9,900.5 L646.2,900.0 L646.4,899.5 L646.7,899.1 L646.9,898.6 L647.1,898.1 L647.4,897.7 L647.6,897.2 L647.9,896.8 L648.1,896.3 L648.4,895.9 L648.7,895.4 L648.9,895.0 L649.2,894.5 L649.5,894.1 L649.7,893.7 L650.0,893.3 L650.3,892.9 L650.6,892.5 L650.9,892.1 L651.2,891.7 L651.5,891.3 L651.8,890.9 L652.1,890.5 L652.5,890.1 L652.8,889.8 L653.1,889.4 L653.5,889.1 L653.8,888.7 L654.2,888.4 L654.5,888.1 L654.9,887.8 L655.2,887.4 L655.6,887.1 L656.0,886.8 L656.3,886.5 L656.7,886.3 L657.1,886.0 L657.5,885.7 L657.9,885.5 L658.3,885.2 L658.7,885.0 L659.1,884.7 L659.5,884.5 L659.9,884.3 L660.3,884.1 L660.8,883.9 L661.2,883.7 L661.6,883.5 L662.0,883.3 L662.5,883.2 L662.9,883.0 L663.4,882.9 L663.8,882.7 L664.3,882.6 L664.7,882.5 L665.2,882.4 L665.7,882.3 L666.1,882.2 L666.6,882.1 L667.1,882.1 L667.5,882.0 L668.0,882.0 L668.5,881.9 L669.0,881.9 L669.5,881.9 L670.0,881.9 L670.5,881.9 L671.0,881.9 L671.5,881.9 L672.0,882.0 L672.5,882.0 L673.0,882.1 L673.5,882.2 L674.0,882.3 L674.5,882.3 L675.1,882.5 L675.6,882.6 L676.1,882.7 L676.6,882.9 L677.2,883.0 L677.7,883.2 L678.2,883.4 L678.8,883.6 L679.3,883.8 L679.9,884.0 L680.4,884.2 L681.0,884.5 L681.5,884.7" fill="none" stroke="#0000ff" stroke-width="2.3" stroke-linecap="butt" stroke-linejoin="round"/>
<rect x="243.80" y="29.40" width="95.00" height="73.90" fill="#fff" stroke="#777" stroke-width="1.1"/>
<text x="290.80" y="44.70" font-family="'Liberation Sans', sans-serif" font-size="11.6" font-weight="bold" font-style="normal" text-anchor="middle" fill="#000" >Cen X-3</text>
<line x1="248.00" y1="54.70" x2="294.50" y2="54.70" stroke="#0f5f30" stroke-width="2.3"/>
<text x="298.90" y="58.00" font-family="'Liberation Sans', sans-serif" font-size="9.3" font-weight="bold" font-style="normal" text-anchor="start" fill="#000" >model 1</text>
<line x1="248.00" y1="67.70" x2="294.50" y2="67.70" stroke="#0000ff" stroke-width="2.3"/>
<text x="298.90" y="71.00" font-family="'Liberation Sans', sans-serif" font-size="9.3" font-weight="bold" font-style="normal" text-anchor="start" fill="#000" >model 2</text>
<line x1="248.00" y1="80.30" x2="294.50" y2="80.30" stroke="#8c5a2a" stroke-width="2.3"/>
<text x="298.90" y="83.60" font-family="'Liberation Sans', sans-serif" font-size="9.3" font-weight="bold" font-style="normal" text-anchor="start" fill="#000" >model 3</text>
<line x1="248.00" y1="93.10" x2="294.50" y2="93.10" stroke="#ff0000" stroke-width="2.3"/>
<text x="298.90" y="96.40" font-family="'Liberation Sans', sans-serif" font-size="9.3" font-weight="bold" font-style="normal" text-anchor="start" fill="#000" >model 4</text>
<rect x="476.30" y="28.60" width="95.10" height="73.60" fill="#fff" stroke="#777" stroke-width="1.1"/>
<text x="523.30" y="43.80" font-family="'Liberation Sans', sans-serif" font-size="11.6" font-weight="bold" font-style="normal" text-anchor="middle" fill="#000" >Cen X-3</text>
<line x1="480.20" y1="54.00" x2="526.80" y2="54.00" stroke="#0f5f30" stroke-width="2.3"/>
<text x="531.00" y="57.30" font-family="'Liberation Sans', sans-serif" font-size="9.3" font-weight="bold" font-style="normal" text-anchor="start" fill="#000" >model 1</text>
<line x1="480.20" y1="66.60" x2="526.80" y2="66.60" stroke="#0000ff" stroke-width="2.3"/>
<text x="531.00" y="69.90" font-family="'Liberation Sans', sans-serif" font-size="9.3" font-weight="bold" font-style="normal" text-anchor="start" fill="#000" >model 2</text>
<line x1="480.20" y1="79.50" x2="526.80" y2="79.50" stroke="#8c5a2a" stroke-width="2.3"/>
<text x="531.00" y="82.80" font-family="'Liberation Sans', sans-serif" font-size="9.3" font-weight="bold" font-style="normal" text-anchor="start" fill="#000" >model 3</text>
<line x1="480.20" y1="92.30" x2="526.80" y2="92.30" stroke="#ff0000" stroke-width="2.3"/>
<text x="531.00" y="95.60" font-family="'Liberation Sans', sans-serif" font-size="9.3" font-weight="bold" font-style="normal" text-anchor="start" fill="#000" >model 4</text>
<rect x="249.40" y="371.30" width="95.10" height="74.00" fill="#fff" stroke="#777" stroke-width="1.1"/>
<text x="296.40" y="386.60" font-family="'Liberation Sans', sans-serif" font-size="11.6" font-weight="bold" font-style="normal" text-anchor="middle" fill="#000" >Cen X-3</text>
<line x1="253.80" y1="396.80" x2="300.30" y2="396.80" stroke="#0f5f30" stroke-width="2.3"/>
<text x="304.50" y="400.10" font-family="'Liberation Sans', sans-serif" font-size="9.3" font-weight="bold" font-style="normal" text-anchor="start" fill="#000" >model 1</text>
<line x1="253.80" y1="409.80" x2="300.30" y2="409.80" stroke="#0000ff" stroke-width="2.3"/>
<text x="304.50" y="413.10" font-family="'Liberation Sans', sans-serif" font-size="9.3" font-weight="bold" font-style="normal" text-anchor="start" fill="#000" >model 2</text>
<line x1="253.80" y1="422.60" x2="300.30" y2="422.60" stroke="#8c5a2a" stroke-width="2.3"/>
<text x="304.50" y="425.90" font-family="'Liberation Sans', sans-serif" font-size="9.3" font-weight="bold" font-style="normal" text-anchor="start" fill="#000" >model 3</text>
<line x1="253.80" y1="435.10" x2="300.30" y2="435.10" stroke="#ff0000" stroke-width="2.3"/>
<text x="304.50" y="438.40" font-family="'Liberation Sans', sans-serif" font-size="9.3" font-weight="bold" font-style="normal" text-anchor="start" fill="#000" >model 4</text>
<rect x="640.60" y="371.30" width="95.00" height="74.00" fill="#fff" stroke="#777" stroke-width="1.1"/>
<text x="687.90" y="386.60" font-family="'Liberation Sans', sans-serif" font-size="11.6" font-weight="bold" font-style="normal" text-anchor="middle" fill="#000" >Cen X-3</text>
<line x1="644.90" y1="396.80" x2="691.80" y2="396.80" stroke="#0f5f30" stroke-width="2.3"/>
<text x="695.70" y="400.10" font-family="'Liberation Sans', sans-serif" font-size="9.3" font-weight="bold" font-style="normal" text-anchor="start" fill="#000" >model 1</text>
<line x1="644.90" y1="409.80" x2="691.80" y2="409.80" stroke="#0000ff" stroke-width="2.3"/>
<text x="695.70" y="413.10" font-family="'Liberation Sans', sans-serif" font-size="9.3" font-weight="bold" font-style="normal" text-anchor="start" fill="#000" >model 2</text>
<line x1="644.90" y1="422.60" x2="691.80" y2="422.60" stroke="#8c5a2a" stroke-width="2.3"/>
<text x="695.70" y="425.90" font-family="'Liberation Sans', sans-serif" font-size="9.3" font-weight="bold" font-style="normal" text-anchor="start" fill="#000" >model 3</text>
<line x1="644.90" y1="435.10" x2="691.80" y2="435.10" stroke="#ff0000" stroke-width="2.3"/>
<text x="695.70" y="438.40" font-family="'Liberation Sans', sans-serif" font-size="9.3" font-weight="bold" font-style="normal" text-anchor="start" fill="#000" >model 4</text>
<rect x="96.3" y="731.6" width="103.2" height="87" fill="#fff" stroke="#777" stroke-width="1.1"/>
<text x="147.50" y="745.80" font-family="'Liberation Sans', sans-serif" font-size="10.6" font-weight="bold" font-style="normal" text-anchor="middle" fill="#000" >Cen X-3</text>
<line x1="100.20" y1="756.30" x2="148.20" y2="756.30" stroke="#0f5f30" stroke-width="2.0"/>
<text x="152.60" y="759.40" font-family="'Liberation Sans', sans-serif" font-size="9.3" font-weight="bold" font-style="normal" text-anchor="start" fill="#000" >model 1</text>
<line x1="100.20" y1="769.60" x2="148.20" y2="769.60" stroke="#0000ff" stroke-width="2.3"/>
<text x="152.60" y="772.70" font-family="'Liberation Sans', sans-serif" font-size="9.3" font-weight="bold" font-style="normal" text-anchor="start" fill="#000" >model 2</text>
<line x1="100.20" y1="782.60" x2="148.20" y2="782.60" stroke="#8c5a2a" stroke-width="2.3"/>
<text x="152.60" y="785.70" font-family="'Liberation Sans', sans-serif" font-size="9.3" font-weight="bold" font-style="normal" text-anchor="start" fill="#000" >model 3</text>
<line x1="100.20" y1="795.40" x2="148.20" y2="795.40" stroke="#ff0000" stroke-width="1.5"/>
<text x="152.60" y="798.50" font-family="'Liberation Sans', sans-serif" font-size="9.3" font-weight="bold" font-style="normal" text-anchor="start" fill="#000" >model 4</text>
<polygon points="124.70,803.90 125.88,807.07 129.27,807.22 126.62,809.32 127.52,812.58 124.70,810.72 121.88,812.58 122.78,809.32 120.13,807.22 123.52,807.07" fill="#000"/>
<text x="152.60" y="811.50" font-family="'Liberation Sans', sans-serif" font-size="9.3" font-weight="bold" font-style="normal" text-anchor="start" fill="#000" >observed</text>
<rect x="466.7" y="725.9" width="78.7" height="49.3" fill="#fff" stroke="#777" stroke-width="1.1"/>
<line x1="471.20" y1="748.80" x2="518.70" y2="748.80" stroke="#ff0000" stroke-width="2.3"/>
<line x1="471.20" y1="764.20" x2="518.70" y2="764.20" stroke="#0000ff" stroke-width="2.3"/>
<text x="523" y="752.3" font-family="'Liberation Sans', sans-serif" font-size="9.8" fill="#000">e<tspan font-size="7" dy="-3.2">-</tspan><tspan font-size="8.6" font-weight="bold">2</tspan><tspan font-size="8" fill="#444">&#955;</tspan></text>
<text x="523" y="767.9" font-family="'Liberation Sans', sans-serif" font-size="9.8" font-weight="bold" fill="#000">e<tspan font-size="8.6" dy="-2.8">2</tspan><tspan font-size="8.2" font-weight="normal" fill="#333">&#957;</tspan></text>
</svg>
</body></html>
